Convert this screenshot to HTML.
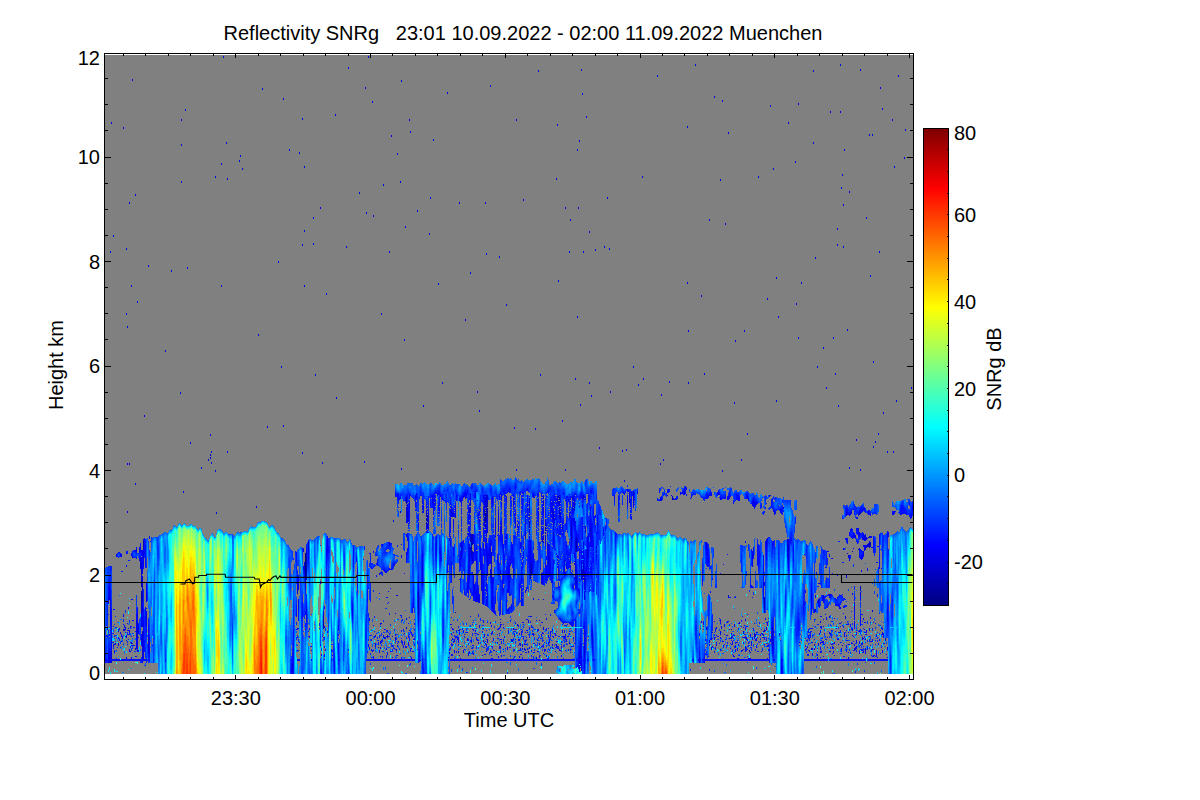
<!DOCTYPE html>
<html><head><meta charset="utf-8"><title>Reflectivity SNRg</title>
<style>html,body{margin:0;padding:0;background:#fff;width:1200px;height:800px;overflow:hidden}svg{display:block}</style>
</head><body>
<svg width="1200" height="800" viewBox="0 0 1200 800" shape-rendering="crispEdges">
<rect x="105" y="55" width="808" height="619" fill="#808080"/>
<g fill="none" stroke-width="1" transform="translate(0.5 0)"><path stroke="#000080" d="M305 556v19"/><path stroke="#000097" d="M305 553v3m0 19v2m180 -64v8m91 25v1"/><path stroke="#0000ae" d="M141 580v7m0 4v10m164 -24v3m1 -22v14m17 48v9m95 -32v17m8 -99v2m0 1v3m45 16v13m14 -39v1m0 9v2m0 1v1m1 -15v8m1 -13v2m0 1v5m42 1v2m0 1v3m0 1v7m2 42v4m14 -47v4m14 -36v1m0 1v3m17 41v5m0 1v5m96 -53v1m92 97v8m105 -58v1"/><path stroke="#0000c5" d="M109 662v1m2 -2v2m10 -22v1m14 6v2m6 -78v8m0 21v6m1 -22v16m1 -60v9m162 30v2m1 -27v3m0 14v4m3 53v1m14 -13v3m52 23v3m31 -149v7m0 123v2m1 -118v9m11 73v4m0 17v4m8 -106v3m0 7v2m1 -9v7m0 1v2m28 87v1m7 33v1m7 -48v1m1 -93v4m0 29v2m0 5v3m1 -16v3m0 13v3m1 -19v11m0 6v3m12 -44v6m0 1v6m1 -14v1m0 15v2m1 -32v5m0 6v4m0 8v3m1 -20v4m0 8v3m13 106v1m29 -115v5m0 16v4m1 34v12m1 -13v4m11 -30v2m1 0v1m2 -20v3m0 6v2m13 -38v2m0 1v1m1 1v3m0 9v1m12 10v15m5 -1v3m5 29v10m2 -14v8m0 1v2m0 1v2m4 -32v8m9 -6v3m33 -52v2m43 -7v3m1 -1v2m58 129v1m11 20v1m7 -1v2m15 -47v7m2 15v3m6 1v13m16 -99v14m26 85v2m1 -37v1m0 1v1m33 -57v2m4 -6v1m6 -3v1m1 -36v1m1 72v3m7 -44v1m1 -3v3m1 -4v4m1 -4v4"/><path stroke="#0000dc" d="M108 661v2m1 -68v5m0 57v2m0 2v1m1 -411v2m1 -131v2m0 526v9m2 -424v2m2 406v2m1 -91v1m5 -1v1m2 -428v2m0 500v2m1 -2v2m2 -383v2m0 63v2m0 250v2m1 -241v2m0 135v2m0 46v2m2 -311v2m0 259v2m0 165v2m2 -347v2m0 356v1m1 -565v2m0 476v1m0 85v1m3 -450v2m0 287v2m1 146v6m1 -336v2m0 320v14m1 0v1m1 -91v3m1 8v11m1 -4v7m0 35v7m1 -64v2m0 25v8m0 16v11m0 12v3m0 4v25m1 -117v2m0 13v5m1 -144v2m2 178v7m0 6v1m0 2v10m2 -356v2m0 372v8m2 -106v1m15 -192v2m6 -82v2m9 120v2m1 -275v2m0 23v2m0 35v2m2 308v2m2 -384v2m2 156v2m3 173v2m11 23v2m7 -10v2m2 -27v2m0 18v2m0 1v2m1 -8v2m0 9v2m4 -288v2m0 292v2m1 40v2m5 -351v2m0 120v2m2 -231v2m3 84v2m1 34v2m0 271v2m12 -293v2m1 -7v2m2 11v2m14 336v2m2 -174v2m4 -248v2m5 336v2m11 -167v2m3 103v2m2 -270v2m0 325v2m6 -278v2m3 513v10m5 -85v5m0 34v1m1 -1v1m1 -477v2m3 -36v2m0 124v2m0 206v2m2 -288v2m0 62v2m0 53v2m0 275v8m1 12v2m1 -32v3m0 21v3m2 -37v12m0 82v1m5 -420v2m0 24v2m2 129v2m5 -169v2m2 253v2m1 151v2m0 20v1m3 -345v2m9 -181v2m1 281v2m10 -153v2m2 -181v2m11 123v2m5 267v2m1 -376v2m1 123v2m2 -158v2m4 43v2m1 112v2m6 356v2m1 48v2m0 16v3m1 -331v2m2 -131v2m1 451v1m1 -1v2m2 -4v3m1 -47v1m1 -341v2m0 289v1m1 26v1m1 -435v2m2 383v2m3 73v1m1 -443v2m0 440v1m0 49v2m3 -466v2m0 328v2m1 -433v2m0 386v2m0 74v1m0 10v3m3 -219v2m0 292v1m1 -408v2m1 277v1m0 1v5m1 -4v3m0 9v3m1 -8v3m0 124v1m1 -524v2m0 513v1m1 -504v2m7 77v2m1 377v4m0 25v3m4 -54v4m1 -166v2m3 103v2m0 12v3m1 -14v1m0 11v3m1 -9v6m1 -292v2m1 -38v2m3 -60v2m5 142v2m4 97v2m5 -292v2m1 477v1m1 -33v2m0 111v2m1 -148v2m0 1v2m0 32v3m2 -32v3m1 -1v1m0 2v1m5 110v1m0 20v2m1 -451v2m0 426v1m1 -130v1m0 44v1m0 4v1m0 106v1m1 -115v8m4 -233v2m3 333v2m1 -152v2m0 1v5m0 32v24m1 -296v2m0 227v5m0 5v2m0 22v5m0 10v4m0 38v1m1 -40v3m1 -2v10m1 -5v4m0 11v1m0 78v2m3 -58v3m1 -209v2m1 205v5m1 -193v2m0 186v5m2 -30v11m0 3v4m1 64v1m1 -116v2m1 -36v4m0 13v3m1 -324v2m0 291v1m0 1v2m0 1v8m0 19v2m1 -276v2m0 245v6m0 15v3m1 -29v6m0 15v3m0 11v3m0 23v11m0 74v2m3 -558v2m0 461v10m1 -6v26m1 -82v2m5 144v2m2 -388v2m0 386v1m2 -151v7m0 25v8m2 93v1m3 -324v2m5 333v3m2 -14v2m0 28v1m1 -232v2m1 89v5m1 -404v2m0 348v2m1 153v2m4 -31v5m0 1v1m2 -403v2m1 447v2m1 -112v1m1 98v1m1 -6v1m2 -132v7m0 25v2m0 1v2m1 24v5m1 -5v4m2 67v3m2 -208v2m1 227v2m1 -30v1m0 9v2m1 -571v2m0 557v1m1 13v2m1 -271v2m2 160v4m1 -43v2m0 1v6m0 1v2m0 29v2m0 1v1m0 57v1m0 27v3m2 -110v3m0 12v5m1 115v2m2 -113v21m1 -8v11m0 77v1m3 -136v4m0 81v1m0 33v2m1 -119v11m0 9v9m1 -21v4m0 109v1m1 -1v1m1 -456v2m0 464v3m1 -523v2m0 370v4m0 35v1m1 -256v2m0 219v1m1 2v2m0 1v6m0 1v5m1 -9v1m0 1v5m2 -97v2m2 147v5m1 -367v2m0 260v2m3 30v1m1 -251v2m0 389v2m1 -425v2m0 275v1m1 23v4m0 15v4m1 -47v4m1 -1v2m0 1v5m0 1v2m1 -5v5m0 8v3m1 -143v2m0 162v10m0 13v20m1 -49v2m0 38v8m1 -435v2m0 165v2m1 -111v2m1 -69v2m0 515v2m0 2v3m0 1v7m1 -268v2m0 245v7m1 -589v2m0 494v5m1 -477v2m0 474v8m0 1v1m1 -328v2m0 242v4m0 61v6m1 4v12m0 64v11m1 -130v6m0 43v1m0 1v4m1 -466v2m1 438v7m2 -332v2m0 149v2m1 144v12m1 -145v2m0 133v6m1 102v3m3 -392v2m1 296v2m0 5v2m3 -109v2m5 -203v2m3 -51v2m2 49v2m1 141v2m4 102v1m8 -46v2m2 28v2m2 -33v2m3 41v9m4 -135v2m0 123v13m4 -11v1m1 -110v2m4 -210v2m1 200v2m14 -305v2m3 386v2m1 -71v2m2 63v2m4 34v1m2 -115v2m2 112v1m3 3v1m13 -374v2m0 154v2m1 46v2m0 50v2m7 -320v2m6 229v2m3 76v2m2 167v6m3 -329v2m1 274v1m1 151v3m1 -18v1m0 13v1m2 -551v2m6 81v2m0 450v4m2 -535v2m0 368v2m3 -249v2m0 273v1m3 -367v2m0 461v3m1 -101v2m4 156v1m1 -254v2m1 -64v2m6 117v2m2 170v3m1 -304v2m2 305v3m1 -207v2m0 63v1m1 159v1m2 -7v1m2 -150v1m1 -3v5m1 127v3m1 -2v3m3 -461v2m5 453v1m0 2v2m1 -53v3m0 26v1m0 17v2m1 -2v1m1 -92v8m1 -249v2m3 -195v2m2 520v4m0 13v4m1 -480v2m3 107v2m0 121v2m2 -86v2m2 194v1m7 26v13m1 -430v2m0 415v6m0 14v5m7 -403v2m1 140v2m2 -202v2m0 232v2m3 -57v2m10 312v6m0 47v1m1 -1v1m1 -580v2m0 70v2m1 504v2m1 -393v2m0 351v1m2 -245v2m0 233v2m1 -4v3m1 31v2m1 -14v2m3 -276v2m0 246v4m2 15v1m1 -228v2m1 162v1m0 95v1m1 -97v1m2 -441v2m1 531v1m1 -1v1m1 -308v2m2 34v2m2 -147v2m0 14v2m0 393v1m1 -235v2m0 232v1m2 -576v2m0 45v2m1 74v2m1 -15v2m0 469v1m1 -442v2m0 40v2m0 301v1m1 -401v2m2 424v3m1 -249v2m0 222v1m1 3v1m1 -367v2m0 274v2m1 44v2m1 -2v1m1 24v1m1 9v1m3 -110v2m3 72v1m0 18v2m0 14v1m1 -480v2m0 398v2m0 41v2m0 72v1m0 3v1m0 1v3m1 -36v1m0 90v1m1 -1v1m1 -106v2m0 6v4m0 81v1m1 -103v3m0 9v3m0 78v1m1 -95v4m0 10v1m0 98v3m1 -434v2m0 327v2m1 -4v2m1 -3v1m1 -410v2m0 400v1m0 4v2m1 -268v2m0 265v1m2 -409v2m0 474v2m1 -251v2m0 83v2m2 -7v2m2 214v1m1 -225v2m1 -184v2m1 -166v2m1 479v1m1 -461v2m0 518v1m1 -217v2m2 224v3m1 13v1m1 -204v2m5 -334v2m1 330v2m0 61v1m1 -349v2m2 232v2m2 -327v2m6 80v2m1 -30v2m6 256v2"/><path stroke="#0000f3" d="M108 597v7m0 51v4m1 -73v9m0 39v2m0 17v4m1 -58v21m0 37v2m0 2v2m1 -22v9m2 -8v1m1 7v3m2 -98v2m2 86v3m2 -93v1m0 78v2m1 -79v2m0 77v3m1 -1v3m1 -15v1m2 2v3m0 2v1m1 2v3m0 19v2m1 -36v1m0 20v1m1 -38v2m0 19v1m1 20v3m1 -26v1m0 15v1m0 8v1m1 -97v1m0 70v1m0 9v1m0 5v1m1 -87v1m3 -7v1m1 -4v5m0 68v11m0 6v12m1 -36v10m0 14v15m1 -27v9m1 -84v2m1 -2v1m1 -1v2m0 5v8m0 49v13m0 7v10m1 -92v22m0 2v1m0 35v12m0 32v3m0 2v2m1 -112v3m0 5v7m0 56v37m3 -77v13m0 26v6m2 3v9m0 8v6m1 -12v12m3 -8v1m139 23v5m1 -16v1m0 2v3m4 -52v5m0 7v1m1 -44v8m1 -9v10m0 9v11m1 32v1m4 -94v3m0 14v2m1 2v3m1 11v3m1 -38v3m0 27v1m0 29v9m2 -78v2m0 12v5m0 72v1m3 14v1m0 3v1m9 -7v2m1 8v2m2 -43v2m1 11v2m1 21v2m1 -102v5m1 -14v12m25 56v8m4 -57v3m1 11v10m11 5v1m0 55v3m1 -29v3m4 4v1m2 9v2m3 10v1m2 -22v1m0 29v1m1 -34v1m0 18v1m2 -8v3m1 -67v1m1 0v1m1 76v1m1 -20v2m1 -30v1m1 -60v1m0 25v1m2 -1v1m1 87v1m2 -10v1m1 -36v1m0 35v1m1 -1v2m1 -8v1m2 -145v1m1 -3v2m4 143v3m2 -133v5m0 17v3m0 15v3m0 63v2m1 -116v4m0 30v3m1 -31v5m0 3v4m0 121v3m1 -151v4m0 1v7m0 110v1m2 39v2m1 -49v3m1 -8v3m1 15v2m1 -130v3m3 87v4m0 32v3m1 37v1m3 -161v3m0 1v5m0 45v12m0 4v11m4 -75v2m0 18v2m1 -19v1m0 17v1m0 1v1m1 -16v4m0 6v5m4 -35v8m1 -3v5m1 -7v4m0 1v3m2 33v15m2 -60v1m1 -2v2m0 9v2m1 -11v2m0 54v8m1 -61v1m0 61v1m7 96v1m1 -122v1m0 1v1m1 -36v2m0 6v4m0 21v3m0 1v3m1 -34v8m0 116v2m1 -123v2m0 114v2m0 8v2m1 -128v4m0 4v4m0 23v2m0 80v1m0 2v1m1 -118v2m0 122v3m0 8v3m1 -147v12m4 -18v1m1 -2v2m0 42v3m0 6v8m0 86v1m1 -147v1m0 1v1m0 39v2m0 8v5m2 -62v3m0 152v3m1 -160v4m0 152v1m1 -157v6m1 -5v4m1 -1v1m0 86v6m0 48v3m1 -136v8m0 1v4m0 47v23m0 51v2m1 -138v1m0 8v4m0 18v2m0 32v10m1 -85v8m0 14v2m0 17v1m0 19v3m0 33v2m1 -36v3m0 81v3m2 -109v10m0 8v7m0 16v23m1 -14v10m1 -100v4m0 94v10m0 28v2m1 -85v3m0 1v2m0 2v11m0 24v7m0 3v2m0 35v3m1 -140v1m0 87v14m0 32v1m0 5v1m1 -49v6m0 36v1m0 5v1m0 1v2m1 -127v1m0 1v3m0 73v3m1 -52v24m1 -8v11m0 11v3m1 2v11m1 -105v4m0 36v5m0 3v8m0 29v23m0 37v2m1 -147v1m0 1v9m0 20v1m0 1v1m0 20v2m0 83v3m0 5v1m1 -113v3m0 11v3m0 45v1m0 48v1m0 1v2m1 -121v13m0 1v6m0 1v11m0 19v6m0 1v3m0 14v7m0 45v1m1 -133v11m0 21v5m0 11v7m0 65v2m1 -88v13m1 -19v11m1 -15v5m0 10v6m0 5v4m0 49v2m1 -126v2m0 78v6m0 14v5m0 30v2m0 20v1m1 -158v4m0 75v31m3 -86v11m0 109v1m3 -128v17m0 52v1m1 -88v3m0 135v1m0 10v3m1 -155v1m0 31v8m0 36v4m0 45v1m0 4v3m0 24v2m1 -151v2m0 20v2m0 98v1m4 -130v1m0 42v1m0 1v5m1 -49v2m0 36v5m1 108v3m1 -159v1m0 78v23m1 -102v2m0 72v22m1 -25v4m2 -18v6m0 86v2m1 -146v1m0 1v7m2 9v2m0 1v1m0 5v4m0 112v1m2 -114v2m0 1v1m0 1v2m1 104v1m0 1v1m0 5v1m1 -56v2m0 47v1m1 -98v6m0 39v1m0 55v3m0 8v1m1 -78v5m0 10v3m0 7v3m0 29v1m0 19v1m1 -7v2m1 -156v1m2 37v6m0 106v1m1 -15v1m0 13v1m1 -155v1m0 13v3m0 1v4m0 118v1m0 18v1m1 -30v3m0 28v2m1 -157v1m0 1v3m0 37v2m0 8v23m0 56v3m0 17v2m1 -109v22m0 54v1m1 -59v4m0 54v1m1 -57v15m0 55v1m1 -136v3m0 57v8m0 35v2m0 52v1m1 -1v1m2 -33v1m1 -72v1m1 -46v2m0 1v3m0 1v6m0 113v1m1 -11v1m2 -82v1m0 1v1m0 31v11m0 50v3m0 9v1m1 -151v1m0 1v1m0 31v5m0 41v9m0 47v1m0 13v1m1 -152v2m0 12v4m0 22v3m1 111v3m1 -135v1m0 1v1m0 20v4m0 19v5m0 81v2m1 -123v1m0 1v1m0 34v11m1 -33v12m1 10v10m0 60v3m0 4v3m1 -96v8m0 11v9m1 -17v20m0 52v2m1 -132v11m0 68v2m1 -78v5m0 4v5m0 61v3m0 13v2m0 46v2m0 1v1m1 -140v4m0 11v4m0 14v4m1 -27v2m1 -1v1m0 131v1m1 -153v2m0 1v1m1 -3v3m0 52v3m0 1v1m1 -58v2m0 52v1m1 -35v1m0 11v1m0 114v2m1 -156v1m0 11v1m0 1v1m0 7v5m0 128v1m1 -7v1m0 3v1m1 -124v4m0 101v3m0 3v1m1 -115v2m0 1v1m0 97v1m0 12v1m1 -77v9m0 5v1m0 47v1m0 13v3m1 -67v1m0 61v3m1 -141v1m0 68v4m2 -70v2m0 54v1m0 93v2m1 -137v4m0 36v1m0 68v1m1 -126v2m0 16v2m0 39v7m0 1v3m0 56v1m0 24v2m1 -133v2m0 23v3m0 79v1m0 20v1m1 -140v4m0 115v1m1 -131v3m0 11v3m0 5v3m1 -21v5m0 5v1m0 10v6m0 28v3m0 3v1m0 1v2m0 78v1m1 -123v2m0 14v5m0 16v7m0 20v4m0 32v6m0 1v6m1 -101v3m0 33v7m0 8v5m1 -52v14m1 37v1m1 -41v1m0 101v7m1 -14v8m0 7v1m0 2v5m0 1v1m1 -172v2m0 63v4m0 91v3m0 2v10m1 -176v5m0 51v2m0 10v1m0 2v1m1 -24v6m0 1v9m0 84v1m1 -148v2m0 1v1m0 64v1m0 1v3m0 13v8m0 1v9m0 30v16m0 11v2m0 2v8m1 -143v1m0 44v3m0 1v1m0 6v7m1 -39v21m1 -35v12m0 15v5m1 -34v14m0 2v7m2 -34v5m0 12v7m1 -22v5m0 6v11m1 -11v11m0 84v7m0 3v7m4 -102v1m0 9v2m1 -43v12m7 6v1m1 -4v1m9 -35v3m9 -6v1m1 0v1m3 -4v1m0 7v5m6 0v3m4 -15v1m23 4v4m1 -2v2m7 -9v1m1 -2v1m6 6v2m1 -1v1m4 -7v2m3 -2v2m1 -4v4m1 -5v1m1 4v1m4 2v1m1 -3v2m8 160v1m0 2v2m1 -35v1m1 -8v2m2 3v1m1 34v2m2 -115v7m0 72v3m1 -87v12m1 1v7m0 93v1m1 -162v1m0 144v3m0 1v2m1 -152v1m1 -1v2m3 141v1m1 -1v1m1 -11v2m0 6v1m0 9v1m1 -10v1m1 -145v3m0 141v1m1 -143v1m0 2v1m1 0v2m0 149v1m1 -151v1m0 126v3m1 12v1m2 -18v3m1 -130v1m1 137v1m1 -138v2m0 135v1m1 -138v2m1 -5v2m0 132v1m0 8v1m1 -1v1m1 -6v2m0 1v3m0 5v1m1 -1v1m1 -7v1m0 17v1m1 -33v3m0 8v1m0 20v1m3 -160v3m1 -2v3m0 143v2m1 -148v3m0 121v2m2 26v2m2 -25v1m1 -3v1m0 11v1m1 -97v2m0 76v2m0 6v3m0 16v3m2 -153v2m1 2v1m1 157v1m1 -1v1m1 -18v2m1 -142v2m0 1v2m0 45v16m0 19v2m0 49v3m1 -140v1m0 5v1m0 46v6m1 -58v5m0 117v1m1 -121v4m0 133v1m1 -139v3m0 127v1m0 7v1m1 -9v1m2 9v1m2 -10v1m1 -1v2m1 -80v1m0 26v13m1 -13v1m0 61v1m1 -104v1m1 5v8m0 67v1m1 -85v2m0 82v4m0 19v1m0 12v1m1 -14v1m0 3v2m2 -156v1m0 143v3m2 -18v3m0 21v3m1 -140v1m0 124v13m1 -138v4m1 -3v2m5 -3v1m1 0v2m0 152v8m2 -167v1m4 44v4m1 8v3m11 75v1m5 -89v1m2 85v1m1 5v2m1 -13v3m0 12v1m3 -65v10m0 6v11m0 29v1m1 -1v1m2 -34v3m0 27v1m1 -45v3m2 56v2m1 -73v1m0 18v5m0 36v3m1 -63v1m1 58v2m0 7v2m1 -11v1m1 -2v2m1 -44v3m0 39v1m2 -75v1m2 69v1m1 -44v1m1 -41v3m0 37v3m0 19v2m0 14v2m0 17v1m1 -58v2m0 55v1m1 -94v1m0 78v1m1 -80v1m2 96v1m2 -51v1m0 20v1m0 1v1m1 -54v1m0 29v1m1 26v1m0 11v1m1 -38v2m0 14v1m0 8v1m1 -26v2m0 14v1m0 18v1m2 -49v1m0 30v1m1 -78v1m1 84v4m1 -21v3m1 -108v5m0 22v1m1 -27v3m0 23v1m1 93v1m0 11v1m0 12v2m1 -145v2m0 39v6m0 83v1m1 -133v1m0 16v1m1 -18v1m0 24v1m0 91v1m0 13v1m1 -107v1m0 55v2m0 33v3m0 4v1m0 7v1m1 -108v2m1 -4v4m0 64v7m0 35v2m0 2v3m1 -116v2m0 110v3m1 -122v1m0 111v3m0 3v3m1 -106v1m1 -30v2m0 12v7m1 -24v2m0 21v2m0 13v2m0 6v1m0 72v2m1 -122v2m0 45v2m0 36v3m1 -88v1m0 46v2m0 11v2m1 -33v1m0 15v4m0 78v3m0 12v1m1 -119v6m0 11v2m1 -18v1m0 3v2m0 4v3m1 -14v1m0 4v2m0 4v4m0 85v1m1 -98v3m0 5v1m0 84v3m0 1v1m1 -97v1m1 -29v5m0 22v1m1 -1v1m1 -2v2m0 103v1m1 -106v2m0 103v1m0 8v2m1 -3v1m1 -1v1m3 -88v1m0 71v3m0 16v3m1 -110v1m0 15v1m1 -17v1m1 92v2m3 -9v3m1 1v2m0 5v1m1 -1v1m3 -35v5m0 33v3m1 -118v1m4 -20v2m1 -3v2m1 -3v3m17 2v2"/><path stroke="#000cff" d="M105 654v9m1 -38v1m0 9v2m0 22v2m1 -33v2m0 29v2m1 -75v11m0 53v5m0 4v2m1 -80v5m0 62v5m0 6v2m1 -95v5m0 18v10m0 21v6m0 25v6m0 2v2m1 -53v33m0 18v2m1 -2v2m1 -52v1m0 16v1m0 17v3m0 12v2m1 -52v1m0 34v1m0 14v2m1 -2v2m1 -2v2m1 -108v1m0 93v1m0 11v2m1 -32v3m0 5v2m0 20v2m1 -109v1m0 75v2m0 9v2m0 18v2m1 -107v3m0 103v1m1 -2v2m1 -2v2m1 -47v3m0 42v2m1 -36v3m0 31v2m1 -25v1m0 22v2m1 -110v3m0 86v1m0 18v2m1 -31v1m0 28v2m1 -101v1m0 69v1m0 8v1m0 19v2m1 -101v1m0 98v2m1 -34v1m0 31v2m1 -108v2m0 44v1m0 45v1m0 11v4m1 -110v1m0 3v1m0 43v1m0 20v1m0 24v1m0 13v2m1 -104v1m0 62v1m0 6v1m0 7v1m0 9v1m0 13v2m1 -111v1m0 76v1m0 17v1m0 13v2m1 -110v1m0 79v1m0 24v1m0 2v2m1 -103v1m0 55v6m0 36v1m0 2v2m1 -54v6m0 46v2m1 -38v2m0 25v2m0 7v2m1 -109v1m0 5v3m0 98v2m1 -116v5m0 1v2m0 4v1m0 101v2m1 -109v4m0 88v2m0 13v2m1 -2v2m1 -111v1m0 15v3m0 39v14m0 37v2m1 -123v17m0 85v12m0 7v2m1 -116v20m0 42v21m0 31v2m1 -34v5m0 27v2m1 -1v1m1 -37v6m0 23v4m0 2v2m1 -125v3m0 95v7m0 12v5m0 1v2m4 -2v2m12 -2v2m125 -1v1m1 -2v2m0 2v6m1 -16v5m0 1v2m1 -32v45m3 -122v10m0 43v7m0 17v1m1 -55v6m0 48v1m0 20v1m0 8v2m1 -86v5m0 30v11m0 29v1m0 8v2m1 -2v2m3 -59v17m1 -71v1m0 19v3m1 2v4m1 10v3m0 22v3m0 8v3m1 -79v2m0 52v8m0 9v6m2 -65v4m1 65v1m0 7v2m2 21v2m8 -33v1m1 -48v3m1 89v1m2 -62v1m1 -7v3m0 37v2m0 6v3m0 2v1m2 -117v6m0 5v10m1 -28v4m0 12v5m0 74v2m1 -87v7m3 106v2m1 -6v1m1 3v2m1 -4v15m4 -47v6m0 3v2m0 7v12m0 4v2m1 -2v2m4 -2v1m5 -11v1m4 -46v4m0 8v4m1 -72v20m3 -11v2m1 10v4m0 10v5m6 -29v1m3 99v2m1 -72v13m0 57v2m1 -2v2m1 -108v1m0 93v3m0 9v2m1 -2v2m1 -93v1m0 70v2m0 8v2m0 8v2m1 -93v1m0 81v2m0 7v2m1 -110v2m0 97v1m0 5v5m1 -25v2m0 21v2m1 -96v1m0 93v2m1 -98v2m0 10v2m0 82v2m1 -102v7m0 93v2m1 -19v3m0 14v2m1 -68v1m0 41v3m0 12v3m0 6v2m1 -89v2m0 73v2m0 10v2m1 -117v1m0 95v2m0 17v2m1 -117v2m0 113v2m1 -92v2m0 88v2m1 -92v2m0 58v1m0 8v1m0 20v2m1 -91v2m0 57v1m0 29v2m1 -90v2m0 24v1m0 50v1m0 10v2m1 -64v1m0 54v3m0 4v2m1 -119v2m0 26v1m0 88v2m1 -117v3m0 21v1m0 90v2m1 -118v2m0 106v1m0 7v2m1 -118v1m0 24v1m0 82v1m0 7v2m1 -2v2m1 -97v3m0 92v2m1 -98v3m0 93v2m1 -168v4m0 66v1m0 70v2m0 1v3m0 19v2m1 -166v2m0 158v1m0 3v2m1 -168v4m0 158v1m0 3v2m1 -168v8m0 140v2m0 16v2m1 -164v2m0 160v2m1 -165v1m0 85v1m0 32v1m0 43v2m1 -79v1m0 55v1m0 1v3m0 16v2m1 -42v2m0 21v3m0 14v2m1 -32v2m0 14v3m0 11v2m1 -2v2m1 -164v4m0 145v2m0 11v2m1 -165v1m0 20v6m0 32v8m0 74v2m0 7v2m0 11v2m1 -166v8m0 30v5m0 10v7m0 104v2m1 -155v4m0 13v2m0 11v15m0 72v1m0 11v3m0 21v2m1 -167v1m0 12v11m0 112v1m0 7v3m0 18v2m1 -166v1m0 135v2m0 15v1m0 7v1m0 2v2m1 -29v3m0 13v1m0 10v2m1 -54v3m0 24v3m0 14v1m0 7v2m1 -64v8m0 34v1m0 11v1m0 7v2m1 -23v2m0 19v2m1 -163v9m1 -14v7m0 2v1m2 16v2m0 1v6m0 53v4m0 39v3m0 32v2m0 1v1m1 -165v1m0 153v9m1 -1v1m1 -166v1m1 2v3m0 10v2m0 37v5m0 27v4m0 73v2m0 2v6m1 -166v10m0 155v6m2 -15v2m1 -157v3m0 22v1m0 1v2m1 -24v1m0 21v2m1 -23v5m0 17v1m2 -31v5m1 -12v3m1 5v5m1 -14v6m0 5v10m1 -22v5m0 8v3m1 -17v2m0 1v3m0 1v5m0 39v13m1 -64v2m0 41v4m0 15v5m1 -66v3m1 -5v3m0 11v6m0 1v2m1 -23v2m0 4v7m0 3v4m0 36v7m1 -60v1m0 52v4m0 8v4m1 -68v1m0 59v1m0 1v3m1 -62v2m1 -1v2m2 1v1m2 59v11m1 86v2m1 -129v4m0 114v1m1 -151v3m0 12v18m0 1v1m0 89v1m0 34v2m1 -155v3m0 54v20m0 41v1m0 29v2m0 3v2m1 -151v2m0 132v2m0 8v2m0 3v2m1 -151v2m0 12v4m0 21v7m0 85v2m0 16v2m1 -152v1m0 1v1m0 1v2m0 144v2m1 -158v3m0 130v2m0 21v2m1 -167v7m0 135v2m0 13v2m0 6v2m1 -24v3m0 19v2m1 -24v6m0 16v2m1 -163v2m0 56v9m0 67v3m0 20v1m0 3v2m1 -163v1m0 61v7m0 13v3m0 76v2m1 -166v5m0 1v1m0 1v4m0 1v2m0 47v5m0 97v2m1 -165v5m0 40v14m0 73v2m0 29v2m1 -168v2m0 45v4m0 86v3m0 26v2m1 -169v1m0 98v4m0 39v1m0 24v2m1 -170v2m0 166v2m1 -170v3m0 138v1m0 26v2m1 -170v4m0 41v3m0 39v6m0 6v3m0 39v1m0 26v2m1 -167v1m0 6v2m0 15v6m0 2v6m0 1v3m0 5v24m0 23v5m0 66v2m1 -165v1m0 1v2m0 16v4m0 1v4m0 1v8m0 44v6m0 67v3m0 5v2m1 -144v2m0 38v4m0 27v2m0 26v1m0 42v2m1 -102v3m0 86v1m0 10v2m1 -89v4m0 16v4m0 33v1m0 15v1m0 2v1m0 10v2m1 -63v3m0 28v2m0 14v1m0 13v2m1 -167v4m0 37v21m0 38v7m0 58v2m1 -170v3m0 55v11m0 22v10m0 41v1m0 25v2m1 -170v1m0 53v2m0 6v2m0 11v4m0 15v5m0 43v1m0 25v2m1 -79v6m0 71v2m1 -148v7m0 68v4m0 67v2m1 -150v5m0 6v8m0 1v3m0 10v7m0 43v1m0 30v3m0 31v2m1 -2v2m1 -108v9m0 97v2m1 -98v26m0 11v4m0 24v1m0 2v2m0 26v2m1 -161v5m0 1v12m0 1v2m0 1v4m0 1v8m0 16v5m0 16v8m0 23v2m0 16v2m0 14v1m0 21v2m1 -131v2m0 9v1m0 9v7m0 96v1m0 4v2m1 -162v1m0 33v1m0 1v1m0 1v7m0 3v9m0 33v2m0 63v1m0 4v2m1 -117v1m0 11v7m0 22v7m0 1v1m0 2v3m0 31v1m0 6v1m0 1v1m0 4v3m0 12v2m1 -115v5m0 23v2m0 13v18m0 15v1m0 36v2m1 -112v4m0 106v2m1 -120v6m0 11v6m0 95v2m1 -122v4m0 30v5m0 81v2m1 -161v4m0 36v6m0 38v14m0 5v7m0 15v2m0 19v1m0 11v3m1 -159v3m0 44v2m0 57v4m0 19v3m0 12v1m0 11v3m1 -115v8m0 23v7m0 12v17m0 25v3m0 9v1m0 8v2m1 -126v1m0 68v10m0 36v1m0 8v2m1 -143v4m0 11v2m0 1v1m0 59v8m0 7v4m0 44v2m1 -10v1m0 7v2m1 -161v1m0 34v1m0 18v10m0 65v1m0 4v1m0 3v1m0 20v2m1 -165v1m0 14v4m0 18v2m0 3v4m0 20v9m0 57v2m0 8v1m0 17v2m0 1v2m1 -166v2m0 38v2m0 91v1m0 4v1m0 25v2m1 -169v2m0 29v2m0 9v7m0 35v1m0 23v15m0 24v1m0 6v3m0 10v2m1 -157v3m0 14v3m0 10v9m0 96v1m0 1v3m0 11v2m0 2v2m1 -125v13m0 30v12m0 22v2m0 44v2m1 -171v3m0 51v21m0 6v13m0 4v5m0 50v1m0 5v1m0 1v1m0 7v2m1 -171v6m0 59v12m0 69v2m0 21v2m1 -169v2m0 2v1m0 1v1m0 37v2m0 7v3m0 100v1m0 10v2m1 -163v4m0 37v5m0 22v9m0 21v15m0 48v2m1 -170v2m0 66v21m0 9v4m0 16v4m0 46v2m1 -172v2m0 71v8m0 38v4m0 16v1m0 3v2m0 25v2m1 -173v3m0 68v6m0 22v9m0 11v2m0 50v2m1 -173v4m0 4v5m0 9v7m0 1v1m0 37v6m0 13v2m0 82v2m1 -119v21m0 41v5m0 50v2m1 -117v4m0 6v9m0 96v2m1 -167v2m0 9v3m0 49v23m0 79v2m1 -163v2m0 1v3m0 7v1m0 1v4m0 18v4m0 95v3m0 12v2m0 5v2m0 1v2m1 -176v5m0 21v3m0 13v1m0 94v2m0 5v1m0 29v2m1 -32v1m0 29v2m1 -137v2m0 7v3m0 123v2m1 -139v2m0 2v4m0 95v2m0 13v1m0 9v1m0 8v2m1 -167v1m0 89v6m0 2v6m0 35v2m0 5v1m0 2v2m0 5v1m0 5v2m0 1v2m1 -168v2m0 53v1m0 4v3m0 26v5m0 61v3m0 8v2m1 -169v1m0 40v6m0 4v4m0 24v6m0 5v1m0 5v4m0 13v1m0 23v1m0 1v3m0 25v2m1 -169v2m0 1v2m0 1v11m0 46v1m0 1v3m0 2v8m0 26v1m0 1v8m0 16v1m0 21v3m0 12v2m1 -169v2m0 52v4m0 1v7m0 64v1m0 1v1m0 34v2m1 -18v2m0 14v2m1 -146v17m0 58v3m0 39v1m0 7v3m0 6v2m0 1v1m0 6v2m1 -74v4m0 28v1m0 32v1m0 6v2m1 -173v2m0 5v9m0 8v5m0 102v1m0 39v2m1 -171v2m0 48v23m0 97v1m1 -121v8m0 23v5m0 61v1m0 21v2m1 -2v2m1 -111v8m0 92v2m0 7v2m1 -168v4m0 57v6m0 73v2m0 24v2m1 -168v2m0 58v2m0 8v5m0 75v1m0 15v2m1 -166v3m0 145v1m0 15v2m1 -1v1m1 -2v2m1 -167v3m0 133v2m0 19v1m0 7v2m1 -168v4m0 1v6m0 13v7m0 75v1m0 38v1m0 9v1m0 2v1m0 7v2m1 -119v4m0 110v2m0 1v2m1 -93v2m0 89v2m1 -168v4m0 22v6m0 1v4m0 1v8m0 83v1m0 37v1m1 -160v2m0 1v11m0 9v1m0 1v1m0 1v2m0 42v4m0 46v1m0 10v1m0 25v2m1 -148v3m0 13v5m0 42v9m0 48v1m0 12v2m0 5v1m0 5v2m1 -19v1m0 16v2m1 -152v8m0 27v3m0 21v13m0 78v2m1 -137v3m0 29v4m0 16v5m0 37v2m0 23v1m0 15v2m1 -106v25m0 78v3m1 -170v3m0 81v3m0 50v1m0 30v2m1 -117v5m0 91v3m0 16v2m1 -161v17m0 35v8m0 71v1m0 27v2m1 -162v2m0 13v4m0 55v8m0 50v1m0 27v2m1 -160v4m0 14v3m0 25v2m0 18v13m0 79v2m1 -165v10m0 21v4m0 14v3m0 11v10m0 22v3m0 4v2m0 36v2m0 21v2m1 -167v7m0 13v3m0 18v15m0 60v1m0 1v1m0 46v2m1 -165v8m0 11v4m0 8v1m0 72v1m0 33v2m0 23v2m1 -165v1m0 1v1m0 4v17m0 4v3m0 6v2m0 18v2m0 1v1m0 84v1m0 17v2m1 -158v2m0 16v2m0 5v5m0 27v1m0 1v3m0 1v2m0 73v1m0 4v1m0 1v1m0 10v2m1 -157v3m0 50v2m0 5v13m0 2v1m0 7v1m0 58v1m0 1v1m0 10v2m1 -138v1m0 1v9m0 45v2m0 5v2m0 31v1m0 39v2m1 -165v7m0 1v2m0 16v1m0 1v11m0 24v1m0 59v2m0 38v2m1 -137v1m0 2v1m0 50v1m0 41v2m0 24v2m0 7v2m0 2v2m1 -140v4m0 4v3m0 1v2m0 42v1m0 44v1m0 1v1m0 34v2m1 -167v1m0 25v2m0 8v6m0 1v1m0 29v8m0 47v1m0 35v3m1 -107v6m0 15v1m0 83v2m1 -102v3m0 11v2m0 47v1m0 36v2m1 -164v7m0 16v9m0 14v12m0 7v3m0 57v1m0 16v3m0 17v2m1 -165v2m0 52v19m0 55v1m0 11v1m0 22v2m1 -163v1m0 53v3m0 3v11m0 67v1m0 22v2m1 -167v1m0 15v1m0 1v2m0 25v1m0 1v2m0 9v2m0 7v7m0 91v2m1 -160v2m0 9v2m0 1v1m0 2v18m0 9v12m0 11v2m0 52v2m0 12v1m0 15v1m0 6v2m1 -115v4m0 22v1m0 49v3m0 34v2m1 -159v5m0 4v4m0 3v23m0 44v3m0 34v4m0 20v1m0 12v2m1 -166v1m0 17v1m0 7v5m0 27v1m0 31v4m0 32v5m0 11v2m0 20v2m1 -165v4m0 27v5m0 21v2m0 22v2m0 41v1m0 38v2m1 -167v1m0 28v14m0 15v6m0 61v2m0 13v6m1 -110v3m0 32v4m0 34v1m0 55v2m1 -128v4m0 39v12m0 1v2m0 68v2m1 -127v8m0 8v1m0 38v2m0 61v17m1 -173v2m0 51v17m0 15v1m0 7v6m0 51v4m0 9v2m1 -169v3m0 1v1m0 53v3m0 84v6m0 16v2m1 -167v2m0 2v1m0 51v9m0 1v1m0 82v13m0 3v2m1 -168v2m0 9v4m0 9v23m0 15v4m0 1v3m0 21v7m0 69v1m1 -135v1m0 14v2m0 83v3m0 4v1m0 25v2m1 -167v1m0 60v1m0 1v5m0 1v1m0 59v7m0 29v2m0 8v5m1 -176v2m0 68v3m0 18v3m0 4v1m0 1v1m0 32v22m0 6v2m1 -112v1m0 21v6m1 -63v2m0 4v4m0 44v6m0 85v2m1 -168v1m0 1v6m0 23v1m0 8v1m0 14v2m0 7v5m0 5v10m0 59v1m0 22v2m1 -141v17m0 5v6m1 -58v3m0 13v10m0 1v6m0 41v1m0 1v7m1 -83v4m0 25v6m0 28v1m0 7v17m0 51v8m1 -114v13m0 14v1m0 3v1m0 2v6m0 19v1m0 45v3m0 17v4m0 7v1m1 -153v8m0 1v4m0 20v11m0 1v11m0 5v1m0 18v5m0 67v2m1 -145v8m0 135v2m1 -146v3m0 7v2m1 5v3m0 23v3m1 -34v7m6 -7v9m2 -10v4m9 -31v3m1 30v9m3 -45v10m4 -14v1m0 10v2m1 -13v1m1 0v1m1 -2v1m2 -4v2m0 4v4m0 5v3m1 -18v3m2 0v1m0 5v9m0 1v1m0 1v3m0 1v4m1 -27v11m0 12v1m0 1v4m1 -26v2m1 11v1m1 -15v8m0 1v1m0 1v1m3 -14v1m20 6v1m2 -8v2m0 6v2m2 -5v3m6 -8v2m1 -3v2m1 -3v2m7 7v1m1 -2v2m3 -7v1m1 -1v2m1 -2v2m1 -3v2m1 -5v3m1 -4v3m0 1v3m1 -6v2m0 4v1m5 0v1m1 163v2m1 -167v1m0 164v2m2 -167v1m3 164v2m1 -28v3m0 15v7m0 1v2m1 -2v2m2 -164v1m0 71v13m0 77v2m1 -163v2m0 121v4m0 34v2m1 -6v6m1 -119v8m0 89v2m0 2v1m0 10v1m0 4v2m1 -167v5m0 56v8m0 91v1m0 4v2m1 -167v5m0 56v11m0 93v2m1 -166v3m0 51v7m0 7v4m0 42v2m0 48v2m1 -167v1m0 164v2m1 -169v2m0 74v1m0 22v2m0 46v1m0 19v2m1 -169v2m0 144v2m0 19v2m1 -82v1m0 58v1m0 20v2m1 -2v2m1 -40v1m0 16v2m0 11v2m0 6v2m1 -33v3m0 28v2m1 -2v2m1 -169v4m0 163v2m1 -170v1m0 167v2m1 -169v2m0 149v1m0 15v2m1 -165v2m0 121v5m0 13v2m0 20v2m1 -164v2m0 160v2m1 -164v2m0 160v2m1 -16v3m0 11v2m1 -164v2m0 131v1m0 28v2m1 -166v2m0 142v1m0 19v2m1 -39v1m0 36v2m1 -165v2m0 56v1m0 66v2m0 36v2m1 -165v2m0 123v1m0 37v2m1 -168v2m0 164v2m1 -166v2m0 151v1m0 10v2m1 -2v2m1 -20v3m0 15v2m1 -159v2m0 136v1m0 18v2m1 -64v1m0 61v2m1 -16v3m0 1v3m0 7v2m1 -167v6m0 142v1m0 16v2m1 -167v3m0 145v1m0 5v3m0 7v3m1 -166v3m0 125v1m0 4v2m0 28v3m1 -165v2m0 161v2m1 -2v2m1 -2v2m1 -45v1m0 42v2m1 -19v2m0 5v1m0 9v2m1 -27v1m0 24v2m1 -27v1m0 1v3m0 10v3m0 7v2m1 -167v5m0 127v1m0 32v2m1 -167v2m0 118v1m0 11v1m0 12v2m0 8v1m0 9v2m1 -164v3m0 142v2m0 15v2m1 -2v2m1 -77v4m0 46v3m0 22v2m1 -158v1m0 45v3m0 22v1m0 10v3m0 55v3m0 13v2m1 -161v1m0 96v1m0 61v2m1 -163v2m0 47v6m0 34v1m0 71v2m1 -162v2m0 5v3m0 127v3m0 20v2m1 -160v2m0 136v1m0 19v2m1 -160v1m0 136v2m0 5v3m0 11v2m1 -159v2m0 41v20m0 72v1m0 21v2m1 -115v21m0 92v2m1 -111v14m0 95v2m1 -27v2m0 5v1m0 17v2m1 -156v3m0 143v1m0 7v2m1 -24v1m0 21v2m1 -105v26m0 13v5m0 37v1m0 21v2m1 -150v2m0 124v3m0 19v2m1 -119v7m0 69v2m0 39v2m1 -158v1m0 51v6m0 98v2m1 -121v6m0 113v2m1 -43v1m0 2v1m0 22v1m0 14v2m1 -166v2m0 162v2m2 -162v7m0 120v14m1 -132v1m0 32v7m0 72v4m0 27v3m1 -145v2m0 30v5m0 82v8m0 13v5m0 5v2m1 -151v1m0 148v2m1 -150v1m4 -3v2m0 122v2m1 -126v2m0 129v1m1 -132v3m0 147v7m1 -159v5m0 147v2m0 6v7m1 -166v1m0 2v1m4 44v3m1 8v4m1 -31v10m1 -13v6m1 -5v3m2 4v17m5 57v12m5 -30v12m1 -11v4m0 53v2m1 -71v3m0 45v1m0 6v2m0 2v2m0 8v2m1 -13v2m0 9v2m1 -7v1m0 4v2m1 -32v4m0 5v1m0 15v1m0 4v2m1 -32v1m0 2v1m0 5v3m0 9v2m0 7v2m1 -29v6m0 21v2m1 -80v5m0 42v1m0 2v1m0 16v1m0 10v2m1 -53v1m0 19v1m0 19v1m0 4v3m0 3v2m1 -2v2m1 -49v1m0 46v2m1 -2v2m1 -89v3m0 84v2m1 -13v1m0 8v4m1 -2v2m1 -63v10m0 51v2m1 -45v1m0 13v3m0 14v3m0 9v2m1 -45v1m0 9v3m0 9v1m0 20v2m1 -66v6m0 58v2m1 -111v3m0 49v1m0 16v1m0 6v1m0 15v3m0 11v1m0 2v2m1 -65v5m0 32v1m0 10v1m0 14v2m1 -22v1m0 19v2m1 -44v3m0 19v1m0 19v2m1 -66v1m0 11v1m0 51v2m1 -66v1m1 1v1m0 61v2m1 -65v2m0 35v3m0 23v2m1 -67v1m0 35v1m0 28v2m1 -15v2m0 11v2m1 -14v1m0 3v2m0 6v2m1 -43v1m0 23v2m0 15v2m1 -63v1m0 6v1m0 25v1m0 27v2m1 -62v2m0 2v2m0 54v2m1 -64v2m0 4v2m0 30v1m0 23v2m1 -65v1m0 7v3m0 52v2m1 -66v1m0 8v3m0 52v2m1 -66v1m0 8v1m0 54v2m1 -66v1m0 26v1m0 25v2m0 1v1m0 7v2m1 -143v1m0 77v2m0 61v2m1 -55v2m0 51v2m1 -63v1m0 7v2m0 51v2m1 -123v1m0 120v2m1 -154v4m0 28v2m0 83v1m0 5v1m0 4v2m0 3v1m0 4v3m0 1v3m0 7v2m1 -152v3m0 27v5m0 80v1m0 15v1m0 18v2m1 -149v3m0 108v2m0 27v1m0 6v2m1 -149v2m0 18v4m0 123v2m1 -150v1m0 18v3m0 2v2m0 18v1m0 68v3m0 32v2m1 -151v2m0 16v3m0 5v1m0 122v2m1 -132v2m0 4v2m0 122v2m1 -129v4m0 100v1m0 4v1m0 17v2m1 -128v1m0 64v3m0 8v11m0 1v8m0 30v2m1 -124v2m0 120v2m1 -144v2m0 10v5m0 7v1m0 90v3m0 15v2m0 7v2m1 -144v2m0 9v7m0 7v1m0 116v2m1 -149v2m0 21v2m0 122v2m1 -151v1m0 25v1m0 14v6m0 84v3m0 7v3m0 5v2m1 -153v2m0 23v3m0 13v2m0 4v2m0 41v3m0 16v9m0 19v1m0 3v1m0 9v2m1 -154v3m0 1v2m0 37v2m0 2v3m0 57v1m0 28v2m0 4v1m0 9v2m1 -153v4m0 20v7m0 12v4m0 59v1m0 27v3m0 4v1m0 9v2m1 -153v3m0 22v1m0 84v2m0 31v2m0 6v2m1 -153v4m0 110v1m0 9v1m0 26v2m1 -39v1m0 9v1m0 5v2m0 11v3m0 5v2m2 -93v3m0 75v4m0 10v1m1 -2v2m1 -151v5m0 113v3m0 28v2m1 -147v2m0 101v2m0 3v1m0 22v1m0 13v2m1 -114v1m0 107v1m0 3v2m1 -114v1m0 91v3m0 14v1m0 2v2m1 -125v17m0 69v1m0 32v2m0 2v2m1 -6v1m0 3v2m1 -38v1m0 16v1m0 3v1m0 14v2m1 -11v3m0 6v2m1 -2v2m1 -18v2m0 14v2m1 -127v10m0 15v10m0 90v2m1 -2v2m1 -34v2m0 18v1m0 11v2m1 -32v1m0 20v3m0 6v2m1 -28v3m0 23v2m1 -2v2m1 -2v2m1 -2v2m1 -130v8m0 62v8m0 5v8m0 35v1m0 1v2m1 -128v4m2 122v2m2 -150v2m1 -2v1m2 -1v1m5 -4v7m1 -10v10m1 -10v9m1 -7v7m1 -5v4m1 -2v3m1 -2v3m3 1v1m1 -3v5m1 -6v3m1 -11v6"/><path stroke="#0023ff" d="M105 645v9m1 7v2m1 -62v21m0 13v3m0 23v2m1 -84v7m0 28v1m0 15v2m0 10v8m1 -75v6m0 46v1m0 14v6m1 -77v18m0 37v7m0 12v6m1 -85v4m0 30v8m1 25v1m0 8v1m1 -10v1m0 13v2m1 -25v1m0 10v2m1 -21v1m0 10v1m1 -1v1m0 9v1m0 20v1m1 -105v3m1 -5v1m0 4v1m1 -5v1m0 2v1m1 90v1m1 -77v1m1 -1v1m1 47v3m4 -71v3m0 78v3m0 6v2m1 -9v1m1 -15v2m0 10v3m1 11v2m2 -96v3m0 78v1m1 -84v1m1 0v1m1 0v1m0 4v1m1 -6v2m0 3v1m0 50v6m3 -61v5m0 76v1m1 -92v2m0 8v4m0 81v2m0 21v2m1 -6v2m0 2v2m2 -74v19m1 -53v3m0 58v24m1 -101v6m0 20v3m0 60v14m0 5v11m1 -94v4m0 64v5m0 24v2m1 -71v9m0 43v2m1 -27v5m0 33v2m1 -33v8m0 24v1m0 2v1m141 6v6m1 -13v2m1 -15v5m1 -95v2m0 47v22m2 -78v3m1 8v11m0 27v5m0 17v2m0 13v3m1 -70v5m0 60v3m0 7v1m1 -9v1m0 1v3m3 -40v20m1 -74v4m0 45v5m0 17v9m1 -57v3m0 37v6m1 -40v3m0 30v9m1 -29v4m0 10v8m0 14v4m1 -85v2m0 47v7m0 23v4m1 -85v20m1 0v3m2 80v1m9 -24v3m2 44v3m2 -62v1m1 25v3m1 -12v3m1 -92v4m0 21v20m1 -27v4m1 -22v7m0 7v8m1 -15v7m2 96v3m1 -2v2m1 -5v12m0 2v5m1 -13v4m0 15v2m4 -54v5m0 30v4m0 2v4m14 -64v3m0 16v3m1 -78v3m0 20v4m3 -17v2m1 10v2m0 19v3m7 -45v4m1 78v14m1 -28v26m1 -67v16m0 13v9m0 40v2m1 -40v4m0 22v2m1 -78v4m1 -14v15m0 14v20m0 33v1m0 17v2m1 -92v1m0 2v2m0 67v1m0 21v1m1 -95v1m0 3v1m0 89v1m1 -92v2m0 22v2m1 -28v3m0 49v2m0 13v1m1 -78v2m0 90v3m1 -95v2m0 77v1m1 -88v1m0 90v2m0 1v1m1 -96v1m0 19v1m0 66v1m0 7v1m3 -96v1m0 25v4m0 58v2m1 -89v1m0 19v4m0 2v4m0 63v3m0 9v1m0 4v2m1 -114v1m0 7v1m0 13v3m0 82v1m1 -101v3m0 13v2m1 -20v5m0 14v2m1 -23v3m0 2v1m0 16v2m0 65v1m0 18v3m1 -114v5m0 20v3m1 -28v5m0 19v2m0 62v1m0 3v1m1 -90v3m0 63v2m0 18v2m0 1v1m1 -92v4m0 39v1m1 -45v1m0 21v2m1 -5v7m0 66v1m0 8v2m0 2v3m1 -90v2m0 3v2m0 76v1m1 -92v1m0 7v1m0 66v2m1 -140v2m0 69v1m0 77v3m1 -150v2m0 67v1m0 74v3m1 -143v4m0 44v2m0 14v1m1 -61v3m0 3v1m1 -12v1m1 -3v2m1 -2v2m0 119v3m0 12v2m0 25v2m1 -18v1m1 -142v1m1 -2v2m0 72v1m0 67v1m1 -147v2m0 4v1m0 32v1m1 -41v2m1 -3v2m0 60v5m1 -68v2m0 7v1m0 1v3m0 19v2m0 6v3m0 15v7m1 -65v1m0 24v5m1 -29v1m0 154v3m0 11v2m1 -169v1m0 112v4m1 -116v1m0 105v4m1 -110v2m0 82v16m0 31v1m1 -10v1m0 9v2m0 5v1m0 6v3m1 -139v1m0 1v2m1 -8v8m0 30v12m1 -60v10m0 12v7m0 69v18m0 32v3m0 5v1m1 -146v1m0 9v5m0 9v3m0 43v7m0 46v4m0 21v7m0 2v1m1 -165v1m0 97v20m0 32v5m1 -162v6m1 -4v3m0 60v31m1 -92v4m0 48v4m0 36v3m0 69v1m0 2v2m0 6v5m1 -182v5m0 2v4m0 50v4m0 107v4m1 -170v1m2 0v5m1 -2v3m0 1v2m1 -12v14m1 -14v2m1 -4v8m0 5v1m1 -14v1m0 4v9m1 -14v1m0 39v17m1 -58v1m0 23v3m1 -28v1m0 16v2m1 -21v2m0 12v2m0 32v5m0 13v5m1 -71v2m0 67v4m1 -73v3m1 -5v3m0 11v3m0 10v2m1 -30v4m0 4v2m0 14v3m0 23v10m0 7v8m1 -70v2m0 50v3m0 16v3m1 -72v1m0 1v2m0 18v6m0 1v5m0 23v4m1 -60v3m1 -5v6m0 119v20m1 -148v2m0 2v1m0 5v1m1 -1v2m1 -9v12m1 -16v2m0 10v1m0 52v8m0 29v5m1 -94v1m0 46v16m1 -44v11m0 24v14m1 -72v2m0 56v14m0 77v3m1 -146v2m0 46v11m0 54v1m0 9v1m0 12v1m0 2v3m1 -138v2m0 52v3m0 32v7m1 -111v2m0 13v2m0 18v4m0 24v6m0 34v5m1 -95v2m0 36v13m0 18v3m0 57v2m1 -146v1m0 7v1m0 1v2m0 135v1m1 -147v2m0 136v3m1 -139v7m1 -6v1m0 130v2m0 16v2m0 3v1m1 -154v2m0 51v7m0 9v7m0 7v1m1 -83v1m0 69v4m0 7v2m0 3v9m1 -82v5m0 1v11m0 1v4m0 30v5m1 -74v3m0 59v13m1 -76v1m0 51v9m0 5v13m1 -81v2m0 64v35m0 45v2m1 -149v2m0 101v4m1 -107v2m0 97v8m0 27v2m0 47v1m1 -184v2m0 42v2m0 39v4m0 18v1m0 75v1m1 -183v4m0 4v3m0 35v1m0 1v3m0 52v4m0 46v2m0 7v2m1 -159v1m0 40v1m0 47v6m1 -71v12m0 1v1m0 28v7m0 57v2m0 13v2m1 -158v5m0 73v3m0 23v8m0 57v1m1 -170v5m0 87v16m0 32v1m0 8v3m0 11v1m0 3v3m1 -160v2m0 124v1m0 26v1m1 -158v4m0 28v1m0 1v8m0 24v5m0 72v1m1 -146v3m0 49v9m0 11v1m0 74v1m1 -147v2m0 79v6m0 3v6m0 43v1m0 17v3m1 -158v1m0 21v5m0 31v1m0 1v4m0 3v24m0 57v1m1 -129v2m0 7v4m0 61v3m0 26v3m1 -111v4m0 24v10m0 7v11m0 8v1m1 -76v12m0 1v4m0 2v1m0 1v3m0 1v2m0 1v2m0 1v4m0 1v10m0 77v3m1 -121v2m0 46v5m1 -65v15m0 46v14m0 62v1m1 -135v1m0 2v1m0 4v1m0 64v8m0 53v1m0 21v1m1 -152v1m0 35v9m0 17v45m1 -109v1m0 1v1m0 59v5m0 23v3m0 17v2m1 -43v12m0 73v3m1 -108v3m0 38v5m0 45v2m0 11v4m1 -153v2m0 44v5m0 86v1m0 11v3m1 -113v4m0 88v1m1 -142v6m0 42v3m0 39v5m0 67v3m1 -164v7m0 8v4m0 14v5m0 8v5m0 70v1m1 -106v2m0 28v14m0 2v5m0 85v1m0 5v2m1 -153v9m0 21v2m0 1v4m0 1v12m0 8v2m0 28v12m1 -60v26m0 35v7m1 -112v2m0 2v1m0 9v10m0 1v1m0 17v1m0 1v1m0 1v2m0 50v5m1 -102v5m0 155v1m1 -159v4m0 64v6m1 -75v1m0 12v3m0 24v3m0 4v4m0 6v10m0 9v5m1 -82v1m0 42v4m0 22v13m0 26v14m1 -125v1m0 29v2m0 18v5m0 16v3m0 13v22m1 -112v6m0 13v2m0 10v2m0 22v4m0 33v15m1 -107v5m0 41v2m0 13v4m0 22v4m0 12v4m0 14v4m1 -125v2m0 3v2m0 70v6m0 22v4m0 27v1m0 14v3m1 -154v2m0 6v6m0 1v14m0 1v7m0 28v2m0 12v14m1 -95v6m0 7v4m0 5v12m0 13v1m0 1v1m0 12v3m0 20v9m1 -95v9m0 8v4m0 27v1m0 10v11m0 20v7m0 8v6m0 15v3m1 -129v6m0 43v6m0 14v5m0 21v9m0 24v1m1 -128v3m0 67v6m0 50v2m0 16v2m1 -146v2m0 67v4m0 50v5m0 33v1m1 -162v2m0 4v1m0 8v8m0 10v3m0 29v5m0 21v5m0 11v3m0 10v7m0 7v2m0 23v1m0 1v1m1 -153v1m0 1v2m0 1v7m0 56v1m0 26v5m0 14v4m1 -119v2m0 67v5m0 11v1m0 16v16m1 -104v2m0 1v1m0 23v3m0 2v17m0 23v5m0 17v8m0 28v3m0 1v1m1 -157v3m0 3v6m0 6v1m0 2v4m0 6v6m0 16v9m0 9v13m0 59v1m0 1v1m0 1v1m1 -151v2m0 5v3m0 14v1m0 1v2m0 21v2m0 2v4m0 91v1m1 -147v4m0 143v2m1 -113v1m0 83v1m1 -85v1m0 8v3m0 50v8m0 8v6m1 -113v2m0 47v9m0 30v4m0 14v4m1 -111v2m0 63v1m0 22v3m0 18v1m1 -110v1m0 3v10m0 1v3m0 1v3m0 16v1m0 1v2m0 7v3m0 4v5m0 9v4m0 1v5m0 12v1m0 1v3m0 12v1m1 -111v2m0 17v5m0 58v11m0 5v3m0 1v4m0 34v3m0 3v1m0 20v2m1 -170v3m0 3v2m0 1v4m0 36v6m0 14v1m0 1v3m0 15v12m0 15v1m0 30v4m1 -151v3m0 40v4m1 -46v2m0 16v6m1 -26v3m0 16v6m0 1v4m0 1v1m0 119v2m1 -154v1m0 29v3m0 34v17m0 15v3m0 59v1m1 -162v3m0 14v2m0 2v8m0 1v6m0 40v5m0 66v1m1 -59v6m0 52v3m1 -16v2m1 -83v10m0 24v2m0 49v3m0 18v2m0 7v2m1 -165v1m0 58v3m0 72v2m1 -136v1m0 54v3m0 18v5m0 83v3m1 -166v2m0 64v6m0 72v3m0 9v2m1 -157v2m0 84v2m1 -61v7m0 1v5m1 -41v1m0 3v1m0 1v2m0 7v14m0 38v10m1 -79v2m0 31v3m0 1v1m0 13v1m0 94v1m1 -147v1m0 54v8m0 101v1m1 -164v1m0 62v13m0 57v1m0 12v1m0 16v1m1 -158v2m0 12v3m0 1v1m0 1v1m0 119v1m1 -124v4m0 1v4m0 116v2m0 3v1m1 -130v9m0 1v3m0 41v6m0 64v1m0 3v2m1 -75v15m0 68v1m1 -157v11m0 38v3m0 1v1m0 7v4m0 18v2m0 31v1m1 -122v1m0 27v3m0 57v3m0 44v3m1 -141v3m0 26v7m0 1v2m0 1v7m0 43v1m0 70v1m1 -164v3m0 22v3m0 1v7m0 1v1m0 130v2m1 -170v4m0 2v1m0 142v3m0 9v2m1 -163v5m0 1v1m0 2v3m0 17v5m0 1v6m0 1v3m0 13v6m0 62v2m0 18v3m0 1v2m0 7v2m1 -153v3m0 20v3m0 29v22m0 67v1m1 -146v6m0 21v1m0 1v1m0 12v7m0 8v15m0 16v6m0 47v1m0 11v1m1 -159v2m0 1v3m0 35v1m0 62v4m0 50v1m1 -157v2m0 8v5m0 4v2m0 16v6m0 25v4m0 35v1m0 11v1m0 33v1m1 -141v10m0 13v3m0 17v3m0 36v1m0 22v1m0 36v1m1 -128v4m0 4v5m0 54v1m0 12v1m0 30v1m0 3v1m0 11v1m1 -159v7m0 9v4m0 4v8m0 2v2m0 1v2m0 5v1m0 2v1m0 50v1m0 13v1m0 45v1m1 -159v7m0 12v1m0 1v4m0 1v5m0 8v15m0 17v3m0 14v2m0 3v5m0 1v1m0 13v3m0 13v1m0 17v1m0 10v1m1 -157v4m0 1v1m0 22v3m0 14v9m0 6v4m0 14v5m0 14v2m0 7v2m0 19v1m0 17v1m1 -100v3m0 16v3m0 20v3m0 36v1m1 -112v8m0 1v7m0 6v7m0 20v1m0 22v1m0 39v1m0 21v2m1 -151v3m0 2v1m0 20v3m0 14v2m0 14v3m0 7v6m0 11v1m0 42v1m1 -131v3m0 24v2m0 6v4m0 6v1m0 1v14m0 2v13m0 9v1m0 44v1m0 15v2m0 6v2m1 -155v7m0 43v12m0 22v1m0 44v1m0 3v1m0 4v3m1 -133v1m0 22v9m0 4v23m0 16v1m0 45v1m0 3v1m0 11v3m0 10v1m1 -147v3m0 9v4m0 9v1m0 11v2m0 15v4m0 9v2m0 52v2m0 17v1m1 -147v10m0 8v3m0 11v3m0 12v5m0 72v1m0 21v1m1 -148v1m0 51v3m0 4v2m0 64v1m1 -128v10m0 1v4m0 8v3m0 22v2m0 4v3m0 4v2m0 1v2m0 61v1m0 8v1m0 1v2m1 -138v1m0 5v5m0 1v1m0 1v1m0 24v9m0 25v2m0 49v1m0 6v1m0 2v1m1 -136v2m0 11v9m0 32v4m0 19v2m0 45v2m0 8v1m0 18v1m1 -156v2m0 4v2m0 13v3m0 23v7m0 22v2m0 1v2m0 9v1m0 3v1m0 23v3m0 4v3m1 -128v1m0 19v3m0 9v4m0 44v1m0 9v1m0 4v1m0 29v2m0 24v2m1 -155v4m0 36v21m0 26v2m0 2v2m0 34v1m1 -127v1m0 2v6m0 1v2m0 113v1m0 21v4m1 -150v5m0 62v4m0 24v1m0 11v2m0 13v1m0 48v3m1 -172v2m0 53v1m0 18v6m0 12v1m0 2v1m0 9v1m0 62v3m1 -171v2m0 30v6m0 8v1m0 3v4m0 41v3m0 15v1m0 3v1m0 32v6m1 -157v1m0 2v2m0 3v1m0 20v23m0 19v11m0 1v3m0 14v2m0 12v5m0 28v4m1 -151v1m0 1v2m0 22v29m0 3v11m0 66v7m1 -146v3m0 23v23m0 8v2m0 54v2m0 15v6m0 1v15m1 -151v1m0 7v3m0 74v1m0 1v5m0 7v6m0 7v2m1 -107v4m0 119v4m0 20v13m0 2v8m1 -143v3m0 15v1m0 6v4m0 1v1m0 5v1m0 2v1m0 3v1m0 48v5m1 -127v2m0 51v19m0 53v10m0 22v6m1 -166v1m0 22v4m0 17v11m0 29v5m0 39v14m1 -144v3m0 10v10m0 2v4m0 4v4m0 46v6m1 -79v3m0 12v8m0 38v5m0 10v4m1 -87v12m0 10v4m0 28v6m0 12v1m0 1v2m0 1v3m0 1v4m0 9v4m1 -103v1m0 3v1m0 2v1m0 2v1m0 4v1m0 11v1m0 32v2m0 1v6m0 2v4m0 9v5m1 -90v2m0 6v1m0 8v4m0 7v3m0 28v6m0 1v7m0 17v2m0 1v1m0 42v5m0 8v5m1 -154v6m0 15v8m0 4v1m0 25v3m0 1v3m0 1v2m0 6v19m0 1v9m0 32v4m0 24v3m1 -164v3m0 1v1m0 8v3m0 8v1m0 4v8m0 7v5m0 23v4m0 17v3m0 60v10m1 -133v9m1 -6v5m1 -37v5m0 35v11m0 15v4m0 9v4m1 -44v12m1 -40v9m0 8v22m0 14v24m1 -77v9m0 15v10m1 -27v2m5 3v1m1 -1v11m6 -36v3m1 -8v8m1 -5v1m0 2v1m0 7v2m1 37v7m1 -15v4m2 -45v2m0 1v1m0 10v4m1 -16v7m0 1v2m3 -14v2m0 8v3m1 -12v1m1 0v1m1 -2v1m1 -3v2m1 -5v1m0 6v1m0 13v1m2 -18v2m1 -1v1m0 1v4m0 21v1m1 -17v11m1 -22v3m2 -2v1m3 -3v1m20 8v2m1 -2v2m1 -13v3m1 -1v1m2 4v5m1 -7v3m1 -4v3m2 -2v4m1 -8v2m1 -2v1m2 -4v1m6 10v1m1 -2v1m5 -6v1m1 -3v2m1 -5v2m1 -2v1m1 0v1m4 181v2m1 -178v2m1 -1v2m1 -4v2m0 167v2m1 -170v2m1 -2v1m0 131v11m1 -11v19m3 2v5m1 11v1m1 -166v1m1 64v7m0 13v4m1 -89v1m0 131v1m0 28v1m0 2v2m1 -166v4m0 151v3m1 -160v4m0 51v6m0 93v2m1 -158v1m0 69v3m0 2v1m0 65v1m0 12v1m0 3v2m1 -160v1m0 72v1m0 59v4m1 -137v2m0 49v5m0 52v8m0 2v9m1 -128v2m0 63v13m0 25v15m0 59v2m1 -180v1m0 74v2m0 70v1m1 -14v13m1 -24v17m2 3v2m1 11v3m1 -157v2m0 90v3m0 54v3m2 -155v1m1 0v1m0 126v1m1 -125v2m0 77v2m0 75v1m1 -156v2m0 153v1m1 -156v2m1 -2v4m0 65v1m0 76v1m1 -147v2m0 137v1m0 9v1m1 -151v1m2 147v2m0 1v1m1 -152v2m1 -5v2m0 104v1m0 26v2m1 -135v4m0 102v1m0 45v1m1 -4v1m1 -5v2m0 16v1m1 -155v2m0 132v2m0 16v1m1 -159v8m0 144v2m1 -155v8m0 95v2m0 44v2m1 -152v2m1 -1v1m0 146v1m1 -148v2m0 160v1m1 -161v1m0 159v1m2 -102v18m0 48v2m0 4v1m1 10v1m1 -1v1m2 -144v5m1 -6v1m0 80v2m0 71v4m1 -159v2m0 152v1m0 9v1m1 -162v2m0 47v7m0 94v2m1 -2v1m1 -68v6m0 63v1m1 -147v2m0 49v14m0 81v1m1 -150v2m1 -3v1m0 94v3m0 33v3m1 -134v2m1 0v2m0 148v2m1 -152v2m1 0v1m0 37v6m0 20v1m0 85v1m1 -108v2m0 21v4m0 80v1m1 -107v5m0 14v6m0 52v2m1 -119v4m0 44v5m0 80v2m1 -137v2m0 81v2m1 -75v1m0 134v3m1 -140v4m0 85v4m2 -108v5m0 6v2m0 40v7m0 56v1m1 -52v5m0 72v3m0 2v1m0 2v1m1 -101v6m0 91v1m0 2v1m1 -139v1m0 28v1m0 100v1m0 7v1m1 -138v1m0 27v1m0 111v10m0 2v2m2 -157v2m0 113v5m0 14v4m1 -146v10m0 40v6m0 63v3m0 34v2m1 -159v2m0 7v3m0 37v4m0 68v10m0 26v3m1 -159v2m0 9v1m0 30v11m1 -54v2m0 11v1m1 -2v2m1 -2v1m1 -2v2m0 35v24m1 -61v1m1 -1v1m1 -2v2m0 147v3m1 -159v1m0 4v2m0 5v3m0 147v5m3 -73v14m2 -108v1m0 58v3m1 9v3m1 -24v11m1 -61v1m0 32v4m0 6v1m1 -12v6m0 3v5m2 -4v3m0 17v5m2 -49v6m1 98v17m1 -22v19m1 -23v6m0 12v5m1 -17v12m0 14v1m1 -12v1m1 -5v1m2 -41v11m0 12v7m1 -30v12m0 4v10m1 -15v3m1 -60v15m1 80v3m0 13v1m1 -1v1m1 -28v1m1 -1v1m0 2v1m1 -55v4m0 32v2m1 -22v15m0 27v1m1 -29v6m0 22v1m1 -17v1m0 6v1m1 -8v1m0 22v1m0 3v2m2 -62v1m0 37v1m0 26v1m1 -66v1m0 37v1m2 -44v3m0 20v2m0 20v2m0 29v1m1 -78v8m0 7v1m0 44v1m0 10v2m1 -104v1m1 3v6m1 -9v6m0 45v3m0 4v1m1 -13v2m0 9v2m1 -58v17m0 9v11m0 8v1m0 8v3m1 -50v7m0 39v3m1 -22v3m0 15v3m1 -27v9m1 10v2m0 47v2m1 -54v2m0 24v1m1 -49v1m0 21v1m0 25v1m0 21v1m0 4v1m0 4v1m1 -11v1m0 4v1m1 -51v2m1 -1v6m1 -4v2m1 -4v4m0 35v1m1 -98v1m0 55v1m0 5v1m0 34v1m1 -98v1m0 54v2m0 5v1m1 -8v2m0 4v2m0 22v1m0 3v3m1 -37v3m0 2v2m0 47v1m1 -134v1m0 44v1m0 35v3m1 -39v1m0 35v3m0 12v1m0 12v2m0 28v1m1 -108v1m0 49v1m0 5v1m0 26v1m0 23v1m1 -151v11m0 22v1m0 59v1m0 5v2m0 25v1m1 -128v2m0 34v2m0 62v2m0 31v1m1 -132v2m1 0v3m1 -2v2m0 117v2m0 18v2m1 -142v2m0 22v2m0 21v3m0 93v2m1 -145v1m0 21v5m0 75v1m0 15v2m1 -120v1m0 21v4m0 88v2m1 -117v2m0 140v1m1 -146v10m0 71v3m0 6v3m0 39v1m1 -132v6m0 123v1m0 35v2m1 -166v8m0 23v3m1 -30v3m0 26v2m1 -31v1m0 25v2m0 2v2m0 88v1m1 -124v2m0 27v3m1 -34v2m0 28v3m0 12v4m0 47v3m0 9v3m0 15v2m1 -128v1m0 26v5m0 14v2m0 81v1m1 -130v2m0 113v1m1 -116v2m0 120v1m0 17v1m1 -140v1m1 0v5m0 129v1m2 -132v3m0 126v2m2 -6v1m0 3v2m1 -130v2m2 0v1m0 113v3m1 -118v1m1 -2v2m0 25v17m1 -44v2m0 36v3m0 103v1m1 -1v1m1 -63v3m0 35v1m0 4v2m0 1v2m1 -75v7m1 -30v15m0 54v1m0 11v1m1 -93v4m0 12v1m0 75v1m0 4v1m0 22v1m2 -121v27m1 -25v12m3 96v1m1 -105v29m0 28v5m0 21v7m1 -80v7m0 48v22m2 29v4m0 2v13m2 -76v21m7 -107v2m1 -8v2m1 -4v1m1 -3v3m1 0v2m1 0v2m0 4v1m1 -6v3m1 -2v3m1 -1v4m1 -2v2m1 -14v5m0 5v5m1 -6v4m1 -8v7m1 -11v3m0 6v5"/><path stroke="#003aff" d="M105 630v15m1 -78v1m0 30v27m0 13v21m1 -92v7m0 11v16m0 21v5m0 27v5m1 -93v13m0 53v10m1 -76v9m0 62v5m1 -9v12m1 -75v11m0 9v10m3 38v1m1 -4v1m0 5v1m1 -7v1m0 14v1m2 -98v1m0 2v1m1 -3v2m1 85v3m3 -9v1m2 -26v3m6 35v3m1 -13v1m1 -88v2m0 2v2m1 -5v1m0 3v2m0 93v1m1 -99v4m0 94v1m1 -98v3m0 38v13m1 -55v1m1 -1v2m0 1v2m1 61v15m1 -17v21m4 -29v7m0 49v1m1 -24v5m0 18v1m1 -111v9m0 73v6m0 11v5m1 -75v8m0 54v8m1 -113v2m0 75v1m0 42v2m1 -113v6m0 63v7m0 36v1m2 -126v4m2 82v36m0 2v2m1 -84v10m0 46v5m3 -103v19m1 -11v16m7 88v10m0 2v2m67 -129v1m0 88v17m57 -83v25m1 -12v22m0 70v6m1 -118v3m0 103v3m1 -108v8m0 81v8m1 -49v8m1 -43v4m1 -14v9m1 10v11m0 13v3m1 -37v3m1 -6v6m2 13v14m1 -3v12m0 20v10m1 -80v4m0 36v5m0 31v13m0 27v6m1 -100v3m0 28v6m0 20v1m1 -52v3m0 22v5m1 -16v10m0 26v4m1 -90v1m0 83v2m1 -88v1m0 20v5m0 46v12m1 -60v4m1 103v1m2 -60v1m9 -70v1m0 89v9m0 25v5m1 -26v3m0 15v4m1 -36v3m1 -28v2m0 22v1m0 5v2m3 -105v3m0 45v8m1 -31v5m1 -28v1m0 22v38m0 14v15m1 -90v8m0 7v6m2 85v1m1 -1v1m1 -3v5m0 19v7m1 -24v4m3 -20v11m1 -27v3m0 45v6m1 -52v7m0 29v4m0 2v8m4 -27v16m1 -105v13m0 78v3m4 3v1m0 18v5m3 -74v10m1 -12v3m0 22v2m1 -53v3m3 -23v3m1 9v3m0 24v4m8 28v5m0 14v6m0 23v3m1 -68v8m0 26v10m1 -90v13m0 38v6m1 -34v5m0 29v7m1 -33v9m0 35v1m1 27v2m1 -101v2m1 -2v3m1 -3v2m2 -14v2m1 -6v6m1 -7v1m0 7v1m1 -10v1m0 11v7m1 0v2m1 -18v1m0 16v2m0 67v1m1 -90v2m0 11v11m0 65v1m0 8v2m1 -99v10m0 2v7m1 -21v7m0 1v3m0 7v3m0 54v2m0 10v1m1 -90v1m0 4v3m0 3v2m0 9v2m0 65v1m1 -86v2m0 5v1m0 12v1m0 40v1m1 -65v3m0 6v2m0 12v2m0 39v1m0 21v3m1 -91v2m0 8v1m0 14v2m0 34v1m1 -37v1m1 -17v1m1 -3v3m0 72v2m1 -81v2m0 17v2m0 78v3m1 -85v1m1 -9v1m0 5v2m0 84v3m1 -94v2m0 4v1m1 -72v1m0 64v1m0 5v1m1 -70v1m0 62v1m0 5v1m0 72v1m0 22v1m1 -157v6m0 48v1m0 4v1m0 58v1m0 14v1m1 -124v6m0 102v1m1 -126v2m0 152v2m1 -157v1m0 159v1m1 -161v1m0 126v3m1 -131v7m1 -7v8m0 33v17m0 84v1m1 -142v6m0 34v1m0 3v14m1 -57v1m1 -2v1m1 -4v3m0 67v3m1 -73v2m0 2v7m0 26v2m0 1v1m0 27v5m1 -71v1m0 30v1m0 1v1m0 4v1m0 105v2m1 -145v1m1 1v1m0 106v7m1 -114v2m0 56v25m0 20v5m1 -109v3m0 59v25m1 -85v5m0 106v6m2 -101v7m0 15v7m0 12v7m1 -57v9m0 2v1m0 7v1m0 1v3m0 11v3m0 42v8m0 18v6m1 -119v8m0 1v7m0 1v1m0 34v26m0 57v8m0 4v9m1 -162v7m0 92v6m0 20v6m0 21v5m1 -160v3m0 106v15m1 -122v3m0 44v19m0 31v7m1 -101v1m0 50v3m0 43v2m0 64v3m1 -161v2m0 45v9m0 4v29m0 76v2m1 -168v2m0 170v6m1 -31v16m0 2v13m1 -178v1m0 1v1m0 173v2m1 -178v1m0 1v1m0 1v2m2 -9v3m1 -7v5m0 107v7m1 -116v2m1 -2v2m0 57v6m1 -66v2m0 28v2m0 13v30m1 -76v2m0 21v1m0 1v1m0 14v4m1 -45v1m0 17v2m0 27v2m0 23v4m1 -77v2m0 73v5m1 -81v3m1 -4v2m0 9v5m0 16v2m1 -35v2m0 27v2m0 19v2m0 25v4m1 -76v2m0 48v4m0 22v2m1 -75v1m0 5v3m0 8v6m0 13v3m0 14v5m0 5v1m1 -64v2m0 118v24m1 -147v3m0 114v11m0 20v5m1 -154v1m0 8v1m1 -9v10m1 -10v2m0 13v5m1 -23v2m0 2v2m0 6v2m0 48v5m0 42v9m1 -117v14m0 39v8m1 -57v9m0 4v1m0 2v8m0 1v4m0 29v6m0 14v8m0 70v2m1 -157v5m0 48v10m0 14v13m1 -93v4m0 3v2m0 3v2m0 34v14m0 117v3m1 -181v4m0 9v2m0 1v1m0 38v16m0 27v8m1 -105v1m0 2v3m0 7v3m0 24v1m0 1v4m0 24v7m0 18v1m0 13v8m0 30v1m1 -149v1m0 11v1m0 1v1m0 51v18m0 83v1m1 -171v3m0 1v7m0 145v1m1 -156v3m1 0v2m0 125v2m0 14v2m1 -111v3m0 1v4m0 18v5m1 -62v1m0 48v5m0 80v1m0 35v3m1 -172v1m0 132v1m1 -136v1m0 38v4m0 30v11m1 -87v2m0 75v6m0 94v3m1 -187v1m0 6v1m0 61v5m0 21v11m0 33v2m1 -136v1m0 53v13m1 -69v2m0 56v5m0 1v11m0 25v5m0 40v1m1 -146v2m0 93v6m0 40v3m1 -144v2m0 18v2m0 3v13m0 3v1m0 1v1m0 8v11m0 20v4m1 -86v2m0 5v3m0 99v1m0 51v1m1 -159v4m0 2v1m0 39v2m1 -53v3m0 44v1m0 34v20m0 8v3m1 -110v2m0 81v16m0 49v3m1 -157v1m0 5v9m1 -12v8m0 2v4m1 -14v4m0 22v8m0 1v1m0 10v3m1 -50v3m0 10v14m0 22v6m0 84v1m1 -138v2m0 21v3m0 27v5m0 31v3m0 45v1m1 -136v2m0 19v1m0 1v1m0 5v1m0 1v1m0 13v8m0 3v4m0 6v3m1 -65v1m0 16v1m0 13v4m0 6v2m0 34v3m1 -69v2m1 35v5m0 96v2m1 -156v12m0 146v1m1 -160v1m0 54v7m0 71v1m0 25v1m1 -159v3m0 1v2m0 126v1m0 7v2m1 -139v4m0 108v2m0 42v1m1 -157v3m0 67v23m0 9v11m1 -114v5m1 -1v1m1 1v2m0 41v5m0 62v2m1 -120v4m0 7v1m0 35v2m0 115v3m1 -170v3m0 6v2m0 39v1m0 47v6m1 -102v2m0 7v2m0 10v1m0 1v2m0 5v5m0 5v4m0 120v2m1 -162v5m0 11v3m0 13v5m1 -34v2m0 9v2m0 14v5m1 -34v5m0 70v8m0 16v6m0 29v2m1 -138v2m0 9v2m0 1v2m0 35v6m0 40v4m0 30v2m1 -132v3m0 94v2m0 25v1m1 -122v2m0 74v5m1 -81v1m0 11v2m0 38v6m0 24v4m0 26v5m1 -118v1m0 47v7m0 5v2m0 21v6m0 14v6m0 25v1m1 -148v4m0 6v1m0 5v4m0 1v2m0 15v3m0 25v7m0 3v6m0 5v3m0 7v1m0 49v1m0 2v1m1 -146v3m0 21v1m0 1v4m0 1v3m0 28v4m0 22v1m0 21v5m1 -114v2m0 5v3m0 57v4m0 12v6m0 20v5m0 4v5m1 -123v2m0 109v4m0 54v1m1 -170v2m0 37v2m0 1v18m0 35v3m0 1v10m0 60v1m1 -172v2m0 17v5m0 12v5m0 5v3m0 1v1m0 16v6m0 23v8m1 -105v2m0 21v3m0 1v3m0 1v10m0 1v7m0 50v8m0 68v1m1 -177v3m0 55v14m0 118v2m1 -191v3m0 66v4m1 -73v3m0 65v4m1 -71v2m0 36v2m0 21v6m0 31v11m0 23v2m0 37v2m1 -171v8m0 14v4m0 65v13m0 29v1m1 -134v8m0 86v16m0 43v1m1 -155v9m0 18v4m0 22v2m0 45v17m0 8v1m0 20v3m0 15v3m1 -169v3m0 3v3m0 31v1m0 2v2m0 20v9m0 13v9m1 -98v2m0 18v1m0 1v4m0 27v2m0 4v5m0 96v3m1 -165v6m0 4v5m0 42v10m1 -53v2m0 25v1m0 22v9m0 49v4m0 30v1m1 -144v2m0 24v1m0 15v3m0 1v12m0 25v8m0 8v8m1 -108v1m0 3v9m0 18v6m0 10v3m0 9v6m0 20v4m0 22v1m1 -113v1m0 66v4m0 12v6m0 22v1m1 -113v2m0 22v3m0 1v7m0 2v3m0 24v1m0 1v3m0 1v2m0 74v2m1 -149v2m0 24v4m0 18v12m0 22v2m0 11v1m0 1v2m0 64v1m1 -166v3m0 13v11m0 24v1m0 6v1m0 18v5m0 23v14m0 21v2m0 23v1m1 -167v4m0 35v8m0 108v2m1 -154v2m0 2v2m0 10v4m0 35v8m0 10v4m1 -79v2m0 15v4m0 13v5m0 27v5m0 2v2m1 -76v2m0 33v5m0 14v15m0 17v15m1 -101v2m0 13v3m0 20v6m0 39v5m0 14v5m0 24v1m1 -131v7m0 89v3m0 31v1m1 -133v6m0 26v9m0 1v2m1 -38v3m0 84v1m0 1v3m1 -92v2m0 55v4m1 -61v2m0 50v5m0 26v5m0 90v1m1 -178v2m0 72v16m0 48v1m0 4v1m0 33v1m1 -177v2m0 70v16m0 49v1m0 14v2m1 -154v2m0 17v5m0 1v2m0 1v1m0 13v2m0 25v21m1 -92v3m0 8v6m0 16v3m0 1v2m0 1v1m0 39v13m1 -99v7m0 38v2m0 1v10m0 1v25m1 -84v7m0 63v9m1 -72v1m0 50v2m0 2v9m1 -64v2m0 7v3m0 6v1m0 1v1m0 42v4m0 105v3m1 -174v2m0 143v3m0 9v2m1 -85v4m1 -2v3m1 -79v5m0 55v7m0 70v2m1 -140v2m0 2v9m0 15v2m0 124v2m1 -158v1m0 6v2m0 1v1m0 14v5m0 18v3m0 1v2m1 -57v2m0 22v3m0 13v7m0 99v2m0 24v1m1 -173v2m0 14v5m0 1v1m0 1v1m0 1v2m0 1v1m0 1v10m0 1v15m1 -57v2m0 5v1m0 1v2m0 36v13m1 -60v10m0 27v4m0 13v2m0 1v1m0 2v5m0 51v2m1 -117v8m0 31v11m0 7v2m0 3v3m0 37v3m0 11v1m1 -117v3m0 2v1m0 76v10m0 3v2m0 18v2m1 -115v3m0 15v2m0 15v5m0 53v3m0 3v2m0 8v1m0 4v1m1 -110v1m0 36v2m0 66v1m0 11v3m0 30v1m1 -151v1m0 81v3m0 9v1m0 10v1m0 9v1m1 -123v2m0 20v4m0 24v3m0 39v2m0 7v1m0 10v2m0 7v1m1 -121v1m0 31v3m0 1v4m0 15v13m0 24v1m0 8v1m0 8v4m0 3v2m0 10v1m1 -130v3m0 54v6m0 4v14m0 5v5m0 11v2m0 3v2m0 2v2m0 16v1m1 -129v6m0 45v5m0 6v5m0 9v4m0 2v2m0 9v4m0 9v4m0 18v1m1 -129v6m0 7v5m0 29v2m0 13v5m0 2v16m0 6v2m0 36v1m0 31v2m1 -163v3m0 3v2m0 9v1m0 1v10m0 19v14m0 5v5m0 11v5m0 2v1m0 39v2m1 -132v2m0 4v4m0 17v2m0 34v2m0 23v1m0 42v1m0 19v1m1 -151v2m0 32v18m0 35v1m0 42v1m0 19v3m1 -146v3m0 76v1m0 64v1m1 -135v6m0 1v2m0 39v3m0 15v3m0 45v1m0 21v1m0 7v1m1 -143v4m0 1v1m0 4v11m0 39v1m0 51v1m1 -126v1m0 21v3m0 26v2m0 72v1m1 -101v3m0 31v1m0 65v1m1 -50v4m1 -83v3m0 11v2m0 66v2m0 7v3m0 22v7m0 3v1m1 -128v2m0 54v6m0 21v1m0 7v1m0 5v1m0 20v2m0 3v4m0 12v1m1 -140v2m0 23v1m0 12v23m0 22v3m0 5v1m0 28v7m1 -38v2m0 6v1m0 28v1m0 33v1m1 -162v2m0 96v1m0 27v1m0 26v5m1 -158v3m0 5v1m0 56v5m0 29v1m0 9v1m0 3v1m0 2v1m0 7v1m0 5v6m0 1v5m0 24v2m0 2v4m1 -171v2m0 34v3m0 31v6m0 22v3m0 4v2m0 13v1m0 39v5m0 2v3m1 -169v1m0 2v2m0 25v3m0 66v2m0 14v3m0 27v6m1 -152v1m0 10v3m0 10v6m0 59v1m0 13v1m0 40v4m1 -143v1m0 17v4m0 43v7m0 8v3m0 25v7m0 8v5m0 1v2m1 -143v4m0 9v2m0 43v3m0 58v2m0 4v9m1 -131v2m0 11v1m0 44v2m0 47v5m0 4v6m0 50v12m1 -181v2m0 8v12m0 59v1m0 44v3m0 47v5m1 -179v1m0 29v1m0 10v8m0 6v1m0 63v4m1 -138v6m0 8v2m0 45v5m0 28v1m0 35v11m0 40v3m1 -185v14m0 11v12m0 4v3m0 59v5m0 27v7m0 14v8m1 -155v3m0 12v1m0 24v3m0 49v6m0 67v6m0 2v2m1 -175v5m0 1v1m0 9v2m0 75v3m0 1v3m0 1v5m0 45v2m1 -152v5m0 12v4m0 44v12m0 13v9m1 -101v2m0 5v2m0 1v2m0 79v4m0 7v2m1 -104v1m0 6v2m0 1v3m0 15v1m0 64v1m0 1v10m0 28v4m0 18v3m1 -159v2m0 18v3m0 8v4m0 1v1m0 98v3m0 31v3m1 -170v3m0 3v1m0 1v4m0 2v2m0 24v7m0 16v1m0 15v1m0 1v1m0 11v3m0 55v8m0 10v2m0 2v5m1 -167v1m0 1v3m0 55v26m0 77v12m1 -173v3m0 28v1m0 13v18m1 -71v2m0 14v9m0 47v1m0 1v2m0 1v1m0 1v2m0 6v15m1 -92v12m0 40v32m1 -86v5m0 9v8m0 27v9m0 24v15m1 -94v2m0 12v12m1 -24v7m0 12v19m2 -25v1m0 18v1m2 -2v7m1 -10v21m5 -26v1m1 0v16m1 -57v4m2 -5v3m0 1v2m0 10v2m1 -17v5m0 54v7m1 -65v2m0 45v4m1 -7v1m1 -25v7m0 1v4m1 -30v2m0 10v5m1 -18v3m1 -6v5m1 -6v3m0 5v5m1 -11v2m1 0v1m1 -2v1m2 -6v1m0 22v2m2 -21v1m1 0v1m3 -1v1m1 0v1m1 -2v2m0 17v2m2 -22v1m23 -2v2m1 -3v2m1 -2v1m0 4v3m1 -7v1m0 3v1m1 -4v3m1 1v3m11 0v1m6 -8v2m1 -3v1m6 1v2m2 0v1m1 -1v2m0 167v1m1 -172v2m0 165v2m1 -168v2m1 -1v1m0 128v4m0 11v4m1 -148v1m0 126v6m0 19v6m1 -157v1m0 154v4m1 -159v1m1 -1v2m0 146v5m1 -151v2m0 160v2m0 2v1m1 -166v1m1 -1v1m0 61v4m0 99v2m1 -167v1m0 67v9m0 80v5m1 -162v1m0 45v1m0 106v3m1 -158v1m0 61v8m0 89v1m1 -162v1m0 146v2m0 12v1m1 -162v1m0 137v16m0 9v3m1 -166v1m0 101v7m0 19v5m0 29v1m1 -164v1m0 60v5m0 53v6m1 -127v2m1 74v8m0 43v9m1 -47v1m0 68v1m1 -100v10m0 89v1m1 -156v1m0 139v1m1 -49v4m0 43v1m1 -137v3m0 80v7m1 54v1m1 -1v1m1 -151v2m0 129v1m0 8v2m1 -139v2m0 146v2m1 -148v1m1 -1v1m1 -7v1m0 5v1m1 -2v2m1 -4v3m1 151v3m2 -156v2m1 -5v2m1 -4v4m1 -3v3m1 144v1m0 13v2m1 -157v5m1 -7v2m1 -2v1m1 -2v1m1 0v1m1 -1v1m1 0v2m1 -1v1m0 50v4m0 11v3m1 -18v9m0 33v1m1 -43v7m1 -6v1m1 -51v3m0 47v3m1 -56v1m0 84v7m1 -94v2m0 78v3m1 -83v1m0 140v1m1 -141v3m1 6v1m0 50v6m0 32v2m0 49v2m1 -140v1m0 68v6m1 -79v2m0 147v3m1 -154v1m1 -5v4m0 147v3m1 -152v2m1 0v2m0 81v8m1 -90v1m0 134v2m0 32v2m1 -170v2m1 0v2m0 68v3m0 67v1m1 -72v5m1 -73v3m0 40v8m0 5v9m0 20v1m1 -88v1m0 81v4m0 43v1m1 -118v1m1 91v4m1 -112v2m0 9v2m0 63v4m0 53v1m0 15v2m1 -152v1m0 5v4m0 51v10m0 13v33m1 -116v3m0 67v6m1 -20v8m1 -65v1m0 42v6m0 110v1m1 -148v2m0 29v8m0 99v4m1 -143v3m0 135v1m1 -105v17m0 60v4m0 23v3m1 -93v4m0 56v3m0 39v3m1 -163v1m0 5v4m0 44v4m0 54v10m0 39v2m1 -151v1m0 42v9m0 45v12m0 14v2m0 3v2m0 18v3m0 2v2m1 -164v2m0 7v2m0 156v1m1 -170v3m0 8v1m1 -3v3m1 -10v2m0 4v3m0 32v5m0 24v8m1 -71v2m0 33v34m1 -69v2m1 -3v2m0 145v4m1 -155v2m0 155v1m0 2v1m1 -165v1m0 2v3m1 -3v2m0 38v1m1 -41v3m0 20v5m0 62v4m0 14v5m1 -113v3m0 24v6m1 -32v3m0 58v3m1 -65v3m0 71v3m1 -77v2m0 33v5m0 21v12m1 -72v4m0 26v2m1 -5v4m1 -3v24m0 42v14m1 -75v8m0 25v5m1 -46v7m1 -17v2m0 102v16m1 -96v2m0 74v6m0 17v4m1 -104v5m0 66v7m0 19v5m1 -33v5m0 23v4m1 -28v7m0 12v5m2 -30v11m0 22v2m1 -36v10m0 53v6m1 -90v6m0 30v4m0 49v1m1 -90v6m0 26v5m1 -17v6m1 -51v4m0 88v2m1 -108v20m1 78v2m1 -11v2m1 -54v19m1 -28v4m1 2v14m1 7v7m1 -45v31m1 -41v11m0 24v6m4 -29v10m1 -11v18m0 3v1m0 12v7m1 -57v33m0 16v5m1 -51v10m0 77v2m1 -80v8m1 -11v5m0 43v4m0 21v2m0 3v2m1 -86v15m0 34v8m0 29v2m1 -39v6m1 -27v10m0 12v4m1 -26v7m0 17v1m1 -36v12m0 22v3m0 32v2m1 -38v1m0 23v2m0 17v1m1 -47v2m0 35v3m1 -41v1m0 33v1m1 -34v2m1 1v3m2 31v3m2 -39v5m0 24v2m1 -31v5m1 -5v4m0 51v1m1 -55v2m0 52v1m1 -138v1m1 -12v2m0 11v1m0 124v1m1 -139v4m0 39v1m1 -1v1m1 52v1m1 -97v2m0 114v2m1 -116v2m0 80v2m1 -86v5m1 -2v1m1 -1v1m0 78v1m0 54v1m1 -136v2m1 -6v5m0 56v3m1 -63v1m0 84v1m0 1v4m1 -83v6m0 125v1m1 -14v1m0 12v1m1 -137v4m0 28v1m0 90v1m0 32v2m1 -157v3m0 28v2m1 -34v1m0 142v1m1 -46v3m0 1v5m0 15v3m1 -127v1m0 85v1m0 32v1m0 5v2m0 14v2m1 -143v1m0 118v1m1 -120v1m0 142v3m1 -15v2m0 11v1m0 20v2m1 -10v1m1 -153v3m1 108v3m2 15v1m1 -129v1m0 127v1m1 -128v1m1 -1v2m0 68v2m1 -72v1m1 -9v8m0 24v3m0 52v3m1 -90v8m0 25v13m0 19v1m0 57v2m1 -125v11m2 59v5m1 4v2m0 48v2m1 -98v8m1 58v10m0 21v3m0 8v2m1 -87v8m0 34v9m0 15v1m1 -80v11m0 64v1m1 -88v2m0 109v1m1 -113v7m1 -8v11m0 85v9m1 -70v7m0 16v5m0 33v7m1 -80v6m0 36v6m0 22v6m2 19v4m1 -55v20m1 -28v6m0 21v4m3 -116v1m1 1v1m2 2v1m1 -4v3m1 -8v2m1 -4v2m1 -4v2m1 -1v4m1 1v1m1 0v1m1 -1v2m1 -3v5m1 -11v5m0 4v4m1 -14v2m0 8v2m1 -10v9m1 -8v4m1 -5v1"/><path stroke="#0051ff" d="M105 568v4m0 28v30m1 -62v30m1 -24v11m0 53v3m0 3v10m4 -73v9m2 39v3m1 21v1m4 -100v1m1 83v1m3 1v2m1 1v3m5 -22v1m1 -3v2m1 4v1m0 4v3m1 -8v1m1 17v3m1 -96v2m1 -2v3m1 82v1m1 11v1m1 -97v2m1 -1v1m2 93v2m5 12v2m1 -126v16m0 88v11m1 -116v2m0 37v7m0 51v2m0 17v6m1 -117v8m1 5v4m0 51v8m2 -78v4m1 -7v2m0 90v5m1 -98v1m0 73v12m1 -52v8m0 10v46m0 5v16m2 -119v2m1 17v11m1 -31v9m0 16v5m0 84v7m1 -122v1m2 95v14m2 -112v1m2 110v5m0 14v6m2 -136v1m62 0v1m1 53v14m1 -17v26m1 -76v4m0 78v6m0 17v15m1 -120v2m5 -5v1m2 -1v1m41 5v1m1 -1v1m4 97v7m1 -98v1m1 -1v3m0 10v10m1 -21v10m0 25v7m1 -40v3m0 3v15m0 22v5m0 58v5m0 1v1m1 -109v9m0 67v16m0 4v1m1 -91v1m0 72v8m1 -70v6m0 15v8m1 -31v5m0 23v41m1 -74v7m0 31v15m1 15v2m0 11v2m0 4v1m1 -101v13m1 -14v11m1 6v15m0 15v1m1 -22v4m0 14v7m1 -53v2m0 34v7m0 42v42m1 -118v4m0 28v4m0 49v14m0 3v10m1 -91v3m0 23v2m0 30v7m0 11v18m1 -88v5m0 12v5m1 29v5m1 -9v3m1 -65v3m0 39v4m0 12v4m1 -60v3m0 50v1m1 -85v2m0 6v39m0 82v5m5 -134v19m1 -20v2m1 -3v1m1 -2v8m1 -8v3m2 91v5m0 23v11m1 -6v3m1 6v2m1 -66v1m0 54v11m2 -141v1m1 0v2m0 56v6m1 -32v27m1 6v14m0 15v5m1 -74v4m1 -26v1m1 85v19m0 10v7m0 2v11m2 -33v3m0 31v1m1 -136v3m0 41v5m0 12v9m0 38v3m1 -111v1m2 89v5m0 11v6m1 -37v4m0 15v2m0 3v2m0 32v3m1 -71v16m0 7v8m0 5v16m0 14v5m1 -135v4m1 -3v1m1 -1v1m1 -2v1m0 10v9m0 80v3m0 16v1m0 1v2m1 -114v5m0 13v4m0 68v6m0 3v7m1 -115v1m1 132v2m2 -21v1m0 9v6m2 -129v1m1 2v1m0 51v5m0 10v3m1 -68v1m0 49v3m0 27v3m1 -53v4m0 24v16m1 -74v13m1 -12v1m1 0v5m0 39v2m1 -31v2m0 31v4m2 -53v2m1 -2v3m1 -3v1m1 -1v1m3 71v5m0 25v23m1 -72v7m0 44v8m1 -41v6m1 -55v15m0 41v8m1 -52v11m1 48v2m1 -11v1m1 -12v3m0 8v1m0 13v3m1 -4v1m1 -1v1m1 6v2m2 -104v7m0 89v1m1 -98v1m0 8v2m1 -1v8m1 -7v8m1 -18v2m0 2v7m1 -2v2m1 -3v7m1 -19v4m0 8v2m0 4v3m0 82v2m1 -106v4m0 8v2m0 7v3m0 100v3m1 -128v2m0 11v1m0 10v1m0 78v2m1 -94v2m0 11v1m0 80v1m0 25v1m1 -122v1m0 13v1m0 80v1m0 25v1m1 -122v2m0 93v1m1 -96v2m0 84v2m0 3v1m1 -97v4m0 11v2m0 79v1m1 -97v5m0 8v2m1 -14v2m0 5v5m1 -3v4m1 -73v2m0 70v1m1 -70v1m0 67v2m1 -69v1m0 14v1m0 1v3m0 44v1m0 2v1m1 -4v1m1 -64v1m1 -2v1m1 -1v1m0 142v1m1 -146v2m1 -2v2m0 139v1m1 -143v4m0 41v3m0 94v1m0 25v2m1 -168v3m0 116v1m0 62v1m1 -185v4m0 180v1m1 -188v4m1 -7v1m0 4v2m0 142v3m0 16v2m1 -163v2m0 35v2m0 4v3m1 -45v2m1 0v2m0 39v1m0 54v13m1 -109v2m0 41v17m0 25v20m1 -106v2m0 47v15m0 78v2m0 5v2m1 -149v2m0 41v1m0 56v13m1 -122v1m0 50v23m1 -75v9m0 27v3m0 37v5m1 -79v7m0 34v4m0 1v6m0 24v9m0 4v8m0 32v4m1 -129v6m0 36v2m0 8v6m0 91v4m1 -156v3m0 44v2m0 20v33m0 32v21m1 -158v3m0 49v2m0 23v35m0 15v12m0 18v19m1 -174v3m0 104v6m1 -109v2m0 1v1m0 41v3m0 2v3m0 48v2m0 59v3m1 -121v2m0 4v4m0 42v4m0 69v3m1 -169v3m0 166v6m1 -172v4m0 136v7m1 20v9m1 -173v1m1 -5v1m1 -8v5m1 -10v6m0 106v6m0 7v7m1 -132v1m0 6v2m1 -1v1m0 65v4m1 -71v1m0 32v4m0 2v5m0 32v4m1 -81v1m0 26v3m0 7v4m0 7v1m1 -50v1m0 20v1m0 20v4m0 31v5m1 -83v1m0 80v4m1 -86v1m0 15v2m0 1v18m0 11v4m1 -53v1m0 9v2m0 23v3m0 11v2m1 -52v1m0 31v1m0 1v1m0 47v4m1 -85v5m0 45v5m0 28v2m1 -78v1m0 10v2m0 1v4m0 22v14m0 15v2m1 -72v2m0 40v1m0 74v5m0 24v6m1 -155v2m0 44v1m0 64v8m0 36v3m1 -159v2m0 29v9m0 13v11m1 -63v2m1 -3v3m0 2v1m0 17v1m0 1v2m0 55v15m1 -98v1m0 6v6m0 38v2m0 6v4m0 56v5m1 -124v2m0 50v3m1 -55v6m0 9v4m0 39v6m0 28v8m0 80v8m1 -189v8m0 46v1m1 -55v5m0 9v3m1 -14v3m0 4v9m0 131v1m1 -145v1m0 6v7m0 64v5m0 35v4m0 6v2m1 -132v2m0 1v10m1 -17v3m0 49v1m1 -53v4m1 -5v4m0 2v2m0 63v8m1 -79v1m0 8v2m0 29v2m0 8v4m0 7v7m0 6v5m1 -69v1m0 48v1m1 -50v2m0 46v1m1 -52v3m0 43v5m0 36v15m1 -107v5m0 88v3m0 8v4m1 -109v6m1 -8v6m1 -4v2m0 51v7m0 17v9m0 10v6m1 -102v2m0 50v15m1 -67v2m0 8v2m0 1v5m0 1v3m0 43v6m0 9v5m0 58v2m1 -144v2m1 -1v4m0 48v2m1 -52v3m0 154v1m1 -156v9m1 -2v2m0 122v1m1 -140v3m0 14v2m0 120v1m1 -139v2m0 12v7m0 1v5m1 -28v2m0 27v2m0 17v3m1 -49v2m0 18v4m0 5v2m0 18v6m1 -53v2m0 19v2m0 11v2m0 19v2m1 -54v2m0 15v2m0 19v2m0 1v2m0 4v7m0 2v3m0 12v9m0 77v2m1 -149v4m1 -11v2m1 -10v3m0 47v3m1 -53v2m1 -1v2m1 1v2m0 154v1m1 -157v2m1 -3v2m1 -2v6m1 -6v8m0 42v1m0 38v2m0 16v11m0 40v1m1 -162v3m0 4v7m0 77v1m0 69v1m1 -163v1m0 11v3m0 90v21m1 -125v2m0 25v5m0 15v1m1 -45v3m0 19v3m0 2v7m0 6v7m1 -44v3m0 14v5m0 4v4m1 -32v3m0 83v16m1 -103v2m0 4v2m0 2v3m0 46v4m0 1v4m0 23v8m1 -98v2m0 69v12m0 8v8m1 -96v2m0 81v10m0 7v9m1 -108v1m0 3v3m0 1v4m0 75v4m0 15v7m1 -114v1m0 55v5m0 29v14m0 43v2m1 -162v1m0 4v6m0 13v5m0 1v2m0 3v4m0 35v3m0 9v2m1 -87v5m0 66v4m0 14v4m1 -89v2m0 71v12m0 31v4m1 -119v1m0 115v14m0 13v1m1 -149v1m0 3v2m0 60v3m0 1v3m0 42v6m0 27v1m1 -147v2m0 41v5m0 27v4m0 27v26m0 30v2m1 -165v2m0 72v2m0 1v2m0 1v5m1 -88v4m1 -3v4m0 66v3m1 -71v2m0 65v3m1 -70v3m0 40v2m0 10v9m0 117v3m1 -182v3m0 26v5m0 111v3m1 -147v2m1 -3v2m0 31v6m1 -40v1m0 45v1m0 1v3m0 46v7m0 35v1m0 3v1m1 -148v3m0 12v8m0 44v21m0 4v4m0 71v2m1 -169v1m0 67v23m0 9v5m0 20v4m1 -127v10m0 1v2m0 25v1m0 17v7m0 9v49m1 -122v4m0 7v2m0 24v2m0 32v9m0 9v7m0 53v1m1 -148v2m0 6v2m0 13v4m0 10v4m0 6v9m0 19v20m1 -95v3m0 4v2m0 71v12m0 56v1m1 -150v4m0 3v2m1 -3v2m0 30v2m0 15v1m0 12v7m1 -72v3m0 27v6m0 15v3m0 31v10m1 -96v3m0 7v1m0 16v3m0 1v9m0 1v1m0 25v7m0 17v1m1 -92v6m0 6v3m0 2v3m0 1v1m0 35v4m0 8v10m0 75v1m1 -154v3m0 9v2m0 1v4m0 24v1m0 1v1m0 1v1m0 1v2m0 12v6m1 -69v2m0 40v7m0 111v3m1 -163v2m0 10v5m0 29v4m0 40v14m0 61v1m0 9v2m1 -177v3m1 -4v2m0 6v4m0 17v4m0 13v4m0 1v7m0 39v2m0 1v1m0 1v1m0 1v4m1 -109v9m0 3v1m0 19v2m0 1v3m0 1v1m0 15v4m0 42v6m0 1v1m1 -110v4m0 4v2m0 52v5m0 84v1m1 -143v1m0 51v1m0 36v3m0 46v3m0 1v1m1 -144v3m1 -4v5m0 69v3m1 -78v6m0 2v2m0 1v4m0 1v9m0 26v2m0 78v1m0 27v1m1 -162v6m0 42v5m0 4v1m0 4v2m0 94v4m1 -165v3m0 84v7m0 65v1m1 -162v5m0 79v10m0 67v1m1 -152v2m0 156v1m1 -158v1m0 13v4m0 42v4m0 93v1m1 -158v2m0 50v17m1 -16v5m0 14v4m1 -73v1m0 69v1m1 -75v3m1 -3v2m0 13v14m1 -31v2m0 11v6m0 1v7m1 -31v3m0 18v5m0 25v7m0 1v2m0 104v2m1 -165v1m0 10v6m0 76v2m1 -95v1m0 94v1m1 -97v2m0 41v2m0 1v3m0 1v6m0 4v1m1 -60v2m0 105v3m0 4v4m0 28v3m1 -148v1m0 62v9m0 22v2m0 2v4m0 12v2m1 -115v2m0 96v3m0 2v3m0 3v2m0 2v3m1 -116v7m0 26v1m0 18v9m0 40v1m0 9v1m1 -115v10m0 41v2m0 31v8m0 3v2m0 8v1m0 8v1m0 11v1m0 4v1m0 36v1m1 -168v2m0 53v3m0 46v1m0 8v1m0 17v1m1 -131v2m0 102v1m0 5v2m0 9v1m0 8v1m1 -135v6m0 104v3m0 6v2m0 13v1m1 -134v6m0 56v6m0 9v5m0 8v6m0 7v9m0 4v1m0 16v1m1 -130v2m0 6v7m0 36v13m0 23v4m0 4v2m0 33v1m0 18v1m1 -150v2m0 9v4m0 1v3m0 48v1m0 25v1m0 37v1m1 -131v1m0 10v1m0 1v11m0 1v3m0 62v1m0 39v2m0 19v1m1 -152v2m0 88v1m0 40v1m0 24v3m1 -155v5m0 66v3m0 11v1m0 42v1m1 -45v1m0 43v1m1 -126v1m0 74v6m1 -82v2m0 25v4m0 20v2m1 -23v3m0 42v1m1 -75v1m0 80v1m0 29v2m0 12v1m1 -130v2m0 84v1m0 4v2m0 3v2m0 16v4m0 7v3m1 -129v2m0 62v9m0 13v2m0 4v1m0 25v2m1 -119v1m0 86v5m0 7v1m0 20v1m0 27v3m1 -151v1m0 19v3m0 101v3m1 -129v2m0 111v5m0 8v2m0 32v10m1 -174v6m0 35v4m0 22v4m0 35v2m0 5v2m0 5v2m0 1v1m0 5v1m0 2v4m0 12v24m1 -165v2m0 31v5m0 29v5m0 31v4m0 10v2m0 2v1m0 32v8m1 -160v1m0 5v1m0 20v4m0 34v26m0 11v2m0 1v2m0 30v9m1 -147v1m0 90v5m0 9v2m0 33v5m1 -138v1m0 70v6m0 37v8m1 -137v2m0 15v3m0 37v3m0 56v3m0 4v4m1 -124v2m0 18v2m0 32v6m0 54v2m0 51v5m0 1v1m1 -170v1m0 22v10m0 2v14m0 8v1m0 32v2m0 32v3m1 -119v2m0 7v16m0 5v6m0 74v4m1 -128v3m0 3v2m0 6v2m0 15v1m0 15v8m0 36v1m0 14v4m0 1v1m0 1v11m0 54v7m1 -148v3m0 61v6m0 15v6m0 29v7m1 -165v3m0 43v3m0 52v7m0 58v2m0 10v9m1 -185v1m0 18v2m0 17v4m0 55v1m0 3v1m0 5v3m0 54v8m0 2v5m1 -179v2m0 21v1m0 1v4m1 -30v1m0 95v2m0 1v3m1 -103v2m0 22v6m0 102v3m0 25v3m1 -163v1m0 8v12m0 86v4m0 22v3m0 37v1m0 1v2m1 -176v2m0 12v2m0 68v11m0 11v4m0 38v5m0 27v5m1 -183v11m0 1v1m0 34v24m0 26v7m0 60v7m0 2v1m1 -172v11m0 32v13m0 18v6m0 53v29m0 6v16m1 -184v3m0 7v9m0 9v3m0 1v3m0 2v5m0 17v1m0 3v1m0 12v1m1 -67v3m0 43v9m0 32v7m1 -49v5m0 48v8m1 -91v3m1 -3v10m0 65v12m1 -93v17m0 13v2m1 -21v18m2 -13v8m0 1v3m0 7v8m1 -27v1m0 5v3m0 21v6m2 -42v8m1 -8v5m0 2v1m1 1v1m1 1v11m1 5v4m1 -20v1m1 -1v1m1 0v3m1 -46v1m0 66v6m0 26v12m1 -111v2m0 51v3m1 -53v1m0 43v3m1 -47v1m0 42v1m1 -45v2m0 17v7m0 1v5m0 12v1m1 -48v4m1 -5v2m1 46v3m1 -49v1m0 44v1m1 -44v1m0 157v5m1 -164v1m2 20v2m0 21v1m3 -45v1m2 45v1m2 -47v2m1 -2v1m0 2v17m1 -20v2m1 -3v1m0 44v2m39 -46v3m1 -4v3m1 -4v2m3 -1v1m1 -1v1m1 50v1m1 -2v1m3 2v2m2 -54v1m1 2v1m0 48v1m1 -1v1m0 18v7m1 -76v1m0 164v3m1 -170v1m0 51v1m0 112v3m1 -167v1m0 49v1m1 -50v1m0 126v3m0 19v4m1 -153v1m0 123v4m0 31v3m1 -161v1m0 141v14m0 4v10m1 -170v1m0 148v18m0 2v2m1 -171v1m0 49v1m0 96v2m1 -147v1m0 155v7m1 -162v1m0 44v3m1 -48v1m0 149v14m1 -165v2m0 49v19m0 9v8m0 68v4m1 -159v2m0 47v5m0 45v1m0 53v2m1 -156v1m1 -3v1m0 149v3m0 11v1m1 -169v1m0 2v2m0 119v5m0 30v9m1 -167v4m0 133v5m1 -142v3m0 57v4m0 64v5m1 16v1m1 -91v6m0 20v14m0 15v14m1 -69v31m1 -91v1m1 5v2m0 175v2m1 -180v5m0 74v13m1 -20v14m2 75v2m2 -164v1m1 1v1m1 -6v1m0 3v2m0 159v1m0 4v1m1 -168v3m0 159v1m1 -163v2m1 -6v1m1 149v3m1 -151v1m1 -1v1m1 -2v1m2 2v5m0 155v1m1 -157v1m0 135v1m0 19v1m1 -159v1m0 137v1m1 -141v1m1 -2v2m1 -2v1m3 1v1m0 140v1m1 -142v2m0 55v11m2 -8v36m1 -93v1m0 51v5m1 -58v2m0 53v5m0 103v1m1 -166v1m0 53v1m0 24v7m0 79v1m1 -113v2m1 115v1m1 -28v2m1 -144v8m0 44v7m1 -58v3m0 3v3m0 60v9m0 65v1m1 -145v6m0 138v1m1 -145v4m2 42v3m0 4v9m1 -60v2m0 41v1m0 32v9m1 -84v2m0 82v8m1 -91v2m0 82v3m0 28v2m0 11v1m0 8v1m0 8v2m1 -147v3m0 133v1m1 -134v2m0 72v6m1 -81v2m0 38v5m0 22v20m1 -89v2m0 42v15m0 19v6m1 -85v1m0 75v20m1 -96v1m0 8v2m0 100v4m0 32v1m1 -147v3m0 5v1m1 59v13m1 -7v6m1 -81v2m0 61v8m0 39v3m1 -114v2m0 46v4m1 -2v6m0 89v4m1 -107v14m1 5v6m0 50v4m0 30v4m0 12v2m1 -107v5m0 47v4m0 45v2m1 -107v4m0 43v7m0 53v2m1 -161v2m0 1v3m0 52v6m0 33v6m0 33v18m1 -155v1m0 5v1m0 39v8m0 55v28m0 16v9m1 -163v2m0 3v3m0 32v3m0 98v17m1 -160v8m0 34v3m1 -45v1m0 2v4m0 72v8m1 -87v7m0 70v36m0 24v2m1 -134v3m0 37v4m1 -44v2m0 38v6m0 98v5m1 -109v2m0 109v4m1 -160v2m0 3v2m0 4v2m0 30v2m0 128v3m1 -172v3m0 13v5m0 18v9m1 -47v2m0 15v3m0 64v3m0 23v3m1 -113v2m0 19v3m0 13v2m0 48v9m1 -95v2m0 26v6m0 27v3m1 -65v2m0 72v4m0 72v19m1 -170v3m0 26v4m0 38v9m1 -77v2m0 21v3m0 13v9m1 -45v2m0 15v3m0 75v14m0 55v2m1 -164v19m0 24v9m0 28v5m0 14v4m1 -88v9m0 38v5m1 -60v9m0 12v1m1 -33v4m0 29v3m0 26v4m0 41v7m0 16v4m1 -140v10m0 32v9m0 59v6m0 27v4m1 -103v5m0 55v6m0 31v4m1 -106v4m0 60v5m0 32v3m1 -103v2m0 64v6m0 24v4m1 -99v2m0 61v21m1 -84v3m0 57v5m0 11v6m0 13v2m1 -97v1m0 47v16m0 10v6m0 42v5m1 -88v4m0 40v3m0 41v5m1 -96v7m0 37v5m1 -85v2m0 6v7m0 54v4m1 -51v4m1 -2v4m0 62v7m1 -93v2m0 6v15m0 42v1m1 -68v1m0 11v32m0 49v2m1 -97v1m0 32v8m0 19v19m1 -78v1m0 25v5m1 -29v35m0 57v2m1 -45v7m1 -45v7m0 58v2m1 -44v9m0 39v2m0 28v1m1 -111v3m0 54v10m0 40v3m0 10v2m1 -58v3m2 -50v1m1 -18v1m0 7v9m2 -3v28m1 -21v14m1 -20v4m1 15v8m0 7v1m0 46v2m1 -49v1m4 5v4m0 10v3m1 -19v1m0 31v3m1 -37v2m0 32v1m1 -33v2m0 22v2m0 48v1m1 -85v2m0 82v1m4 -23v1m1 -58v1m1 41v1m1 -1v1m0 5v1m1 -128v1m0 124v1m1 -134v2m0 8v1m1 -9v9m4 103v1m0 18v1m1 -1v1m1 -137v4m0 124v1m1 -127v2m1 -4v3m1 -6v2m3 124v3m1 16v1m1 -141v2m1 137v3m3 -144v1m1 -2v2m1 134v1m1 -77v1m4 83v2m1 -25v1m0 11v3m1 -129v2m1 -1v1m0 135v1m1 -139v3m1 67v7m0 76v2m3 -160v10m1 65v4m1 2v5m1 -9v30m1 -79v3m0 14v2m1 17v6m0 21v7m0 9v2m1 -55v7m0 33v11m1 -72v6m1 -2v5m1 -2v15m0 50v20m1 -54v16m0 45v2m0 12v1m1 -89v5m0 26v5m0 34v6m2 9v4m1 -56v5m0 20v4m1 -122v5m0 80v5m0 31v4m1 -121v1m0 27v3m1 -3v1m1 -29v1m0 26v2m0 28v11m1 -67v2m0 23v2m1 -3v1m0 52v13m2 -92v4m1 -6v1m0 25v1m1 -29v1m1 25v2m1 -29v1m0 28v1m1 -25v1m0 24v1m1 -26v2m0 24v2m1 -29v3m1 -8v1m0 2v4m1 -7v1m0 30v1"/><path stroke="#0068ff" d="M105 572v28m2 41v3m10 -22v1m1 -68v1m0 66v1m1 -28v1m1 23v1m1 -1v1m3 31v3m9 -21v1m1 5v1m1 -1v1m12 -100v2m0 28v7m1 -26v8m0 45v5m1 -49v4m0 41v6m1 -59v3m0 43v11m0 27v6m0 5v1m0 5v1m1 -109v6m0 35v19m0 19v28m0 9v2m1 -123v2m0 82v6m0 5v1m0 8v1m0 1v7m0 9v1m1 -125v1m0 57v15m1 -74v1m0 29v4m0 85v7m1 -126v1m1 1v2m1 26v7m1 -8v4m0 74v6m0 7v8m1 -129v3m0 4v16m1 -24v1m0 91v19m1 -112v1m0 89v7m0 14v6m1 -117v1m1 -1v3m1 -5v2m0 13v17m1 -32v1m0 14v16m0 77v4m0 25v5m1 -141v1m0 83v26m1 -109v1m2 -5v1m2 -1v1m2 -5v1m1 -2v1m7 -1v1m20 3v1m7 10v1m4 -8v1m4 -1v1m4 -5v1m2 1v1m6 2v1m2 -1v1m0 45v8m0 14v34m1 -102v1m0 42v8m0 26v15m1 -87v5m0 69v4m0 38v6m1 -124v8m4 -13v1m4 -1v1m10 -7v1m5 -2v1m1 -3v1m16 2v1m5 6v1m2 3v1m1 1v2m1 -2v1m1 -1v1m1 0v1m1 1v1m0 93v8m1 -100v2m0 84v6m0 7v6m1 -103v2m0 125v1m1 -126v10m0 25v3m0 51v12m1 -60v6m1 -43v3m0 42v3m0 25v30m1 -81v14m0 34v7m1 -4v7m1 -56v15m1 -18v23m0 41v9m1 -76v31m1 50v1m1 -1v1m2 -104v1m0 11v6m0 31v16m1 -66v1m0 26v1m0 25v8m1 -59v1m0 29v4m1 -23v4m0 19v5m0 67v3m1 -78v5m0 57v11m0 18v3m1 -86v12m0 21v3m0 1v2m0 10v1m0 16v16m1 -31v6m1 -12v3m1 -65v3m0 33v3m0 20v3m1 -60v3m0 42v1m0 27v27m1 -132v6m0 39v8m0 26v5m0 39v4m1 -129v1m1 0v1m0 126v7m1 -134v1m1 -1v1m1 17v6m0 60v1m1 -85v2m0 13v12m1 -29v1m1 5v7m1 -12v2m1 -5v1m1 88v5m1 30v3m1 -31v1m0 7v1m0 28v3m1 -65v1m0 30v1m0 16v8m1 -130v1m1 0v3m0 50v17m1 -6v5m1 -10v7m1 34v4m1 -75v5m1 -30v2m1 78v5m0 49v2m1 -137v1m0 100v3m0 17v3m1 -123v1m0 96v4m1 -98v2m0 34v5m0 26v6m0 29v3m1 -107v3m0 2v19m0 8v27m0 75v1m1 -136v1m1 -1v1m0 86v3m0 22v4m1 -44v3m1 -75v1m0 52v12m1 -60v7m0 81v4m1 -94v2m1 -2v2m1 -3v3m0 1v6m0 9v7m0 69v4m0 23v4m1 -127v2m0 4v3m0 22v2m0 63v3m0 16v4m1 -118v1m1 0v1m0 125v5m1 -130v1m0 106v16m0 5v4m1 -133v1m0 116v5m1 -124v1m0 132v2m1 -133v2m1 1v1m0 46v4m0 18v3m1 -70v2m0 9v10m0 25v3m0 33v2m1 -51v5m0 12v7m0 16v5m1 -66v6m1 -17v2m0 3v12m1 29v3m1 -49v1m0 13v1m0 37v27m1 18v16m1 -112v2m1 -1v2m1 -4v3m1 -3v2m1 -2v1m1 120v6m1 -60v4m1 -57v5m0 25v8m1 24v9m1 0v7m1 -71v12m0 44v1m4 11v3m3 -42v1m2 -50v1m0 4v3m1 -1v2m0 41v2m1 -45v3m1 -8v2m2 115v3m1 -112v4m0 90v1m1 -96v1m0 3v3m1 -8v1m0 7v2m1 -11v1m0 8v2m1 -13v2m0 10v1m1 -12v1m0 75v1m1 -77v2m0 75v3m0 15v2m1 -100v3m0 7v1m1 -10v8m2 60v2m1 -135v1m0 168v3m1 -169v1m0 160v2m1 -162v1m0 21v3m0 125v1m1 -150v1m0 142v3m0 8v2m1 -156v1m1 -2v1m1 -2v2m1 -3v1m0 167v1m1 -170v2m0 132v2m0 33v1m1 -173v4m0 131v3m0 12v2m1 -151v5m1 -6v4m1 -6v3m1 -2v4m1 -5v3m0 2v2m0 46v27m0 69v2m0 11v3m0 16v2m1 -183v4m0 1v3m0 43v1m0 38v21m0 34v3m1 -148v10m0 42v2m0 39v13m1 -106v10m1 -8v7m1 -6v1m0 5v2m0 44v2m0 46v8m0 38v3m1 -149v4m0 3v2m0 64v8m0 48v25m1 -117v5m0 2v1m0 34v4m1 -84v1m0 85v4m0 44v4m1 -137v4m0 44v8m1 -57v2m0 49v3m0 8v9m1 -73v1m0 54v2m0 14v7m0 62v8m0 3v7m0 30v3m1 -191v3m0 113v7m0 60v8m1 -186v2m0 48v2m0 53v2m0 55v2m1 -163v3m0 44v4m0 50v3m0 64v2m1 -170v4m0 40v2m0 6v14m0 102v5m1 -175v9m0 36v1m0 98v5m1 -148v8m0 1v1m0 153v12m1 -170v3m0 1v1m1 -6v3m0 35v1m1 -46v3m0 43v1m0 12v8m1 -20v1m0 58v4m0 20v5m1 -136v6m0 43v1m1 -45v2m0 70v3m1 -75v1m0 80v3m1 -85v1m0 30v6m0 13v1m1 -52v1m0 23v3m0 13v3m0 40v5m1 -89v1m0 85v5m1 -92v1m0 10v3m0 1v2m0 21v3m0 12v9m1 -63v1m0 39v2m0 10v3m1 -56v1m0 36v2m0 1v3m0 44v3m1 -90v2m0 85v2m1 -86v6m0 71v3m1 -77v2m0 43v1m0 69v4m0 35v5m1 -161v1m0 104v7m0 47v4m1 -164v1m0 5v2m0 1v3m0 1v1m0 1v1m0 2v2m0 8v4m0 9v4m0 5v4m0 11v1m0 1v1m1 -68v2m1 -3v2m0 28v7m0 14v1m0 27v5m0 15v7m1 -107v2m0 53v6m0 65v5m1 -132v3m0 97v15m0 69v2m1 -184v1m0 55v3m0 42v10m0 61v9m2 -182v1m0 11v1m1 -14v5m1 1v2m1 -7v5m1 -6v2m0 53v2m0 15v8m0 93v3m1 -175v1m0 155v3m1 -155v2m1 -5v2m0 4v2m0 3v5m0 20v2m0 15v7m1 -53v2m0 137v1m1 -140v2m0 53v4m1 -65v5m1 91v8m2 51v3m1 -160v1m0 86v10m0 68v2m1 -167v1m0 67v7m0 11v3m0 72v3m1 -92v9m2 -22v1m1 -52v1m0 49v5m3 92v3m0 8v3m1 -170v1m0 144v1m1 -114v3m0 10v3m0 97v1m0 28v2m1 -175v1m0 16v4m0 11v1m0 16v1m1 -49v2m0 19v2m0 15v2m0 8v1m1 -48v4m0 15v2m0 43v11m0 78v1m1 -150v10m0 132v1m1 -150v10m0 144v2m1 -155v1m2 149v1m1 -148v2m1 -1v1m1 -2v1m1 -1v1m0 132v2m1 -137v3m0 91v16m1 -111v1m0 92v4m0 20v8m2 23v1m1 -147v2m1 -1v4m0 22v4m1 -31v3m1 -2v1m0 68v2m0 1v6m0 1v13m1 -92v2m0 83v8m1 -90v2m1 -1v2m0 95v11m1 -108v1m1 20v2m0 136v1m1 -96v5m0 5v4m1 -88v3m1 -3v4m1 -4v3m0 117v9m1 -131v3m0 81v5m0 1v2m0 78v3m1 -173v2m1 119v2m0 41v1m1 -166v1m0 66v4m0 94v1m1 -165v2m0 63v4m1 -70v3m0 45v2m0 7v1m0 103v1m1 -161v4m0 34v8m1 -44v3m1 -2v1m0 39v1m0 1v4m0 95v1m1 -144v2m0 51v2m0 51v13m0 7v4m1 -133v1m0 88v4m0 4v4m0 78v1m1 -74v7m0 7v6m1 -113v1m0 4v3m0 1v8m0 8v2m0 115v2m1 -151v7m0 5v1m0 1v6m0 1v2m0 8v2m0 43v9m0 100v3m1 -188v6m0 20v9m1 -34v4m0 136v4m0 9v2m1 -155v3m1 -6v5m0 35v11m0 94v1m0 1v1m1 -147v1m0 36v3m0 1v1m0 5v5m1 -53v1m0 12v9m0 2v4m0 47v17m1 -92v1m0 15v2m1 -19v3m0 56v7m1 -67v4m1 -2v2m0 51v6m1 -58v1m0 148v3m1 -154v2m0 12v6m0 8v3m0 123v1m1 -155v1m0 13v5m0 8v6m0 8v5m0 5v5m0 98v1m1 -156v1m0 4v4m0 52v2m1 -63v10m1 -4v3m1 -4v3m0 170v3m1 -177v3m0 176v3m1 -183v2m0 53v4m0 1v3m1 -66v2m0 94v8m0 51v2m1 -63v7m0 55v3m0 8v2m0 4v2m1 -169v4m1 -1v2m1 -2v2m1 -1v5m0 54v14m1 -75v6m0 53v17m1 -76v2m1 -2v2m0 151v3m1 -165v1m0 2v6m0 158v1m0 3v2m1 -171v3m0 11v10m0 127v1m0 13v1m1 -154v2m0 1v1m0 156v1m1 -1v1m2 -169v1m0 113v1m0 28v2m1 -145v2m0 62v1m0 40v2m1 -109v5m0 63v3m0 40v3m1 -115v6m0 34v6m0 6v6m0 12v5m0 33v2m0 6v1m1 -116v2m0 53v16m0 4v11m0 22v1m0 6v1m0 13v1m0 2v1m1 -132v2m0 58v5m0 42v1m0 5v2m0 11v1m0 5v1m0 40v2m1 -175v3m0 105v5m0 12v1m0 6v1m1 -13v3m0 9v1m0 53v3m1 -72v1m0 14v1m1 -132v3m0 97v1m0 30v2m0 20v1m1 -152v1m0 80v3m0 11v2m0 33v2m0 23v2m1 -157v2m0 87v1m0 3v1m0 36v2m1 -131v1m0 91v1m0 37v2m1 -130v3m0 86v1m0 40v1m1 -125v1m0 81v1m0 41v1m0 10v3m1 -139v1m0 81v1m0 33v7m0 2v2m1 -128v1m0 31v12m0 32v1m0 3v3m0 35v4m0 5v1m0 12v3m1 -143v1m0 33v4m0 7v1m0 31v7m0 43v1m0 8v2m0 8v3m1 -149v2m0 82v2m0 4v4m0 17v2m0 2v8m0 2v2m0 23v2m1 -157v3m0 87v4m0 21v2m1 -117v2m0 88v4m0 8v1m0 15v2m1 -119v2m0 63v8m0 29v1m0 17v2m0 47v1m1 -171v3m0 23v4m0 40v3m0 29v1m0 21v3m0 17v1m0 25v1m1 -175v5m0 16v3m0 82v1m0 9v2m0 5v1m0 6v1m0 44v9m1 -186v3m0 15v2m0 18v6m0 67v5m0 11v2m0 1v2m1 -130v8m0 8v3m0 17v5m0 77v5m0 4v2m0 24v9m1 -153v1m0 7v3m0 14v3m0 64v3m0 10v1m0 8v2m0 5v13m0 1v3m1 -139v1m0 7v2m0 12v4m0 107v2m0 1v5m1 -143v2m0 9v6m0 70v2m0 3v3m0 21v1m1 -124v2m0 20v3m0 32v2m0 17v1m0 20v21m1 -115v2m0 22v5m0 25v2m0 25v2m0 43v43m1 -164v1m0 67v1m0 24v4m0 25v3m1 -134v3m0 7v2m0 8v7m0 36v5m0 55v5m1 -121v3m0 10v6m0 163v3m1 -148v1m0 66v15m0 42v6m1 -177v6m0 49v2m0 57v44m0 35v2m1 -188v1m0 21v2m0 19v4m0 64v19m0 50v5m1 -185v1m0 50v5m1 -57v1m0 14v2m0 45v2m0 2v1m0 6v2m1 -76v1m0 15v5m0 109v3m0 31v2m1 -166v1m0 111v5m0 12v5m0 44v6m1 -184v2m0 110v4m0 30v4m0 37v3m1 -189v3m0 45v2m0 57v5m0 22v33m1 -166v4m0 80v5m0 43v5m0 29v6m1 -171v3m0 35v2m0 42v1m0 1v1m0 60v42m1 -80v5m1 7v6m1 -66v67m1 -31v8m0 12v7m1 -83v13m2 -3v37m1 -21v5m0 115v2m1 -113v3m0 104v6m1 -145v10m1 -12v15m1 -15v19m0 8v21m1 -46v1m0 27v13m1 -29v13m1 -4v4m1 -23v12m1 -12v1m1 2v10m0 41v13m1 -37v9m0 8v9m0 12v5m1 -117v1m0 56v4m1 -59v2m0 47v2m1 -50v1m0 44v2m1 -48v1m0 45v1m1 -2v1m1 0v1m1 1v9m1 -12v1m1 -46v1m0 149v9m0 5v9m1 -129v1m1 0v1m1 -23v7m0 15v3m0 3v5m1 -12v1m0 9v15m3 -22v1m1 -1v1m0 20v14m1 -37v1m3 -44v12m1 32v2m1 -4v1m1 -2v1m3 1v1m3 0v1m10 -3v1m2 -2v1m4 2v1m1 -1v1m9 -1v1m1 -1v1m4 1v1m1 0v1m3 -2v1m0 98v18m1 -167v1m0 145v23m1 -117v1m1 0v1m1 -2v1m2 -1v1m1 3v2m1 -3v2m2 -2v1m1 -1v1m0 10v7m0 7v10m1 -87v1m0 51v1m0 108v5m1 -114v2m0 106v4m1 -113v2m1 -53v1m0 49v1m0 74v3m0 26v3m1 -36v4m0 38v4m1 -166v1m0 129v13m0 28v1m1 -174v3m0 60v1m0 79v9m1 -151v2m0 51v2m1 -53v2m0 47v1m0 83v2m0 16v7m1 -156v1m0 151v17m1 -169v1m0 144v6m1 -152v1m0 150v5m1 -156v1m0 54v11m0 85v3m1 -155v1m0 118v16m0 11v1m1 -25v4m1 -130v2m0 115v6m1 19v7m1 -16v6m0 11v2m1 -43v3m0 26v11m3 -3v4m1 10v1m3 -26v1m3 -135v2m0 133v1m1 -134v2m0 145v2m1 -151v3m0 148v1m2 31v1m1 -32v2m0 8v1m0 20v1m1 -9v2m1 -178v1m1 -1v1m0 149v1m3 -16v1m1 -133v4m0 131v2m2 -20v1m3 21v2m1 22v1m1 -164v1m0 162v1m1 -165v2m0 134v1m1 -135v2m0 140v1m0 11v1m2 -153v1m0 57v7m0 27v2m1 -95v1m0 60v5m0 26v3m0 55v1m1 -97v3m0 14v7m0 54v2m0 14v2m4 10v1m1 -157v3m0 50v13m2 65v1m2 -87v4m2 -52v2m0 123v5m1 -129v2m0 87v4m0 59v1m1 -151v1m0 128v1m1 -129v3m0 80v7m0 38v1m1 -129v2m1 -3v1m0 59v19m1 -80v1m0 55v1m0 12v8m0 20v6m1 13v1m1 -112v5m1 128v1m0 2v1m1 -60v9m0 21v2m0 27v1m1 -70v8m0 24v7m0 24v1m1 -84v4m0 79v1m1 -80v5m0 81v3m1 -89v8m1 3v5m0 40v5m0 38v3m1 -91v5m0 38v4m0 51v2m1 -105v5m0 33v5m1 -97v1m0 61v6m0 21v6m1 -97v5m0 48v19m0 26v10m0 28v16m1 -152v3m0 38v6m0 87v5m0 17v6m1 -121v12m1 30v10m1 16v6m1 -119v5m0 44v7m0 106v14m1 -174v3m0 46v6m0 86v6m1 -148v1m0 45v10m0 95v4m1 -111v26m0 96v6m1 -166v3m0 7v3m0 32v4m1 -49v3m0 10v2m0 20v2m0 42v3m0 29v3m1 -114v3m0 14v2m0 18v3m0 40v5m0 9v5m1 -98v3m0 18v5m0 36v4m1 -67v3m0 23v6m0 44v3m0 61v8m0 19v2m1 -169v3m0 20v3m0 51v6m1 -81v2m0 17v2m0 25v4m1 -47v4m0 7v4m0 21v6m0 46v5m0 14v6m0 44v5m1 -110v7m0 17v4m0 23v3m1 -102v11m0 52v32m1 -108v9m0 29v1m0 19v23m0 42v3m0 1v16m0 24v6m1 -174v6m0 36v26m0 4v11m0 24v6m0 27v3m1 -92v30m0 21v8m0 37v5m1 -103v6m0 38v11m0 41v7m0 7v15m1 -131v20m0 34v6m0 40v3m1 -104v21m0 39v4m0 34v2m1 -99v13m0 44v4m0 21v5m0 8v2m1 -96v6m0 46v5m0 34v1m0 34v4m1 -132v1m0 40v6m0 32v5m0 34v3m1 -123v1m0 35v4m0 47v3m0 34v4m1 -128v2m0 28v7m0 49v6m1 -89v6m0 24v11m0 30v3m1 -50v3m1 -1v3m1 -25v6m0 15v6m0 30v6m1 -66v2m0 4v5m0 32v16m0 40v1m1 -102v1m0 24v7m0 69v1m1 -101v2m0 18v5m1 57v1m1 -73v10m0 20v10m0 41v1m1 -85v5m0 78v2m0 2v1m2 -89v9m0 21v11m0 38v1m1 -83v2m0 52v1m0 2v7m3 28v3m1 9v1m1 -7v2m1 -65v7m1 -3v3m0 48v2m0 8v3m1 2v1m3 -28v3m0 4v1m3 -32v1m0 24v2m1 -28v1m0 17v3m0 14v2m1 -35v2m7 32v1m0 13v3m3 -137v2m2 122v2m0 7v3m2 -7v1m0 4v1m3 -33v1m1 -116v4m1 -5v3m3 93v2m1 -9v1m0 79v1m2 -27v3m9 11v2m1 -24v1m3 -128v1m1 -1v2m1 -3v1m1 109v3m1 17v1m2 -70v19m0 57v1m1 -141v7m0 71v5m0 36v2m1 -36v5m0 15v3m2 -78v14m0 39v7m0 26v1m0 48v2m1 -98v21m1 -30v8m0 15v10m0 11v4m1 -70v6m1 -3v5m0 66v21m1 -79v9m0 34v7m0 32v2m2 -76v6m0 14v6m0 45v5m1 -28v59m1 -70v15m0 24v4m1 -56v4m0 29v3m0 1v1m0 26v19m1 -173v1m0 33v1m0 46v5m0 41v3m1 -128v3m0 31v26m0 6v37m1 -101v2m0 28v1m0 32v23m1 -87v2m0 29v2m0 17v9m0 11v9m1 -79v3m0 27v2m0 42v13m1 -82v1m0 22v2m0 44v6m0 13v7m1 -72v1m1 -29v1m0 27v1m1 -32v2m0 27v1m1 -4v2m1 0v2m1 -1v1m1 -28v2m0 26v2m1 -29v1m0 28v13m1 -44v2m0 28v2m1 -3v1m1 -1v1m1 -4v1m1 -2v1"/><path stroke="#0080ff" d="M112 635v3m2 -10v1m0 14v1m1 -16v1m0 22v1m0 5v1m1 -7v1m1 -14v3m4 -2v2m0 5v3m1 23v1m1 -1v1m8 -39v1m0 5v2m0 26v1m1 -30v3m15 -100v5m1 12v6m0 32v7m1 -40v4m0 31v6m1 -50v8m0 25v10m0 11v27m0 18v9m1 -112v8m0 17v10m0 19v2m0 9v8m0 28v9m1 -119v6m0 72v4m0 29v9m1 -123v1m0 40v16m1 -58v1m0 24v4m1 -29v1m1 2v8m1 25v10m0 11v36m0 5v12m1 -78v5m0 17v17m0 31v4m0 21v7m1 -133v4m0 16v6m0 80v23m0 5v1m1 -138v2m0 84v5m0 19v4m1 -115v1m0 80v8m0 27v5m1 -121v1m0 129v9m1 -137v6m1 -9v1m0 6v6m0 17v4m0 71v19m1 -125v1m0 8v5m0 16v5m0 68v4m1 -106v2m0 69v12m0 26v20m1 -128v2m0 2v21m0 57v16m1 -101v1m2 -3v1m2 -2v1m3 -4v1m1 0v1m1 -2v1m1 -3v1m1 -2v1m1 0v1m4 -2v1m1 0v1m4 0v1m1 -2v1m7 4v1m2 -2v1m4 6v1m2 2v1m1 0v1m1 0v1m0 46v13m6 -65v1m1 1v1m3 -8v1m2 -2v1m2 0v1m2 2v1m1 -1v1m1 -2v1m1 -1v1m1 0v1m2 1v1m0 49v4m1 -15v6m0 56v5m1 -69v5m0 49v9m1 -91v27m0 37v5m0 48v4m1 -120v18m0 50v9m1 -86v1m0 69v13m1 -84v1m1 -3v1m2 -1v1m1 -1v1m1 -1v1m4 -3v1m2 -1v1m2 -2v1m1 -3v1m3 -2v1m6 -6v1m1 -1v1m1 -1v1m1 -2v1m3 -1v1m3 1v1m3 2v1m1 -2v1m1 -1v1m2 2v1m1 1v1m2 2v1m2 1v1m2 5v1m1 -2v1m1 -1v1m1 0v1m1 1v1m0 85v7m0 8v6m1 -104v1m0 78v5m0 19v5m1 -106v6m0 82v37m1 -87v4m0 41v6m0 12v7m1 -61v8m0 18v25m2 -58v12m0 18v4m1 -47v4m0 39v7m2 21v28m1 -45v4m4 -84v2m0 4v5m0 53v11m0 17v1m0 29v3m1 -126v1m0 59v10m0 48v8m1 -124v1m0 24v4m1 -15v6m0 7v6m1 2v9m1 44v16m0 16v3m1 -28v20m1 -29v2m1 -64v3m0 28v2m0 26v4m0 32v5m1 -98v4m0 32v6m0 12v1m0 42v1m1 -80v26m0 41v3m1 -124v1m0 35v22m0 71v5m1 -133v1m0 120v5m1 -126v1m0 129v3m1 -133v1m1 22v4m1 -26v13m0 12v5m0 54v8m1 -95v6m0 120v9m1 -123v3m1 -13v3m2 77v4m1 32v3m1 -40v8m0 38v3m1 -135v1m0 70v2m1 -73v1m1 2v32m0 1v17m0 36v1m1 -21v6m1 -9v23m0 14v2m0 32v3m1 -36v4m1 -74v9m0 18v23m1 -78v17m1 56v5m1 16v4m0 23v13m1 -135v1m0 92v3m1 -92v8m0 21v5m0 37v5m0 20v4m1 -101v2m0 19v8m0 27v6m0 61v8m1 -134v1m1 81v4m0 29v5m1 -121v1m0 66v5m1 -71v1m0 44v7m1 -41v6m0 9v21m0 33v12m0 4v39m1 -131v1m0 91v12m1 -104v1m1 -1v1m0 22v4m0 62v3m0 31v4m1 -129v4m0 27v3m0 57v3m0 23v4m1 -121v2m1 -1v1m0 118v6m1 -124v1m0 100v5m0 16v5m1 -128v1m0 111v4m1 11v3m1 -129v1m1 1v2m0 40v4m0 25v2m1 -70v9m0 10v9m0 11v5m0 38v3m1 -49v12m0 28v8m1 -68v5m1 -20v3m0 69v18m1 -43v2m0 70v6m1 -115v2m0 65v6m1 3v9m0 16v5m1 -115v2m0 99v19m1 -119v6m0 20v24m1 -51v17m1 -18v1m1 -2v1m1 113v6m1 -58v4m1 -48v10m0 9v6m1 41v19m6 -2v1m1 -5v1m2 -3v2m0 7v1m1 -21v2m1 -83v2m1 -1v3m1 -5v5m0 110v1m5 -108v3m0 80v3m0 5v1m1 -93v1m0 3v3m0 79v2m1 -89v2m0 4v2m1 -9v2m0 6v2m1 -10v3m0 3v2m1 -7v3m1 -5v7m4 -77v3m1 1v2m1 0v1m0 25v1m1 -26v1m1 -2v2m1 -9v8m1 -3v2m0 6v4m0 5v7m1 -24v1m1 -3v2m0 162v3m2 -168v1m4 0v2m1 -1v1m0 47v2m0 27v9m0 21v19m0 8v3m1 -87v2m0 25v12m0 49v2m0 1v2m2 13v2m1 -158v5m0 48v6m0 19v21m1 -96v3m0 74v5m0 35v8m0 25v11m1 -123v2m0 39v4m1 50v3m2 -87v8m1 -7v14m1 52v5m0 42v13m1 -182v4m0 107v2m0 51v2m1 -167v1m0 3v2m0 104v3m0 59v2m1 -175v7m0 46v6m0 14v6m0 91v5m1 -173v3m0 46v2m0 6v10m0 75v5m1 -146v3m0 45v1m0 108v9m1 -162v4m1 -5v4m1 -8v1m0 47v2m0 5v5m0 8v6m0 70v5m1 -100v2m0 4v15m0 34v3m0 29v4m0 48v2m1 -140v1m0 12v8m1 -71v5m0 75v3m1 -81v3m0 84v3m1 -89v1m0 51v2m0 1v27m1 -55v2m0 8v2m0 49v6m1 -96v1m0 91v4m1 -97v1m0 62v6m1 -14v12m1 -69v1m0 90v3m1 -4v2m1 -89v1m0 80v3m1 -84v4m0 46v1m0 63v5m0 44v6m1 -169v2m0 48v1m0 48v8m0 58v3m1 -169v2m0 20v7m0 18v5m0 20v1m0 10v1m0 50v22m1 -156v2m1 -3v2m0 75v4m0 27v29m1 -139v3m0 131v4m1 -21v6m0 68v2m1 -78v9m0 49v3m2 -163v2m2 -12v5m2 51v15m0 90v2m1 -90v6m1 68v2m1 -146v4m0 10v6m0 13v1m1 -37v2m0 5v1m1 -7v1m0 3v3m0 131v2m1 8v2m1 -14v2m0 8v3m0 7v1m1 -4v2m3 -81v11m3 55v2m0 15v1m2 3v1m1 20v2m3 -151v4m0 1v5m0 90v3m0 29v2m1 -160v9m0 17v1m0 1v1m0 10v2m1 -29v2m0 19v8m1 -48v1m0 16v3m1 -22v7m1 134v2m1 25v1m1 -1v1m2 -166v1m1 0v1m1 -2v1m1 -2v2m1 -4v2m1 96v20m4 -116v2m0 147v1m1 -151v2m0 148v1m1 -150v2m1 -1v1m1 0v3m0 146v1m1 -147v1m1 -7v2m0 3v2m2 143v1m1 -4v2m2 -23v5m2 47v1m1 -41v1m0 39v1m1 -129v11m0 77v1m1 -89v1m0 3v6m1 -15v5m0 96v2m2 -152v1m0 151v3m0 21v1m1 -177v2m0 46v6m1 -55v1m1 98v5m1 7v7m0 44v1m1 -134v1m0 1v1m0 1v1m0 1v1m0 136v2m1 -147v5m0 1v1m3 136v2m2 -127v5m1 95v2m1 -146v1m1 -2v1m2 0v1m1 -1v2m0 143v1m1 -126v8m0 123v3m1 -134v7m0 19v5m3 -51v5m0 162v1m1 -170v1m0 2v3m1 -5v4m0 155v2m1 -161v3m1 -4v1m1 101v3m0 65v1m1 -168v4m0 163v1m1 -164v3m1 -2v2m1 -2v3m1 -4v2m0 144v1m1 -150v5m0 144v1m1 -151v6m1 -8v2m0 152v1m1 5v2m0 11v1m3 -7v2m1 -8v1m1 -159v2m0 141v2m1 -146v1m0 71v7m1 -4v5m0 30v6m0 51v2m1 -59v1m0 2v3m0 15v2m1 -66v7m0 36v2m0 1v2m0 14v1m0 3v1m0 23v2m0 27v3m1 -61v1m0 4v1m1 -9v2m0 6v1m1 -14v1m0 12v1m1 -133v2m0 101v3m0 6v5m0 15v1m1 -134v5m0 85v1m0 11v1m0 30v2m1 -135v1m0 1v3m0 94v1m0 33v2m1 -131v2m0 128v2m1 -131v3m0 90v1m0 36v3m1 -131v7m0 83v1m0 34v6m0 30v2m1 -164v7m0 83v1m0 29v3m0 7v2m1 -134v8m0 77v3m0 3v2m0 28v5m0 4v5m1 -128v1m0 38v7m0 7v4m0 28v1m0 27v10m0 4v1m1 -138v2m0 6v3m0 86v4m0 4v1m0 15v1m0 12v2m0 28v3m0 16v2m1 -185v6m0 66v7m0 28v1m0 12v1m1 -120v1m0 1v3m0 103v1m0 11v3m1 -119v2m0 103v1m0 12v4m0 23v1m0 20v3m1 -177v1m0 5v3m0 103v1m0 10v6m0 2v2m1 -133v5m0 24v13m0 70v1m0 7v1m0 8v2m0 1v3m1 -112v18m0 91v1m1 -129v1m0 19v11m0 3v3m0 87v2m0 6v12m0 1v9m1 -146v2m0 11v4m0 6v4m0 83v6m1 -116v1m0 16v6m0 86v2m0 15v8m1 -142v7m0 17v10m0 68v21m1 -125v2m0 25v5m1 -31v4m0 29v2m0 47v2m1 -77v2m0 97v5m0 16v4m1 -128v7m0 98v1m0 9v5m1 -97v9m0 1v6m1 132v8m2 -180v2m0 24v2m0 1v1m0 1v1m0 100v9m0 17v1m0 28v3m1 -189v1m0 117v20m1 -140v2m0 17v2m0 61v1m0 58v24m1 -165v1m0 108v4m0 13v5m0 36v3m1 -170v1m0 117v12m0 55v6m1 -191v1m0 116v4m0 21v5m1 -147v2m0 112v22m1 -135v2m0 89v5m0 33v5m1 -133v2m0 91v1m0 46v7m1 -33v4m1 9v5m1 -77v6m0 67v6m0 29v14m1 -87v7m0 27v6m0 29v16m1 -78v10m1 81v1m1 -101v8m0 86v7m1 -152v3m0 32v5m0 106v4m1 -153v3m0 42v4m0 96v4m1 -129v15m1 -12v8m0 86v9m1 -99v8m0 21v9m1 -54v2m0 14v11m0 13v14m1 -30v7m1 -7v4m1 -15v8m1 -19v1m1 11v10m0 24v7m0 13v7m1 -35v8m0 26v4m1 -60v4m1 -64v1m0 51v2m1 -54v2m0 47v1m0 129v5m1 -184v1m0 47v2m1 -3v1m1 0v1m1 9v6m1 -17v2m1 -4v1m0 99v6m0 23v6m1 -134v1m0 97v22m1 -119v1m0 88v15m1 -102v3m0 5v6m1 -17v2m0 3v4m0 15v5m1 65v14m1 -107v1m1 1v1m1 -1v1m0 10v9m0 14v8m4 -76v2m0 1v2m0 25v1m1 3v2m4 -5v1m1 0v1m1 -2v1m1 -1v1m1 1v1m1 -2v1m1 -1v1m1 -1v1m1 -2v1m1 -1v1m1 -1v1m1 -1v1m1 -1v1m3 -2v1m4 1v1m5 -1v1m1 -2v1m2 -5v1m2 3v1m5 1v1m1 1v1m1 0v1m1 -2v1m1 -2v1m1 93v5m0 18v3m1 -119v1m0 88v6m0 23v5m1 -121v1m1 0v1m2 -4v1m0 116v19m1 -16v16m1 -129v13m1 -14v1m2 -2v1m1 -1v1m0 5v4m0 24v11m1 -45v2m0 6v13m0 82v5m1 -107v1m0 101v4m1 -107v3m0 71v18m1 -94v1m0 70v3m0 32v2m1 -159v1m0 81v15m0 19v5m0 46v3m1 -170v1m0 63v4m0 52v11m1 -68v3m0 65v11m1 -87v1m1 -55v1m0 50v1m0 28v4m0 62v6m1 -150v1m0 145v7m1 -153v1m0 104v3m0 34v4m1 -148v2m0 117v1m0 27v6m1 -153v2m0 66v22m0 31v9m0 20v3m1 -153v1m0 135v11m1 -28v4m0 34v2m1 -54v9m1 32v17m1 -27v11m1 -38v26m1 17v2m6 6v1m4 -163v2m0 141v1m0 15v2m2 13v1m7 -18v2m4 -9v3m3 -6v1m0 1v1m1 -3v1m0 1v3m1 1v2m0 1v2m2 -157v2m1 1v1m1 -1v1m0 65v8m0 14v5m1 -94v1m0 66v7m0 10v9m0 46v2m1 -83v14m5 75v1m2 -7v2m2 -5v3m2 -141v2m1 0v1m2 139v1m1 -140v3m0 147v1m1 -152v3m1 56v12m0 34v5m1 19v1m1 -1v1m2 -37v21m1 -32v24m1 -48v5m0 82v1m1 -83v5m0 72v4m1 -78v7m0 15v49m0 14v6m1 -83v40m0 46v3m1 -89v7m0 24v7m1 -43v6m0 21v6m1 -24v9m0 3v9m1 -19v26m1 -51v11m0 33v7m0 31v5m0 28v7m1 -116v5m1 35v23m1 -1v4m1 -67v14m0 61v7m0 5v19m1 -161v1m0 55v6m0 75v5m1 -86v13m0 77v5m1 -81v7m0 83v6m1 -157v7m0 39v4m0 43v17m0 54v2m1 -166v4m0 1v5m0 24v1m0 39v2m0 35v3m1 -114v2m0 9v3m0 23v7m0 28v5m0 19v4m1 -99v3m0 10v5m0 45v9m0 77v14m1 -164v4m0 14v5m0 53v4m0 51v6m1 -137v3m0 14v3m0 60v4m1 -83v3m0 12v2m0 31v4m0 48v18m0 1v5m0 40v1m1 -160v7m0 31v6m0 37v3m0 25v4m0 1v1m0 33v5m1 -98v17m0 30v2m1 -9v5m1 -74v2m0 7v10m0 23v8m0 26v8m0 20v8m0 8v8m1 -85v8m0 9v7m0 36v3m0 27v1m1 -93v21m0 50v22m1 -119v10m0 7v21m0 59v7m1 -96v34m0 49v3m0 24v1m1 -111v7m0 26v6m1 -46v5m0 35v4m0 30v4m0 8v3m1 -95v5m0 37v4m0 69v5m1 -127v2m0 81v3m0 28v3m1 -119v1m0 31v3m0 54v2m0 28v4m1 -122v2m0 3v6m0 79v6m1 -21v4m1 -51v4m0 57v7m1 -66v3m1 -1v6m0 19v5m1 -58v4m1 -7v1m0 16v7m1 -22v18m1 47v1m1 -64v6m0 20v10m1 -34v1m3 -2v1m0 25v5m7 4v2m6 73v1m1 -58v1m0 56v1m1 -59v2m2 30v2m3 -16v2m0 17v1m6 -14v2m4 21v2m1 -15v2m0 27v3m8 -42v3m1 -3v1m3 9v1m3 -4v1m1 -1v1m2 14v3m4 0v3m2 -144v1m0 135v3m4 -76v15m2 51v1m0 13v3m1 -59v15m2 -30v8m2 -15v15m1 -39v7m0 36v31m0 6v9m1 -87v5m0 45v16m1 -49v7m0 20v7m2 -29v14m0 56v4m1 -36v4m1 -80v1m0 57v1m0 25v8m0 11v5m1 -56v4m0 38v6m0 11v9m1 -119v1m0 40v5m0 49v5m1 -73v6m0 37v15m1 -85v2m0 21v9m0 23v5m1 -93v1m0 33v17m0 29v7m1 -89v3m0 32v2m0 32v8m0 13v12m1 -99v5m0 25v5m0 34v5m0 26v11m0 6v6m0 1v14m1 -138v6m0 23v2m0 11v29m1 -73v2m0 29v1m1 -3v1m0 11v15m1 -29v1m1 1v4m1 -4v2m1 -34v4m0 30v3m1 -37v5m0 42v9m1 -21v22m1 -24v2m1 -2v1m1 -4v1"/><path stroke="#0097ff" d="M106 628v3m12 25v1m5 -9v1m24 -102v10m1 8v8m0 14v10m1 -29v5m0 19v7m1 -36v25m1 -29v17m1 -28v7m0 59v6m1 -80v1m0 33v6m1 -41v2m0 17v5m1 -24v2m0 23v35m0 45v19m1 -114v30m1 5v11m0 36v5m0 12v7m1 -80v17m0 17v6m0 21v4m0 32v2m1 -109v5m0 69v6m0 23v5m1 -135v1m0 75v8m0 28v4m1 -61v23m0 40v7m0 9v2m1 -138v2m0 103v24m1 -122v15m1 -23v6m0 27v3m0 63v5m0 19v5m1 -129v2m0 2v4m0 26v4m0 61v3m1 -100v28m0 33v8m0 58v11m1 -137v2m0 21v5m0 46v6m0 16v4m1 -104v1m0 16v13m1 -32v1m1 -1v1m1 -1v1m2 -5v1m1 -2v1m8 -2v1m9 -2v1m1 0v1m1 0v1m2 -1v1m1 1v1m4 -1v1m1 1v1m1 2v1m2 3v1m3 45v4m0 13v4m1 -63v1m1 -4v1m2 -5v1m1 -1v1m3 2v1m3 -9v1m2 0v1m2 1v1m1 1v1m1 -1v1m4 0v1m1 0v1m0 37v11m0 4v12m0 19v22m1 -107v1m0 34v4m0 67v4m1 -110v1m0 32v4m0 63v6m1 -70v7m0 25v5m0 57v3m1 -105v6m0 33v11m0 9v8m1 -93v1m0 62v6m0 13v5m1 -88v1m0 79v9m2 -92v1m1 0v1m1 -1v1m1 -1v1m1 -2v1m4 -3v1m5 -5v1m1 -1v1m2 -1v1m1 -1v1m1 -1v1m11 -6v1m3 4v1m4 -1v1m3 4v1m2 1v1m2 3v1m1 3v8m1 -9v1m1 -1v1m1 0v1m1 1v1m0 80v4m0 21v5m1 -108v11m0 64v3m0 29v5m1 -105v16m0 60v6m1 -46v5m0 31v5m0 25v7m1 -60v2m0 41v28m3 -95v8m0 4v1m0 12v14m3 10v1m0 4v5m2 26v10m2 -123v4m0 69v8m0 34v5m1 -122v1m0 14v3m0 51v8m0 28v12m1 -115v3m0 17v4m1 -5v7m1 43v1m1 52v1m1 -9v5m1 -32v3m1 -64v3m0 22v3m0 32v4m0 21v7m1 -89v5m0 22v5m1 44v5m1 -92v7m0 22v1m0 65v5m1 -127v1m0 40v13m0 65v1m1 -120v1m0 35v17m0 37v39m1 -129v1m1 25v2m1 2v3m0 46v5m0 8v6m1 -95v13m0 101v6m1 -111v3m1 -13v2m1 -9v1m1 76v7m1 35v1m1 -41v4m0 8v4m0 32v2m1 -62v1m0 24v1m1 -95v1m0 62v2m0 60v1m2 -52v8m0 52v5m1 -35v5m0 23v4m1 -29v5m0 22v5m1 -97v18m0 23v4m1 -65v7m0 101v9m1 -137v1m0 71v4m1 -75v1m0 92v3m1 -94v1m0 87v4m1 -81v7m0 7v7m0 47v7m0 5v8m1 -35v5m0 52v4m1 -125v1m1 -2v1m0 79v2m0 38v6m1 -67v7m1 -65v1m0 39v4m1 -28v9m0 21v8m0 18v7m1 -75v2m0 79v10m0 12v15m1 -118v2m0 108v6m1 -30v2m0 38v4m1 -99v2m0 53v2m0 30v4m1 -123v21m0 87v23m1 -131v1m0 110v7m1 -117v1m0 95v4m1 -101v1m1 -4v1m0 125v3m1 -125v2m1 1v5m0 31v4m0 31v2m1 -44v11m0 46v4m0 26v11m1 -42v11m1 -74v5m1 41v6m0 18v5m1 -46v5m0 12v19m0 28v6m1 -120v1m0 8v2m0 73v4m1 -89v1m0 78v9m0 30v5m1 -118v2m0 89v8m0 19v4m1 -117v20m0 24v10m1 -44v7m0 30v16m1 -70v3m0 52v9m1 -65v1m0 47v13m0 58v6m1 -19v7m1 -90v1m0 32v5m3 40v1m1 -9v1m2 -1v1m0 12v2m5 -9v3m1 6v1m2 -108v2m3 86v1m1 -1v1m1 5v2m2 -88v3m1 -3v4m1 -5v6m0 93v1m1 -99v3m0 80v2m3 -3v2m2 -11v3m2 -150v4m0 142v1m1 -142v1m1 0v1m1 -6v5m1 144v1m1 -152v5m0 12v5m0 129v1m1 -151v4m4 151v1m4 -103v27m1 -25v25m3 -18v19m0 84v3m1 -80v6m0 20v9m0 44v12m1 -90v7m1 46v3m0 30v4m3 -32v1m1 -21v5m0 31v6m1 -56v2m0 47v2m1 -164v3m0 109v3m0 53v3m1 -94v9m0 8v19m0 50v5m1 -169v1m0 51v6m0 10v5m0 65v5m1 -142v1m0 49v1m0 101v6m1 -158v5m1 -4v3m0 43v1m1 2v5m0 19v5m0 33v32m0 5v8m0 31v2m1 -139v4m0 15v5m0 26v3m0 36v4m0 41v3m1 -137v2m0 2v8m0 8v7m1 5v3m1 -85v1m0 90v3m1 -93v1m0 54v1m0 27v4m1 -87v1m0 29v1m0 1v3m0 1v2m0 57v7m1 -104v1m0 96v5m1 -33v4m1 -6v4m1 21v2m1 -4v2m0 94v4m1 -105v2m0 91v8m1 -134v1m0 12v22m0 23v5m0 55v6m1 -124v1m0 15v32m0 69v4m1 -89v5m0 36v9m0 22v5m1 -19v22m1 -166v1m0 54v1m0 19v3m0 60v8m1 -9v4m1 -19v5m1 -4v7m0 34v1m3 -7v2m2 -11v1m2 -85v10m1 76v1m1 -126v1m0 1v7m0 1v1m0 114v1m0 1v1m0 12v1m1 -163v5m0 157v1m1 -163v3m0 137v1m0 5v1m1 3v1m0 2v1m1 -4v1m6 -1v2m2 14v3m6 -134v2m0 6v1m1 -38v4m0 5v3m1 -12v1m0 1v8m2 129v1m1 8v3m2 -7v1m1 -152v1m1 -1v2m1 -2v1m1 -3v2m1 148v2m4 7v1m1 -1v1m2 -160v2m1 0v1m1 -1v2m1 -3v6m1 -4v3m3 159v2m1 -8v1m1 -14v1m0 12v1m6 -2v2m2 5v1m2 -11v3m0 3v1m1 -62v10m0 3v2m1 38v1m1 -1v1m2 0v2m9 -10v2m3 6v6m1 10v1m1 -15v3m0 11v1m2 -175v2m0 168v1m1 -4v2m3 -16v1m1 -1v1m1 -151v3m1 -1v2m1 -2v2m1 -2v1m0 158v2m1 9v2m9 -92v18m1 -21v20m1 11v2m1 -1v1m0 17v3m0 52v1m0 3v2m1 -62v4m0 55v2m1 -63v3m0 1v2m0 25v2m1 -39v2m0 9v1m1 -26v6m0 5v1m0 13v1m1 -30v2m0 27v1m1 -132v1m0 98v2m0 29v2m0 40v2m1 -174v3m0 95v2m0 31v2m1 -132v3m0 94v1m0 33v2m1 -132v4m0 91v1m0 31v2m1 -129v3m0 91v1m0 27v1m0 64v3m1 -190v1m0 93v1m0 26v1m1 -123v9m0 86v1m0 6v1m0 18v1m0 10v4m0 46v3m1 -184v6m0 98v1m0 13v1m0 64v2m1 -79v1m0 10v1m0 63v2m1 -183v1m0 107v1m0 8v2m1 -122v6m0 106v1m0 6v5m1 -125v5m0 107v1m0 7v2m0 6v2m0 12v2m1 -32v1m0 4v2m0 11v1m3 -128v8m0 17v6m1 -31v4m0 3v1m2 22v4m1 42v1m1 -76v5m0 104v7m0 2v7m2 -85v1m1 23v1m0 115v10m2 -193v3m1 0v1m0 82v1m0 29v6m0 20v39m1 -181v2m0 128v13m0 24v7m1 -174v2m0 113v13m0 44v3m2 -52v8m0 5v8m2 -144v3m0 96v6m0 23v4m1 -132v4m0 94v1m0 39v6m1 -22v5m0 38v28m1 -57v5m1 -3v6m0 15v8m0 14v12m1 -106v7m0 40v7m0 12v10m0 16v14m1 -100v8m0 10v8m1 -61v55m0 73v6m1 -149v3m0 54v7m0 73v6m1 -150v5m0 40v5m0 98v3m1 -100v3m0 89v4m1 -110v7m0 53v49m1 -113v8m0 67v11m0 9v8m1 -69v7m1 -59v14m0 38v11m1 -34v5m1 -8v4m1 -11v5m1 -23v2m0 49v19m1 -49v11m0 4v9m0 27v5m1 -2v3m1 -59v5m1 -15v2m1 -6v3m0 118v8m0 5v2m1 -136v7m1 -9v1m0 123v14m1 -137v1m1 14v3m1 -18v5m0 81v12m1 -7v5m0 35v4m1 -137v1m0 89v7m0 22v5m1 -123v2m0 78v8m0 15v8m1 -96v4m1 -19v3m0 24v5m1 -34v1m0 88v5m0 14v9m2 -77v28m1 -64v1m0 4v5m0 31v6m1 -50v1m2 -4v1m1 1v1m1 4v4m1 -9v1m2 -2v1m1 1v1m4 1v1m1 -2v1m5 -2v1m6 -3v1m1 -1v1m1 0v1m1 1v1m1 -1v1m2 -2v1m4 -4v1m4 3v1m1 -1v1m1 -2v1m1 -1v1m2 3v1m2 -1v1m1 -2v1m1 -1v1m0 87v5m0 26v4m1 -122v1m0 81v6m0 34v5m1 -125v1m1 0v1m0 34v22m1 -59v1m1 103v11m1 -115v1m0 110v7m1 -100v15m1 -28v1m2 -2v20m1 -20v5m0 39v7m0 42v15m1 -107v6m0 13v8m0 70v4m1 -101v8m0 87v6m1 -100v6m0 63v2m0 18v5m1 -98v1m0 24v15m0 28v2m0 37v3m1 -163v1m0 75v7m0 15v19m0 54v3m1 -174v1m0 68v4m0 41v7m1 -54v2m0 50v13m1 -75v4m0 70v5m1 -135v1m0 52v2m0 30v6m0 52v4m1 -145v1m0 98v3m0 41v4m1 -148v2m0 108v3m0 29v2m1 -145v1m0 120v5m0 16v6m1 -148v1m0 130v6m0 10v4m1 -152v2m1 -4v2m20 160v2m1 -26v1m1 -1v1m6 -5v1m0 28v3m1 -16v3m1 6v1m1 -2v3m3 3v1m1 -39v3m0 39v1m1 -164v1m0 162v1m1 -164v1m0 74v7m1 -8v10m2 58v1m1 -1v1m1 -10v2m5 12v1m4 -7v1m4 -7v2m1 -25v5m2 18v2m1 17v2m1 1v1m2 -93v10m0 5v41m0 29v1m1 -81v10m0 59v3m1 -67v15m0 69v12m1 -6v4m1 -86v24m1 -30v21m1 -9v3m2 -24v7m0 16v10m0 7v13m0 11v7m0 40v3m1 -114v4m1 54v9m1 -6v5m1 -58v10m0 28v23m1 -68v9m0 62v4m1 -68v25m0 47v5m1 -69v6m0 27v26m0 18v6m1 -101v4m0 33v6m0 17v4m0 47v3m1 -160v1m0 30v3m0 33v3m0 40v3m1 -115v9m0 33v5m0 19v4m0 28v3m1 -99v10m0 59v14m0 55v8m0 14v2m1 -162v14m0 62v3m0 43v5m1 -128v5m0 7v2m0 67v4m0 38v40m1 -162v4m0 4v4m0 37v3m0 37v8m0 24v15m0 4v21m1 -115v4m0 29v4m0 34v5m0 24v4m1 -44v3m1 -7v5m0 44v11m1 -132v7m0 41v26m0 36v8m1 -69v9m0 46v4m0 18v5m2 -108v7m1 77v5m0 14v5m1 -103v13m0 1v12m0 51v2m1 -88v4m0 28v3m0 77v1m1 -119v5m0 28v4m0 67v6m1 -120v8m0 76v3m0 22v3m1 -115v1m0 89v3m0 22v3m1 -116v3m0 93v1m1 -20v5m0 10v2m1 -64v4m0 25v28m1 -56v4m0 27v3m1 -29v19m2 -55v1m0 7v8m1 81v1m1 -9v2m5 -86v10m0 81v1m2 5v1m1 -10v1m1 -1v1m11 0v1m1 -18v2m0 16v1m17 -10v1m0 20v1m0 4v1m1 -1v1m1 -8v1m0 4v2m8 -18v2m9 3v1m2 8v3m4 -20v2m5 2v3m4 -86v8m0 19v9m0 31v6m1 -73v9m0 19v17m1 -26v20m2 52v5m0 21v1m1 -80v11m1 -22v10m0 35v10m1 -103v1m0 47v4m0 48v11m1 -109v1m0 8v5m0 19v7m0 59v5m1 -20v9m1 -92v21m0 37v5m1 -11v9m1 -61v4m0 22v6m0 33v22m1 -124v3m0 35v11m0 16v7m0 42v6m0 21v9m1 -149v2m0 31v1m0 1v9m0 29v25m0 45v9m1 -153v1m0 32v1m0 13v15m1 -31v11m0 15v7m1 -35v1m1 4v5m1 -7v18m1 -15v18m1 1v6m1 -5v19m1 -41v1m1 -2v3m1 -6v1m1 -3v1m1 -1v1m1 0v1"/><path stroke="#00aeff" d="M113 620v1m1 18v2m5 -19v3m10 15v1m1 -1v1m3 16v1m5 -5v1m10 -81v14m1 -14v19m3 -37v45m0 4v10m1 -73v4m0 23v6m1 -33v2m0 6v9m1 -17v7m0 5v11m0 35v18m0 17v10m1 -65v54m0 12v8m1 2v5m1 -45v6m0 9v6m1 -66v5m0 60v4m1 -100v75m0 40v4m1 -122v1m0 27v29m0 70v9m1 -134v8m0 45v22m0 21v7m1 -83v9m1 4v3m0 55v5m0 29v7m1 -134v2m0 34v5m0 51v5m1 -69v7m0 19v7m1 -32v4m0 36v6m0 26v4m1 -94v3m0 13v6m1 -37v1m2 68v16m1 -87v1m1 -3v1m2 -2v1m1 0v1m1 -2v1m4 -2v1m2 -3v1m4 1v1m7 -1v1m3 3v1m1 -1v1m6 118v5m1 -115v1m1 0v1m1 0v1m0 37v4m0 21v4m5 -73v1m1 0v1m3 -3v1m3 -5v1m1 0v1m1 -1v1m4 1v1m2 0v1m1 40v16m1 -54v1m0 30v6m0 27v19m0 22v5m1 -111v1m0 29v4m0 75v3m1 -112v1m0 28v3m0 73v5m1 -68v6m0 13v6m0 65v3m1 -102v6m0 20v7m0 28v6m1 -98v1m0 57v4m0 24v4m1 -18v6m0 9v6m1 -97v1m0 80v14m1 -95v1m1 0v1m1 -1v1m1 -1v1m1 -2v1m1 -3v1m1 -1v1m3 -1v1m1 -1v1m1 -2v1m4 -4v1m4 -3v1m1 -3v1m1 -2v1m1 -1v1m3 -3v1m1 -1v1m2 0v1m2 1v1m1 1v1m2 0v1m1 -2v1m1 -1v1m2 2v1m3 4v1m2 1v1m1 2v1m1 10v12m1 -20v6m1 -6v1m1 0v1m1 1v18m0 58v4m0 30v3m1 -100v24m0 36v4m0 37v4m1 -80v4m0 38v5m1 -35v5m0 21v5m0 37v11m4 -82v12m3 34v4m0 30v2m1 -26v2m2 4v1m1 -23v7m1 -89v1m0 9v4m0 62v28m1 -100v5m0 6v6m4 99v4m1 -33v4m1 -65v4m0 14v4m0 39v6m0 6v9m1 -77v8m0 8v6m0 33v2m1 4v10m1 -115v1m0 21v6m0 47v11m0 32v5m1 -121v1m0 5v34m1 -40v1m0 23v1m0 9v1m0 17v9m0 19v9m1 -89v1m0 2v6m1 18v3m1 2v3m0 41v2m0 19v4m1 -86v7m0 78v16m1 -102v3m0 107v7m1 -128v4m1 -12v1m1 69v6m1 -62v2m0 91v3m1 -35v3m0 45v3m1 -129v1m0 67v1m0 28v1m1 -97v1m0 29v7m0 21v4m0 63v5m2 -39v42m1 -25v6m0 12v5m1 -20v22m1 -47v2m1 -60v4m0 42v12m0 39v4m1 -62v6m1 -70v1m0 88v3m1 -90v1m0 60v6m0 13v7m1 -70v7m0 61v5m1 -22v5m0 42v5m1 -120v1m1 75v2m0 46v8m1 -134v1m0 45v13m1 -57v1m0 34v4m1 14v18m1 -66v3m0 64v12m0 37v12m1 -128v3m0 93v12m0 6v11m1 -96v1m0 51v3m1 -53v2m0 49v2m0 36v5m1 -107v7m0 70v10m1 -107v2m0 102v6m1 -109v1m0 91v3m1 -96v1m0 99v2m0 1v2m1 -108v1m0 122v2m1 -120v5m1 1v15m0 9v7m0 37v2m1 15v8m0 7v11m1 -20v11m1 -80v5m0 27v36m1 -32v5m0 29v6m1 -47v12m0 19v7m0 16v5m1 -113v1m0 5v2m0 79v5m0 17v16m1 -126v1m0 68v9m0 44v4m1 -120v3m0 79v7m1 -32v8m0 48v7m1 -100v10m0 14v6m0 16v18m0 29v7m1 -121v4m0 42v6m0 9v11m1 -75v1m0 43v3m0 13v4m0 47v7m1 -69v24m0 19v13m1 -82v4m0 22v6m4 28v2m8 14v3m2 -21v2m6 -6v1m5 12v1m7 -157v5m1 -1v2m1 145v2m6 15v3m10 -77v20m1 -18v48m0 33v2m1 -34v4m0 22v4m4 -43v5m0 20v6m1 -48v3m0 42v2m1 -47v2m0 49v2m1 -82v8m0 19v12m0 32v6m1 -91v3m0 57v5m1 -86v17m0 79v5m2 -4v15m1 -84v6m0 15v12m0 45v6m0 19v6m1 -113v5m0 16v5m0 43v4m0 35v2m1 -132v2m0 23v4m0 29v16m1 -41v3m1 6v3m1 -97v1m0 87v4m1 -93v2m0 102v12m1 -117v1m0 102v5m1 -34v4m1 -6v5m0 102v12m1 -96v3m0 75v18m1 -98v2m0 83v9m1 -99v3m0 81v7m0 8v4m1 -137v1m0 4v7m0 22v9m0 6v8m0 66v5m1 -128v1m0 8v6m0 105v5m1 -89v6m0 21v9m0 36v5m1 -90v5m0 54v7m0 22v6m1 -100v3m0 71v13m1 -18v5m1 -19v4m0 36v8m1 -45v23m1 16v1m5 -34v1m1 28v1m3 -33v3m1 15v1m5 -11v1m10 30v1m1 -131v5m0 125v1m1 -159v4m0 135v2m0 12v1m1 -1v1m8 -166v1m10 157v2m1 -20v1m1 -1v1m3 7v2m4 0v1m4 -4v2m0 10v2m3 1v1m1 -1v1m2 -54v3m1 41v1m1 -1v1m13 15v1m2 -17v1m10 -2v1m5 5v2m9 26v2m1 -30v1m0 29v1m1 -5v1m0 2v2m1 -62v1m1 -8v4m0 3v2m0 30v2m1 -45v1m0 11v1m0 11v3m1 -41v2m0 23v2m1 -30v1m0 27v1m1 -30v1m0 29v1m1 -32v1m0 31v1m1 -6v3m0 54v2m0 4v3m1 -95v1m0 25v1m0 63v2m1 -67v1m0 60v1m0 6v2m1 -95v6m0 1v2m0 15v1m0 64v1m1 -80v1m0 11v1m0 67v1m1 -79v1m0 8v1m0 34v2m0 31v1m1 -76v1m0 5v2m1 -7v1m0 3v2m0 27v2m1 -36v1m0 4v2m1 -7v4m4 -110v3m3 60v1m0 2v2m1 45v2m2 -56v3m2 92v1m1 4v2m1 -78v1m0 3v1m0 17v5m1 -13v1m0 18v8m0 44v7m1 -6v3m0 13v2m2 -62v5m2 -31v9m0 7v7m1 4v6m1 -11v6m0 23v9m1 -24v6m0 31v15m1 -49v15m1 -78v6m0 54v12m1 -65v5m0 26v5m1 -94v8m0 75v5m0 61v7m1 -149v6m0 64v6m0 61v6m1 -145v1m0 50v4m0 90v4m1 -94v3m0 35v4m0 44v3m1 -99v5m0 42v6m0 49v7m1 -112v9m0 52v6m0 28v4m1 -66v6m1 -2v8m1 -37v5m1 -9v3m1 -9v4m1 -25v20m0 20v9m0 19v7m1 -45v4m0 41v4m1 -3v3m1 -57v6m0 20v20m1 -59v2m0 111v17m1 -133v3m0 111v4m1 -114v5m1 -13v1m0 118v4m1 -122v1m1 16v3m1 -16v9m0 66v6m0 12v6m1 -107v1m0 87v6m0 44v2m1 -138v1m0 78v10m0 34v5m1 -126v12m0 59v7m0 31v6m1 -98v5m1 8v5m1 47v3m0 28v12m1 -127v1m0 102v35m1 -136v1m0 12v23m0 28v6m1 -69v4m0 42v7m1 -20v11m1 -50v1m0 54v31m2 -84v1m1 7v4m1 -12v1m1 -3v1m2 2v1m1 -1v1m1 -2v1m1 -1v1m1 2v10m2 -12v1m1 -1v1m1 -2v1m1 -1v1m2 -1v1m2 -2v1m1 -1v1m1 -1v1m5 2v1m1 -2v1m2 -2v1m4 -5v1m1 0v1m1 2v1m5 1v1m1 2v1m1 -1v1m1 -1v1m2 -2v1m0 81v5m0 35v3m1 -124v1m0 71v9m0 45v5m1 -129v1m0 5v52m0 1v31m1 -89v1m0 23v10m0 22v15m1 -73v1m0 48v44m0 31v9m1 -135v1m0 95v9m1 -69v14m0 57v5m1 -78v14m1 -41v2m0 30v25m0 66v5m1 -121v7m0 30v31m0 40v2m1 -99v44m0 25v20m1 -58v6m0 31v5m0 15v6m1 -86v12m0 54v4m1 -89v6m0 25v9m0 40v7m1 -88v11m0 77v5m1 -102v1m0 20v3m0 15v5m0 20v3m0 42v3m2 -93v6m0 23v12m1 -45v3m0 40v7m1 -58v6m0 57v7m1 -75v5m0 31v4m0 38v1m0 6v3m1 -143v2m0 102v2m0 35v4m1 -145v1m0 113v5m2 18v10m1 -149v1m13 144v1m2 19v3m4 -8v2m0 1v1m3 -26v1m3 43v2m4 -36v3m5 -11v3m13 10v2m1 -6v1m9 -29v4m6 -46v5m1 0v21m0 35v3m2 30v2m5 -96v16m0 30v11m1 -60v5m0 21v27m0 18v18m1 -26v10m1 -11v5m1 -53v28m1 -36v14m0 44v4m1 -39v10m0 30v7m1 -58v27m0 26v18m1 -91v5m0 22v6m0 27v4m0 41v2m1 -123v6m0 24v3m0 46v3m1 -71v19m0 35v4m1 -20v5m0 43v7m1 -59v3m0 36v4m1 -38v4m0 27v7m1 -118v4m0 44v4m0 27v6m0 47v4m1 -90v5m0 21v3m0 43v6m0 12v6m1 -37v2m0 49v2m1 -55v5m0 28v11m2 -13v4m0 8v6m3 -14v14m1 -85v1m0 65v3m1 -87v4m0 20v4m0 77v3m1 -113v6m0 15v7m0 66v5m1 -106v2m0 77v4m0 14v4m1 -111v1m0 91v4m0 14v4m2 -31v10m1 -58v6m1 -5v4m0 22v1m3 -61v7m3 104v2m3 -18v3m1 -16v1m0 17v3m3 -15v2m6 -43v2m1 48v2m1 5v1m0 8v3m1 -12v1m6 -17v2m2 -11v2m4 6v3m3 -11v1m1 -1v1m7 1v2m10 -31v1m2 42v3m0 13v1m3 -21v2m9 8v2m8 -84v19m0 57v3m0 8v2m1 -88v19m3 68v7m0 7v7m1 -123v44m1 -58v1m0 35v11m1 -47v1m0 42v4m1 -45v8m0 5v19m0 71v8m1 -19v7m1 -36v3m1 -5v12m1 -69v22m0 61v11m1 -86v16m0 85v9m1 -159v1m0 34v1m0 63v9m0 17v19m0 9v12m1 -131v13m0 15v7m0 80v14m1 -99v6m1 -40v11m1 -2v4m1 7v6m1 -3v5m1 2v6m1 8v7m1 -47v5m1 -4v5m1 -10v1"/><path stroke="#00c5ff" d="M112 638v3m4 -10v1m9 1v3m5 8v2m9 1v5m8 -12v1m5 -41v4m0 32v2m1 -93v10m0 4v9m1 -25v6m1 -1v5m0 64v17m1 -1v12m0 8v10m1 -3v3m1 -42v9m1 -55v14m0 42v4m1 23v6m1 -127v1m0 14v12m1 -18v45m0 22v21m1 -67v7m0 59v41m1 -100v4m0 44v7m0 41v4m1 -97v35m0 6v10m1 -57v19m1 -21v5m0 26v5m0 36v3m1 -110v1m0 9v3m0 22v4m2 -41v1m0 71v14m1 -86v1m0 63v5m0 16v5m0 29v18m3 -142v1m4 -3v1m1 -2v1m1 0v1m2 0v1m2 -3v1m1 0v1m1 0v1m2 -1v1m1 -1v1m1 -2v1m2 0v1m7 2v1m2 1v1m1 2v1m1 1v1m1 1v1m0 104v6m0 5v8m2 -84v17m1 -53v1m0 34v2m0 29v3m0 43v14m1 -126v1m0 44v14m0 55v9m2 -129v1m1 65v2m3 -66v1m3 -8v1m1 -2v1m3 1v1m1 0v1m1 1v1m1 -1v1m2 -3v1m2 2v1m0 31v7m0 16v10m0 22v5m1 -67v7m0 79v4m1 -114v1m0 24v4m0 82v2m1 -113v1m0 24v3m0 81v6m1 -68v13m0 74v3m1 -99v20m0 41v8m1 -52v4m0 32v3m1 -94v1m0 68v4m0 21v4m1 -100v1m0 72v7m0 14v5m4 -98v1m4 -5v1m5 -4v1m1 -2v1m1 -1v1m2 -1v1m1 -1v1m6 -6v1m1 -2v1m3 -1v1m9 5v1m2 2v1m1 1v1m2 1v1m2 4v2m0 61v20m1 -61v5m1 -19v9m0 116v1m1 -131v2m1 -1v2m1 17v7m0 48v3m0 37v4m1 -80v9m0 23v4m0 45v8m1 -84v5m0 28v5m1 -25v21m7 21v5m0 20v5m1 -15v1m0 10v6m4 -123v9m1 -1v6m2 63v1m3 16v7m0 8v14m1 -90v14m0 49v6m1 -60v8m1 41v1m1 -101v1m0 15v5m0 64v13m0 14v5m1 -115v5m0 67v5m1 -77v23m0 37v2m0 7v10m1 -79v2m0 6v10m2 16v3m0 35v3m0 25v4m1 -83v5m0 59v14m1 -83v3m0 96v8m1 -117v2m1 -13v1m0 98v5m2 -89v3m0 64v24m1 -34v2m0 45v3m1 -60v2m1 -66v4m0 15v10m0 7v21m0 72v6m1 -41v16m1 -23v1m1 25v12m2 -38v3m1 -59v4m0 32v6m0 12v5m0 31v3m1 -123v1m0 63v1m1 22v3m0 14v1m1 -101v3m0 43v14m0 6v13m2 -7v3m0 35v4m1 -114v10m0 21v75m0 19v7m1 -134v1m0 132v1m1 -134v1m0 38v6m1 -43v1m0 29v4m2 -27v3m0 32v29m1 -64v2m0 65v26m0 29v3m1 -98v2m0 46v3m1 -48v2m0 46v1m0 43v3m1 -103v6m0 59v5m1 -95v3m0 95v4m1 -102v1m0 87v3m1 -92v3m0 89v7m1 16v4m1 -113v3m0 42v11m1 -40v9m0 46v1m1 22v7m1 2v20m1 -95v27m0 36v31m1 -87v6m0 10v8m0 40v24m1 -33v16m1 -107v1m0 2v2m0 86v17m1 -86v18m0 4v23m1 -60v5m0 22v52m1 -17v48m1 -83v6m0 48v29m1 -110v6m0 62v12m0 14v23m1 -123v2m0 38v3m0 20v3m0 40v4m1 -68v6m0 24v19m1 -65v22m3 50v1m4 -21v1m0 11v3m1 -15v1m1 -3v3m2 -11v2m10 30v1m12 -167v3m9 152v3m9 -15v10m0 19v4m1 -28v6m0 12v4m4 -34v20m1 -39v2m0 38v2m1 -43v3m0 44v2m1 -41v14m0 8v10m1 -82v3m0 49v5m1 -64v4m0 71v4m1 41v2m1 -129v15m0 67v5m0 15v6m1 -84v15m0 63v19m1 -102v16m0 52v4m0 28v3m1 -101v5m0 19v5m0 16v4m1 -42v3m1 6v3m1 -8v4m1 -98v1m0 116v10m1 -19v8m1 -38v4m1 -5v4m0 80v18m1 -81v3m0 62v10m1 -78v2m0 75v6m1 -87v2m0 31v21m0 23v4m1 -117v4m0 38v6m0 79v5m1 -132v8m0 116v8m1 -91v21m0 50v6m1 -91v8m0 40v6m0 35v5m1 -121v1m0 11v4m0 87v14m1 -27v8m0 16v22m1 -61v5m0 23v8m2 -17v1m1 -1v1m10 -7v3m0 41v2m4 -28v2m0 26v1m1 -22v2m1 -23v1m1 -1v1m7 -9v2m1 7v1m3 12v3m2 -19v2m0 4v5m2 -7v2m1 10v1m1 -9v1m13 15v1m1 -2v2m3 -17v1m5 7v1m8 -12v2m0 23v1m1 5v2m3 -30v1m1 -1v1m6 28v1m2 -11v2m7 -26v1m2 1v1m12 21v2m2 -7v3m2 -25v2m0 27v1m3 14v1m2 -6v1m0 5v1m1 -33v3m1 -36v3m1 -10v1m0 7v3m1 -24v10m0 12v1m1 -27v2m0 24v1m1 -28v1m0 27v1m1 -30v2m0 27v2m1 -33v2m0 24v2m0 59v4m1 -91v1m0 4v3m0 16v1m0 60v4m1 -90v2m0 3v4m0 15v1m0 62v3m0 1v2m1 -84v1m0 13v1m0 66v3m0 1v1m1 -84v1m0 9v1m0 69v1m1 -79v1m0 5v2m0 69v2m1 -77v1m0 2v2m0 30v2m0 13v2m0 19v2m1 -72v3m0 52v3m1 -59v4m16 -10v1m0 2v12m0 59v4m1 -7v13m4 -77v7m1 -7v3m0 7v8m1 1v23m1 -9v7m0 12v12m2 -104v7m1 1v6m0 36v5m0 59v5m1 -75v4m0 50v7m1 -146v4m0 76v6m0 49v6m1 -84v4m0 83v3m1 -87v4m0 22v9m0 4v8m0 33v3m1 -91v4m0 34v4m0 62v4m1 -107v7m0 41v4m0 38v5m1 -65v12m1 -6v7m1 -39v6m0 20v14m1 -46v4m1 -9v4m1 -9v20m0 35v6m1 -2v4m1 -4v3m1 -54v20m0 20v4m1 -61v2m0 102v7m1 -113v3m0 105v3m1 -105v4m0 104v16m1 -136v23m0 91v4m1 -117v13m1 6v3m1 -10v6m0 55v5m0 24v4m1 -110v1m0 55v31m1 -85v11m0 42v25m0 49v6m1 -120v7m0 44v8m0 44v5m1 -98v7m1 6v6m0 56v5m1 -105v1m0 80v4m0 43v7m1 -48v17m1 -100v12m0 57v4m1 -20v11m1 -67v1m0 26v9m0 11v38m1 -43v10m0 31v5m1 -91v1m2 13v3m3 -16v1m1 2v1m0 2v23m1 -26v1m3 10v4m1 -15v1m2 -1v1m3 -2v1m2 -2v1m4 -2v1m1 -1v1m1 0v1m1 1v1m2 -1v1m1 -2v1m2 -1v1m1 -2v1m1 -3v1m4 3v1m1 -1v1m1 -2v1m1 -1v1m1 1v1m1 2v1m0 2v19m1 -22v1m1 80v16m1 -99v1m0 91v17m1 -108v11m0 64v6m0 43v3m1 -126v4m0 31v36m0 59v3m1 -131v5m0 52v1m0 31v42m1 -130v23m0 47v13m0 33v14m1 -132v1m0 33v14m0 44v31m1 -91v29m0 18v14m1 -94v1m0 21v12m0 14v8m0 45v4m1 -59v8m0 44v35m1 -126v30m0 25v8m0 50v8m1 -109v8m0 15v7m0 31v40m1 -53v25m0 20v6m1 -58v7m0 18v6m0 26v5m1 -79v12m0 37v5m1 -79v6m0 28v7m0 25v8m1 12v18m1 -119v16m0 27v6m0 10v4m0 48v2m2 -89v23m1 -30v2m0 32v6m1 -45v13m0 7v37m1 -28v4m1 7v3m0 29v3m1 -22v5m14 37v1m6 -7v2m5 -18v3m1 13v2m5 -41v2m0 25v1m2 -12v2m2 0v3m3 11v1m4 -26v1m0 30v3m1 -34v1m1 15v3m4 6v1m1 -18v2m0 7v2m0 6v1m7 -22v2m4 23v3m1 3v1m1 19v1m1 -1v1m1 -37v1m1 -1v1m1 -6v3m1 -37v9m0 22v4m1 6v2m0 35v1m7 -103v6m0 7v8m0 27v18m0 18v7m1 -23v8m1 -14v1m0 5v1m0 1v1m1 -3v1m1 -54v10m0 30v4m1 -25v30m2 -66v9m0 3v10m0 37v3m0 34v4m1 -115v6m0 14v4m0 52v2m1 -15v4m1 -19v5m0 31v7m1 -49v4m0 27v5m1 -30v6m0 14v7m1 -59v4m0 16v7m1 -28v5m0 12v4m0 52v12m1 -29v3m0 40v6m1 -48v28m2 2v8m4 -10v3m0 16v3m1 -105v6m0 8v6m0 78v3m1 -104v15m0 63v10m1 -18v14m1 -106v11m0 84v14m4 -70v5m2 42v2m3 18v3m2 16v1m3 -35v1m1 -1v1m4 10v1m3 -18v3m9 7v2m3 -9v3m1 2v1m1 -1v1m6 3v1m10 -6v2m0 30v2m3 -50v2m0 46v3m1 -38v2m11 -6v1m1 -8v2m6 48v2m1 -28v1m2 -21v2m2 15v3m3 3v2m3 8v7m2 -129v1m0 24v10m1 2v5m1 70v10m1 -22v7m1 -27v24m0 28v5m1 -63v16m0 45v2m1 -38v6m1 18v14m1 -65v17m0 40v8m1 -104v6m0 68v6m0 14v10m1 -103v9m1 -38v11m0 18v23m1 -50v4m1 9v6m0 56v10m1 -70v5m1 3v6m1 9v6m1 -48v11m1 -10v4m1 -13v1m1 -4v1m1 -1v1m1 0v1"/><path stroke="#00dcff" d="M107 631v3m1 -30v1m0 23v1m1 -1v1m1 43v2m2 -44v2m1 6v3m3 1v1m1 -15v3m0 4v3m0 4v1m6 6v2m1 -15v3m0 9v2m1 -4v1m1 4v2m3 -55v1m4 35v1m7 -21v3m0 25v3m4 28v1m3 -47v1m6 -73v4m6 30v21m0 15v6m1 33v10m1 -136v1m0 1v12m2 22v9m0 12v38m1 -55v4m0 28v12m1 -10v6m2 -44v5m0 13v8m0 44v4m1 -113v1m0 5v3m0 29v5m0 36v11m1 -92v1m0 15v15m1 -31v1m0 66v4m0 14v4m0 35v13m1 -137v1m0 58v4m0 26v5m0 19v5m0 18v5m1 -143v1m1 -3v1m1 -2v1m1 -1v1m1 0v1m1 -2v1m4 -2v1m10 -3v1m2 1v1m1 -1v1m1 -1v1m1 1v1m1 1v1m3 -3v1m2 5v1m2 103v4m0 19v5m1 -127v1m0 98v21m1 -119v1m0 30v6m0 17v7m0 39v20m1 -87v3m0 34v3m0 35v5m0 14v5m1 -130v1m0 36v7m0 14v7m0 40v8m0 9v9m1 -135v1m2 -5v1m0 56v10m0 2v11m1 -79v1m0 62v25m1 -87v1m2 0v1m1 -4v1m3 -5v1m1 0v1m3 3v1m2 -3v1m1 50v17m1 -67v1m0 35v19m0 23v24m1 -74v5m0 33v22m0 5v11m1 -101v5m0 10v8m0 90v4m1 -117v1m0 19v4m0 88v3m1 -115v1m0 19v4m0 90v6m2 -14v20m1 -125v1m0 46v6m0 39v3m1 -96v1m0 62v5m0 29v4m1 -38v7m0 26v5m1 -104v1m1 0v2m1 -2v1m1 0v1m1 -3v1m1 -3v1m3 -2v1m2 0v1m5 -5v1m1 -1v1m2 -2v1m1 -2v1m1 -3v1m1 -2v1m8 -2v1m2 3v1m1 0v1m1 -1v1m1 -2v1m1 -1v1m1 1v1m1 0v1m3 4v1m1 0v1m1 0v1m1 4v4m0 51v6m0 20v6m1 -62v4m0 93v10m1 -117v4m0 107v5m1 -128v4m1 -3v9m1 15v5m0 38v5m0 44v3m1 -74v9m0 6v8m0 57v3m1 -82v5m0 18v5m8 4v1m0 22v20m1 -9v10m1 -27v1m7 -11v1m2 20v8m3 -21v1m1 -97v1m0 4v10m0 82v3m0 1v2m1 -25v22m2 -81v33m1 34v1m1 -49v2m0 31v2m0 32v6m1 -84v4m0 50v5m1 -66v2m0 76v18m1 -107v3m1 77v6m0 5v5m1 0v2m1 -93v4m0 53v7m0 30v1m1 -43v2m0 31v3m0 9v4m1 -122v1m0 63v1m1 -60v15m0 116v2m1 -27v1m0 3v8m4 -32v2m0 39v6m1 -102v5m0 22v5m0 23v4m0 24v3m1 -119v1m0 41v14m1 -55v1m0 80v4m1 -80v3m0 34v6m2 29v4m0 27v4m1 -100v10m0 86v19m1 -90v13m0 19v1m1 -35v4m1 -36v5m0 20v4m2 -20v2m0 25v5m1 -33v3m0 54v8m1 -38v3m0 40v3m1 -43v2m0 42v2m1 -50v6m0 49v4m1 -87v4m0 88v3m1 -97v4m0 42v12m0 26v3m1 -86v5m0 55v29m1 -95v1m0 114v3m1 -74v10m0 11v6m1 10v2m0 45v4m3 -1v1m1 -82v10m2 -51v2m1 -4v1m0 16v6m1 -10v22m3 -21v9m0 11v8m0 46v14m1 -98v3m0 32v3m0 26v3m0 33v4m1 -68v4m6 38v1m1 -1v1m11 16v2m9 -21v1m2 -4v2m3 -9v2m3 30v2m3 19v2m4 -41v2m1 14v3m1 5v1m1 -1v1m3 -12v2m1 0v2m3 -12v19m1 -18v1m5 -36v2m0 34v2m1 -38v4m0 37v3m1 -25v8m1 -69v2m0 43v4m1 -55v4m0 62v5m1 -94v1m0 12v6m0 81v22m0 12v5m1 -139v1m0 6v5m0 15v8m0 55v4m0 26v4m2 -21v3m0 22v3m1 -93v7m0 5v7m0 25v3m1 -42v3m0 20v13m1 -27v4m1 -8v4m1 25v5m1 -16v15m1 -49v4m0 44v33m1 -82v4m0 68v8m1 -60v4m0 19v18m0 13v8m1 -66v2m0 26v7m0 37v3m1 -79v3m0 23v5m0 21v8m0 7v8m1 19v4m1 -4v4m1 -18v6m1 -89v5m0 30v5m0 46v5m1 -125v1m0 7v3m0 105v19m1 -38v16m1 -34v7m0 3v13m2 -29v1m3 33v3m1 -5v2m6 -19v1m1 12v2m1 -15v1m1 -1v1m0 1v1m1 -3v1m1 -1v1m1 -1v1m0 15v1m1 -17v1m0 13v1m0 1v1m1 -17v1m0 13v1m1 -15v1m0 16v1m0 9v1m1 -28v1m1 -1v1m1 -1v1m1 -1v1m1 -1v1m1 -1v1m2 1v2m4 8v1m0 30v2m1 -45v1m0 11v1m0 2v2m1 -17v1m0 35v1m1 -37v1m1 -1v1m1 -1v1m1 -1v1m1 -1v1m1 -1v1m0 19v1m1 -1v1m0 22v3m1 -9v3m1 -23v2m2 -7v1m0 4v1m3 6v1m1 -1v1m4 -1v1m3 -14v1m1 -12v1m1 -1v1m1 -1v1m0 17v1m1 -19v1m0 17v1m1 -19v1m0 23v1m1 -25v1m0 3v1m1 -5v1m0 16v2m1 -19v1m2 -3v2m2 3v2m2 -19v3m3 25v3m8 6v1m3 -7v3m3 -24v1m0 5v2m1 -8v1m8 -32v1m1 42v2m1 19v2m4 -9v1m1 -1v1m2 -20v3m1 6v1m1 -19v2m1 3v2m1 38v1m1 0v1m0 4v2m1 -47v1m0 44v2m1 -72v7m0 18v2m0 4v1m0 39v1m1 -76v1m0 9v2m0 17v2m1 -43v6m0 17v1m0 17v1m1 -44v2m0 24v1m0 16v1m1 -44v2m0 23v2m0 16v1m0 37v2m1 -85v6m0 17v1m0 21v1m1 -47v4m0 3v2m0 13v1m0 23v1m1 -47v3m0 4v2m0 12v1m0 24v1m0 23v1m1 -63v1m0 11v1m0 25v1m0 44v1m1 -82v1m0 7v1m0 27v1m0 9v1m0 33v2m1 -80v1m0 3v1m0 29v1m0 9v1m0 6v1m0 26v3m1 -79v2m0 30v2m0 39v6m1 -2v1m1 -46v1m1 -1v1m1 -1v1m1 -1v1m1 -1v1m1 -1v1m1 -1v1m1 -1v1m7 22v1m8 -53v7m2 30v12m2 -101v9m1 -14v1m0 14v7m0 47v5m0 48v6m1 -66v4m0 40v6m1 -53v6m0 38v5m1 -74v5m0 74v4m1 -80v5m0 10v7m0 21v5m0 24v4m1 -84v5m0 24v5m1 -30v5m0 33v3m0 47v6m1 -59v12m1 -11v4m1 -37v20m0 14v9m1 -51v4m1 -9v5m0 28v12m0 33v26m1 -52v5m0 40v13m1 -56v5m1 -6v3m1 -13v4m1 -63v2m0 95v5m1 -103v2m0 100v3m1 -98v4m0 95v5m1 -97v10m0 77v4m1 -100v5m0 108v9m1 -113v3m1 -7v8m0 42v5m0 33v6m1 -68v8m1 -43v10m0 24v8m0 80v4m1 -117v17m0 7v20m0 57v8m1 -99v28m0 42v25m1 -83v7m0 42v7m0 5v14m1 -42v4m0 54v4m1 -137v1m0 47v37m1 -10v4m0 30v28m1 -71v25m0 3v2m1 -96v1m0 18v7m0 58v7m1 -94v1m0 34v9m0 46v3m2 -91v1m1 13v4m1 -18v1m1 -3v1m2 3v2m0 23v8m1 -33v14m1 -16v1m1 -1v1m1 15v4m1 -18v1m1 -2v1m2 -2v1m1 -1v1m2 -1v1m2 -2v1m1 -1v1m1 -1v1m4 2v1m0 7v6m1 -14v1m3 -3v1m4 -5v1m1 0v1m1 2v1m0 17v21m3 -38v1m3 4v2m0 19v6m1 -27v24m1 -25v2m0 73v6m0 16v6m1 -104v1m0 11v15m0 54v10m0 17v5m1 -102v19m0 36v9m0 52v4m1 -126v31m2 51v33m1 -117v2m0 24v7m1 -36v1m0 28v5m0 29v18m1 -79v1m0 11v9m0 34v6m0 35v4m1 -47v6m0 31v7m1 -28v50m1 -93v15m1 76v4m1 -55v18m1 -30v6m0 26v5m1 -33v1m0 6v5m0 2v11m2 -32v10m0 54v4m3 -98v3m0 23v6m1 -26v7m1 13v3m0 75v2m1 -70v3m0 23v3m4 14v1m5 2v2m3 -7v2m0 1v1m1 -4v1m0 2v1m3 5v2m8 -29v1m2 27v1m13 -17v2m2 -27v1m0 22v1m0 1v1m1 -1v1m4 0v2m1 2v2m0 14v1m1 -25v1m0 14v1m0 8v1m6 -11v1m6 -2v1m1 -9v1m2 5v1m1 -8v1m0 6v1m1 -12v1m0 3v1m0 6v1m1 7v1m2 -49v9m0 4v9m8 -49v7m0 78v14m1 -29v8m0 18v3m1 -34v10m0 22v2m2 -80v11m0 12v7m3 -48v3m0 50v4m0 27v3m1 -105v14m0 58v3m1 -14v6m0 31v18m1 -69v7m0 15v9m1 -38v4m0 18v5m1 -19v14m1 -48v16m0 39v1m1 -56v12m0 43v1m1 -2v3m0 33v4m2 -39v1m5 27v6m0 5v5m1 -96v8m0 66v2m0 11v5m1 -42v2m3 12v1m2 5v1m4 4v1m1 -11v1m0 9v1m6 -2v2m4 -21v1m2 14v1m2 -19v1m1 -1v1m1 -1v1m2 -28v1m0 26v1m0 13v1m1 -15v1m1 -12v1m0 10v1m0 13v2m1 -16v1m1 -1v1m1 -2v3m1 -2v1m1 -1v1m1 -1v1m6 10v2m6 6v2m1 -3v2m3 -43v2m1 27v1m1 -1v1m6 -2v2m0 7v2m3 -10v1m2 -5v1m1 -20v1m1 -1v1m0 28v1m0 7v1m2 -15v1m0 29v1m1 -31v1m0 12v3m0 14v1m4 -33v2m2 1v1m3 0v3m3 8v1m7 -93v8m0 65v1m1 -91v1m0 30v6m0 53v1m1 -1v1m0 31v15m1 -30v7m0 19v4m1 -33v15m0 2v11m1 -42v11m0 31v3m1 -30v5m0 24v3m1 -47v1m2 -52v18m0 45v5m1 -64v15m0 33v39m1 -114v18m0 23v52m1 -98v5m0 58v24m1 -72v6m0 43v7m0 10v9m1 -74v5m0 52v17m1 -65v5m1 10v5m1 -42v24m1 -30v3m1 -15v7"/><path stroke="#00f3ff" d="M108 670v2m1 -5v3m5 -1v3m2 -1v1m1 -1v1m11 -61v3m0 55v1m19 -37v1m12 -24v15m2 -86v1m2 43v12m1 -13v28m3 -31v13m0 56v5m0 16v5m1 -138v5m0 37v7m0 13v16m0 11v10m1 -101v1m0 2v12m0 15v7m0 32v18m1 -25v4m0 22v4m0 24v7m0 13v4m1 -86v4m0 35v6m0 6v7m1 -114v1m0 119v11m1 -133v1m3 -1v1m4 -5v1m3 -2v1m3 1v1m1 -1v1m11 3v1m3 0v1m2 4v1m1 97v4m0 28v4m1 -130v1m0 91v6m0 21v6m1 -99v5m0 30v7m0 21v11m0 20v5m1 -123v1m0 27v3m0 40v3m0 28v4m0 24v1m1 -101v7m0 28v5m0 29v6m1 4v7m2 -72v5m0 23v7m1 -85v2m0 49v11m0 25v9m2 -94v1m3 -8v1m3 0v1m1 -1v1m1 0v1m1 2v3m1 -4v1m1 44v26m1 -73v1m0 41v9m0 17v12m1 -49v6m0 19v23m0 24v6m1 -106v1m0 21v4m0 76v8m0 25v2m1 -131v10m0 102v4m1 -120v9m0 4v6m0 95v3m1 -117v5m0 10v4m0 100v7m2 -1v6m1 -130v10m0 28v8m0 48v4m1 -99v2m0 55v5m0 38v5m1 -108v1m0 57v7m0 38v4m2 -105v3m1 -4v2m1 -1v2m1 -4v2m2 -5v1m1 -1v1m2 -1v1m2 -2v1m3 -4v1m3 -1v1m5 -6v1m1 -1v1m1 -2v1m1 -2v1m1 -1v1m1 0v1m1 -1v1m2 1v1m6 4v1m1 0v1m1 0v1m1 1v1m1 1v1m3 9v3m0 42v6m0 32v6m0 25v14m1 -103v3m0 44v3m0 35v8m1 -103v4m0 52v17m0 29v5m1 -119v4m1 2v9m0 60v22m1 -71v7m0 26v5m0 52v3m1 -68v6m1 0v9m23 -71v4m3 47v5m0 70v4m1 -43v42m1 -90v3m0 25v3m0 40v20m1 -100v4m0 41v5m1 -59v3m0 67v6m1 -86v3m1 -18v4m0 33v7m0 46v2m0 16v4m1 -106v6m1 9v3m0 45v5m1 -75v33m0 35v2m0 36v9m1 -90v12m0 22v2m1 34v2m1 23v15m4 -45v2m0 33v4m1 -91v22m0 32v4m0 16v4m1 -93v19m1 -40v1m0 38v18m0 5v2m0 11v5m1 -73v3m0 26v5m2 39v5m0 16v6m2 -107v1m0 48v10m0 1v8m1 -68v1m0 30v3m1 -27v5m0 9v6m2 -14v3m0 17v5m1 -25v3m0 45v6m1 -27v2m0 35v3m1 -38v2m0 38v2m1 -42v6m0 39v4m1 -79v3m0 82v3m1 -90v3m0 34v5m0 12v6m0 16v4m1 -78v5m0 35v15m1 -65v1m0 74v6m0 29v4m1 -80v9m0 27v3m0 56v2m1 -49v3m0 36v6m7 -109v5m4 6v11m1 2v3m0 32v3m0 26v4m1 -72v8m8 79v3m2 -31v2m4 -7v1m2 -9v2m8 11v1m1 -1v1m0 4v1m1 9v3m1 -8v1m2 -10v3m2 -20v1m18 15v1m9 -35v3m0 28v3m1 -32v5m0 28v4m2 -81v3m0 35v5m1 -47v3m0 52v7m1 -88v12m0 6v11m0 64v6m0 22v12m1 -131v4m0 28v11m0 39v5m0 34v6m2 -24v4m0 15v3m1 -83v5m0 35v2m1 -41v6m0 5v9m0 13v5m1 -28v8m1 -12v6m1 24v3m1 -4v9m1 -54v6m0 25v13m0 33v5m1 -83v4m0 56v8m1 -48v19m0 18v13m1 -56v3m0 16v7m0 7v6m0 27v4m1 -73v4m0 14v5m0 34v7m3 19v7m1 -91v6m0 18v6m0 56v5m1 -129v7m2 78v3m1 16v1m8 11v2m2 -13v1m1 -9v3m0 5v1m5 -22v1m9 -1v3m3 19v1m1 -1v1m0 10v1m3 -2v1m4 -15v1m5 -13v1m0 12v2m3 -23v1m1 -1v1m0 8v1m3 12v1m14 -3v1m1 -1v1m1 2v1m1 -1v1m2 2v3m3 -22v1m9 -37v3m0 28v1m1 -1v1m10 24v2m2 7v2m0 6v3m17 -29v3m1 23v1m1 -31v1m0 3v2m0 24v2m1 3v2m1 -74v1m0 6v2m0 40v3m0 21v2m1 -82v4m0 12v1m1 -23v2m0 21v1m1 -24v2m0 20v1m0 58v1m1 -80v2m0 13v2m1 -15v2m0 10v1m1 -13v1m0 10v1m1 -12v2m0 8v1m1 -9v1m0 5v1m0 74v1m1 -80v3m2 73v2m3 1v1m1 -3v3m11 -40v1m12 -91v2m1 -4v14m0 59v6m0 34v8m1 -56v3m0 32v5m1 -41v6m0 27v5m1 -64v6m0 13v27m0 23v5m1 -71v10m0 33v5m0 15v4m1 -75v7m0 11v6m1 -20v5m0 24v4m0 56v6m1 -53v7m1 -14v4m1 2v7m1 -54v6m0 38v26m0 23v8m1 -105v9m0 4v15m0 12v33m0 26v6m1 -53v6m0 26v8m1 -38v5m1 -8v3m1 -12v4m1 -65v3m0 88v4m1 -96v3m0 94v3m1 -91v5m0 86v4m1 -82v8m0 64v5m1 -91v5m0 99v4m1 -101v3m1 -2v8m0 29v5m0 44v7m1 -122v1m0 40v6m1 -25v24m1 -8v7m0 85v8m1 -79v12m0 18v12m0 25v9m1 -85v7m0 30v5m0 26v10m1 -128v1m0 15v8m0 48v4m1 -33v6m1 31v5m0 16v9m1 -18v3m0 2v18m1 -103v8m0 72v4m1 -70v7m0 58v3m2 -93v7m1 10v3m3 -22v1m1 35v7m1 -26v4m1 -19v1m0 6v12m1 -19v1m0 7v9m1 2v2m1 -19v13m2 -14v1m0 10v2m2 -14v1m1 -1v1m1 -1v1m1 -2v1m2 13v6m1 -20v1m0 11v3m1 -16v1m1 -1v1m1 0v1m1 2v7m0 6v5m1 -18v17m1 -18v1m1 -2v1m2 -1v1m2 -4v1m3 14v5m0 21v6m1 -43v1m0 7v27m1 -35v1m0 9v7m2 -18v1m1 1v1m0 7v16m1 6v7m1 -10v10m1 -33v30m0 39v4m0 28v6m1 -109v11m0 15v7m0 39v8m0 32v4m1 -87v16m0 7v13m0 65v3m4 -129v4m0 14v6m1 -4v4m1 -26v11m0 49v6m0 24v5m1 -37v6m0 20v5m5 -30v9m0 9v8m1 -16v2m2 47v2m3 -97v4m0 14v5m2 3v4m0 24v1m1 -19v4m0 18v1m11 23v2m5 -50v1m1 49v1m1 6v1m10 -31v1m1 6v3m1 15v2m9 -30v1m1 10v1m1 5v3m4 -50v2m1 20v1m2 39v2m6 -67v3m1 42v2m4 -14v3m1 27v1m6 -29v1m1 14v1m1 -31v4m9 38v18m1 -21v11m0 1v10m2 -67v12m3 16v3m0 20v4m1 -27v3m0 35v3m1 -49v31m1 -44v15m1 -25v18m4 9v5m0 23v5m7 -1v5m1 -15v11m14 -16v2m12 6v1m1 -1v1m1 2v1m4 -16v1m0 27v2m5 -23v2m3 6v2m8 -31v3m2 23v1m4 -25v1m5 38v1m1 -18v1m1 -1v1m1 5v1m4 -22v2m0 19v3m7 -20v1m1 8v3m4 -54v2m0 33v1m12 -97v1m0 7v8m1 -16v1m0 3v16m2 93v19m1 -14v2m1 -20v7m0 19v5m1 -22v5m0 15v4m3 -77v14m0 26v5m1 -44v33m0 39v7m1 -28v10m1 -103v7m0 9v13m0 20v9m0 24v14m1 -80v6m0 32v5m0 26v7m1 -76v7m0 39v6m0 17v6m1 -66v6m0 41v11m1 -43v5m1 -23v9m0 82v8m1 -126v3m1 -11v8m1 -18v1"/><path stroke="#0cfff3" d="M120 593v1m0 64v2m7 -43v1m2 -15v1m27 68v1m11 -20v16m1 -84v13m0 37v10m1 -110v2m0 34v5m0 21v6m0 18v5m0 28v20m1 -140v28m0 30v4m0 30v4m0 14v6m1 -116v12m0 36v6m0 45v6m1 -49v38m0 16v8m0 11v6m1 -138v2m1 -4v1m1 -1v1m2 -1v1m1 -4v1m1 -2v1m3 1v1m2 -3v1m1 0v1m3 0v1m1 -1v1m1 -2v1m2 0v1m1 0v1m2 -1v1m1 1v1m1 1v1m2 -3v1m1 -1v1m2 5v1m1 104v20m1 -122v1m0 92v3m0 36v3m1 -132v2m0 84v5m0 33v6m1 -130v1m0 19v5m0 42v21m0 36v4m1 -126v2m0 21v4m0 46v4m0 20v4m1 -101v15m0 3v11m0 40v7m0 15v7m1 -102v1m0 101v10m0 7v15m1 -137v1m0 53v17m1 -72v1m0 45v5m0 35v7m1 -90v6m0 31v12m0 45v7m1 -102v1m0 65v14m2 -79v1m1 -4v1m2 -6v1m1 0v1m1 1v3m1 -3v3m2 3v7m1 -10v4m0 31v25m1 -62v1m0 39v6m0 26v5m1 -40v4m0 38v8m1 -86v1m0 24v4m0 78v6m1 -94v4m0 88v9m0 10v6m1 -13v5m1 -116v4m0 104v3m1 -115v10m0 111v7m2 -2v4m1 -124v28m0 60v3m1 -100v7m0 40v8m0 48v7m1 -62v5m0 49v4m1 -111v2m1 3v2m1 -4v3m1 -2v3m1 -5v3m0 35v15m4 -58v1m2 0v1m2 -5v1m1 -2v1m2 0v1m1 -1v1m1 -1v1m1 -2v1m2 -4v1m1 -2v1m10 2v1m1 0v1m1 -1v1m1 -2v1m1 -1v1m1 2v4m4 2v1m1 -1v1m1 0v1m0 65v3m1 -58v6m0 30v6m0 44v25m1 -86v3m0 31v10m0 3v15m0 10v10m1 -91v3m0 43v6m0 17v9m0 15v5m1 -110v5m0 60v22m1 -76v6m0 50v4m0 22v7m1 -71v26m0 60v6m6 -66v1m22 -9v5m0 25v40m1 -50v1m0 52v1m1 -88v3m0 20v2m1 -33v5m0 32v4m1 -51v2m0 61v4m1 -77v4m0 81v2m1 -101v4m0 24v5m0 75v3m1 -103v11m0 9v7m1 -15v3m0 38v4m1 -37v4m0 29v2m1 -70v1m0 21v5m0 12v6m0 13v3m6 33v2m0 28v3m1 -29v5m0 6v5m1 -111v1m0 15v6m1 -20v6m0 26v6m0 25v11m1 -65v3m0 19v4m2 49v16m2 -100v1m0 18v4m0 35v1m1 -59v1m0 22v2m1 -14v9m2 -5v17m1 -17v4m0 34v7m1 -19v3m0 29v3m1 -33v2m0 34v2m1 -34v5m0 30v4m1 -72v3m0 34v14m0 27v4m1 -84v3m0 27v4m0 23v16m1 -69v35m1 -49v6m0 56v6m0 12v7m0 17v5m1 -83v7m0 39v3m0 50v3m1 -44v2m0 29v5m7 -114v1m0 1v9m5 21v3m0 38v4m0 17v5m10 18v2m28 2v2m13 -7v1m8 -58v4m0 20v4m1 -24v7m0 15v6m2 -74v4m0 26v5m1 -39v4m0 41v7m1 -52v9m0 48v7m1 -93v2m0 43v25m0 2v12m0 45v11m2 -31v15m1 -38v3m0 50v1m1 -89v5m0 27v3m1 -23v16m1 -22v22m1 5v3m1 2v7m1 -55v25m0 51v6m0 15v2m1 -102v5m0 33v18m2 -43v16m0 20v5m0 17v5m1 -65v14m3 72v5m1 -90v18m0 67v5m12 -5v3m50 -2v2m31 -26v2m2 19v1m21 -2v5m1 -71v2m0 3v1m0 64v2m1 -76v2m0 9v1m1 -20v6m0 14v1m0 56v2m1 -79v3m0 15v2m0 60v6m1 -84v2m0 10v1m1 -11v1m0 8v1m1 -11v2m0 7v1m1 -9v1m0 6v1m1 -7v2m0 2v1m3 67v2m0 2v1m1 3v1m2 -2v1m1 -4v2m1 -2v4m1 -9v1m1 1v1m1 5v2m20 -53v34m1 -45v4m0 23v5m1 -30v6m0 14v7m1 -53v13m0 27v23m1 -18v15m1 -64v11m1 -9v5m0 15v4m1 20v8m1 -18v3m1 6v8m1 -56v38m0 26v23m1 -88v4m1 45v10m0 5v11m1 -25v6m0 28v12m1 -51v4m1 -12v6m1 -68v2m0 82v4m1 -89v2m0 90v2m1 -83v9m0 74v3m1 -70v7m0 46v11m1 -81v5m0 90v4m1 -94v3m0 43v14m1 -54v9m0 12v8m0 56v16m1 -137v14m0 17v9m3 30v18m0 46v3m1 -81v7m0 19v4m0 41v6m1 -133v1m0 6v8m0 8v15m0 26v7m1 -70v1m0 33v7m1 42v16m1 14v7m1 -120v10m0 84v5m1 -80v5m0 68v3m1 -99v1m0 36v9m0 26v19m0 39v10m1 -130v10m1 3v5m1 -25v3m1 -5v1m1 0v1m0 10v22m1 9v8m1 -30v4m1 -21v5m0 12v4m1 -22v7m0 9v5m1 -1v3m1 -9v13m1 -27v1m1 0v10m0 2v19m1 -33v1m0 28v1m2 -29v4m4 -6v1m0 8v5m0 6v7m1 -26v11m0 3v5m4 1v3m1 -4v4m3 -23v1m2 -2v1m3 22v10m1 -32v1m0 8v3m0 32v4m1 -46v1m0 1v5m0 27v8m1 -42v9m0 7v29m1 -46v1m0 7v14m2 -20v7m0 16v8m1 5v7m1 -7v8m1 -11v8m0 25v6m0 38v6m1 -82v7m0 25v7m0 44v4m1 -75v7m4 -44v14m1 -22v1m0 19v4m1 44v7m0 11v6m1 -26v20m5 -16v9m6 -50v14m2 12v4m0 15v5m1 -14v6m40 17v1m3 9v2m3 -19v2m1 48v1m14 -41v1m17 -1v1m0 28v1m5 -26v6m0 9v5m1 -20v4m0 24v7m7 -37v11m0 2v10m25 -62v2m11 30v1m1 -38v1m31 59v1m30 -112v7m1 -7v3m4 103v19m1 -12v15m3 -59v10m0 7v9m2 22v18m1 -114v9m0 13v20m0 47v25m1 -99v6m0 22v4m0 38v6m1 -75v9m0 25v5m0 29v4m1 -64v5m0 28v8m0 11v9m1 -47v8m1 -22v6m0 68v8m1 -115v3m1 -6v4m2 -22v1m1 0v1"/><path stroke="#23ffdc" d="M116 662v2m21 -2v2m31 -19v18m1 -87v21m0 29v4m0 17v7m1 -92v8m0 18v4m0 38v14m1 -98v36m1 -49v5m0 24v28m0 38v16m0 25v5m1 -141v5m0 72v17m1 -97v5m2 -4v6m5 -9v1m2 -3v1m8 -1v1m3 1v1m7 4v1m1 3v9m1 -8v1m0 97v5m0 20v7m1 -40v4m1 -88v11m0 65v8m0 44v2m1 -118v6m0 108v3m1 -127v7m0 9v5m0 54v7m0 7v6m1 -82v3m0 58v15m1 -38v3m0 35v7m1 -57v6m0 17v5m0 45v16m1 -97v5m0 47v8m1 -92v5m0 3v23m0 64v6m1 -57v15m0 14v10m1 -88v1m0 101v7m3 -116v1m3 3v4m1 -4v4m1 -6v1m1 11v13m1 -19v7m0 12v12m0 25v7m1 -34v5m0 37v5m1 -82v1m0 32v4m0 50v7m0 42v3m1 -137v1m0 19v4m0 88v5m0 19v1m1 -136v1m0 12v4m0 101v10m1 -2v10m1 -15v4m1 9v2m3 -33v5m1 -98v40m0 63v12m1 -126v3m0 44v5m0 58v5m1 -114v2m0 47v15m0 12v28m1 -99v3m1 -4v4m1 -3v2m1 -4v3m0 25v7m0 15v6m1 -63v1m4 -1v1m2 -2v1m3 -4v1m5 -3v1m3 -4v1m1 -1v1m2 -3v1m1 -1v1m3 0v1m1 1v1m4 2v7m1 -7v7m1 -1v6m1 -9v5m1 -4v1m1 1v1m1 2v9m1 -9v3m1 -2v2m0 54v9m0 3v10m1 -62v8m0 16v6m1 -8v5m0 20v6m0 28v10m1 -78v2m0 37v4m0 32v15m1 -100v5m0 48v7m0 22v5m1 -75v6m0 39v5m0 33v11m29 -59v6m0 10v9m1 -47v3m0 30v4m1 -31v2m0 15v3m1 -26v4m0 24v4m1 -45v3m0 21v15m0 18v4m1 -69v3m0 70v8m0 2v9m0 19v1m1 -126v7m0 9v8m0 83v3m0 14v2m1 -111v9m1 -5v2m0 31v5m1 -29v5m0 22v2m1 -50v4m0 23v13m6 38v2m0 23v3m1 -21v6m1 -105v9m1 -2v4m0 13v9m1 -20v2m0 10v7m4 -30v18m1 -18v22m4 -4v6m0 17v11m1 -9v3m0 23v3m1 -28v2m0 30v2m1 -27v6m0 18v6m1 -65v3m0 26v5m0 14v6m0 18v3m1 -77v4m0 19v4m2 -11v33m0 25v17m1 -29v2m0 45v3m1 -39v4m0 18v7m7 -108v1m5 19v1m0 3v7m0 45v17m7 24v1m52 -56v6m0 9v5m1 -13v15m2 -64v4m0 15v7m1 -30v4m0 30v7m1 -36v10m0 29v9m1 -16v2m3 17v3m0 45v2m1 -53v3m1 -10v6m1 -6v7m1 1v3m1 6v7m1 20v15m1 -95v7m0 16v10m2 16v7m0 3v7m30 27v3m92 -71v3m0 62v3m1 -72v2m0 5v2m0 59v8m1 -80v3m0 9v2m0 59v2m0 3v2m1 -83v3m0 9v3m1 -14v2m0 7v1m1 -9v2m0 5v1m1 -8v1m0 5v1m1 -7v1m0 4v1m1 -4v2m4 73v3m2 -5v4m1 -5v2m1 4v1m3 -3v1m9 -1v1m12 -58v6m0 11v6m1 -19v14m4 -43v15m1 32v15m0 19v4m1 -53v4m1 10v7m3 -5v5m1 -8v28m1 -35v5m0 23v10m1 -44v51m1 -117v2m0 32v13m0 32v3m1 -83v2m0 85v3m1 -72v39m0 31v4m1 -60v7m0 17v22m1 -65v6m0 81v3m1 -87v3m0 36v4m0 14v5m1 -50v12m1 -43v17m4 32v19m0 51v4m1 -136v6m0 31v26m1 -40v11m2 86v16m1 -37v4m1 -106v1m0 17v4m0 76v3m1 -74v9m0 9v26m0 19v6m0 27v6m1 -110v20m0 95v5m1 -112v13m0 46v27m1 -108v5m0 77v24m1 -98v18m1 -29v10m0 22v6m1 11v13m1 -39v3m0 34v16m1 -75v1m0 21v3m1 -4v3m1 -1v3m1 1v25m1 -51v13m1 18v7m1 -34v23m0 1v18m1 -47v17m1 -13v8m1 -12v3m1 -4v1m1 -2v1m1 0v1m0 3v4m0 18v4m1 -11v4m1 -24v1m1 -1v1m1 0v1m1 22v3m1 -3v3m1 -24v13m1 -14v1m0 8v4m2 -13v1m2 -4v1m0 13v18m1 -34v1m0 15v14m1 -29v1m0 16v8m0 10v6m1 -33v4m0 39v4m1 -49v1m0 40v6m1 -3v14m1 -59v7m0 14v13m1 -35v1m0 7v20m1 5v5m1 7v6m0 41v11m1 -57v6m0 31v18m1 -58v25m0 50v7m1 -82v25m0 55v3m6 -122v2m0 13v4m1 55v11m14 -27v15m53 51v3m15 -3v1m1 -1v1m15 -25v9m1 -11v5m0 11v8m7 -19v2m107 -29v7m4 -44v8m0 7v7m0 48v9m1 -75v12m0 5v8m0 38v6m1 -65v7m0 14v7m0 28v9m1 -48v12m0 21v35m1 -84v7m0 53v8m1 -104v3m0 113v4m1 -122v4m1 -25v4"/><path stroke="#3affc5" d="M135 662v1m1 -1v1m32 0v11m1 -44v17m1 -77v18m2 -50v7m0 10v7m1 -24v7m0 17v48m0 17v12m0 4v24m1 -132v4m1 -9v1m1 6v4m1 -11v6m1 -9v1m1 -2v1m1 0v1m2 0v1m2 -3v1m1 0v1m1 0v1m1 -1v1m1 -1v1m1 -1v1m1 -2v1m2 0v1m3 0v1m1 1v1m1 1v1m1 -2v1m2 -2v1m1 2v8m0 43v21m1 -60v5m1 81v4m0 32v6m1 -134v1m0 82v5m1 -73v8m0 27v30m1 -77v13m0 117v1m1 -121v9m0 66v7m2 -94v1m0 42v13m0 3v14m0 12v9m1 -97v1m0 40v6m0 28v4m0 33v8m1 -87v6m0 60v11m1 -98v3m0 93v5m1 -112v2m0 28v20m0 39v8m1 -3v9m0 7v8m1 -117v1m1 -4v1m2 -6v1m1 0v1m1 7v3m1 -3v4m1 -9v3m1 21v27m1 -39v12m0 44v7m0 29v17m1 -121v2m0 27v5m0 47v5m0 41v11m1 -109v3m0 61v9m0 28v5m1 -133v6m0 8v5m0 97v19m1 -134v12m2 112v6m4 -23v8m0 6v14m1 -11v9m1 -132v3m0 37v4m0 68v7m1 -119v2m0 40v5m0 15v12m0 28v8m0 21v3m1 -128v3m0 123v2m1 -128v3m1 -4v2m0 33v26m1 -62v4m0 15v6m0 28v5m2 -68v1m1 -1v1m6 -5v1m1 0v1m1 -1v2m1 -2v7m1 -7v8m1 -9v1m2 -4v1m4 -4v1m3 -1v1m1 -1v1m3 4v1m2 0v1m1 5v9m1 -9v10m1 -5v5m1 -9v7m3 3v12m0 65v5m1 -88v2m1 -2v2m0 48v4m0 22v5m0 48v4m1 -111v16m1 3v6m0 6v8m1 -32v3m0 31v3m1 -44v5m0 36v7m0 34v6m0 15v8m1 -98v7m0 27v5m0 49v10m29 -63v10m1 -35v4m0 22v4m1 -25v4m0 8v3m1 -19v6m0 13v5m1 -38v4m0 10v7m0 15v18m1 -62v5m0 19v8m0 35v3m0 19v19m1 -118v9m0 94v6m0 3v5m2 -82v10m1 -19v4m0 15v3m1 -65v2m0 8v7m6 80v2m0 19v2m3 -96v3m1 -2v3m9 1v17m1 5v3m0 16v4m1 -23v2m0 26v2m1 -19v18m1 -56v4m0 17v5m0 25v8m0 3v7m1 -70v6m0 8v5m3 41v3m0 38v4m1 -32v18m12 -80v3m36 90v1m8 -1v2m15 -48v9m3 -53v15m1 -19v6m0 16v8m1 -19v29m4 15v3m0 39v3m1 -48v4m0 44v3m1 -55v5m1 -4v5m0 39v10m1 -50v4m0 36v10m1 -37v7m0 24v6m2 -90v16m2 33v3m35 32v2m88 -70v5m1 -8v3m0 4v2m0 63v3m1 -78v3m0 2v4m1 -9v2m0 3v2m1 -6v2m0 1v2m1 -6v5m1 -5v4m5 71v1m1 -2v6m4 -2v1m1 -1v2m22 -54v11m6 20v19m1 -45v4m1 13v10m0 17v5m5 -42v23m0 10v9m1 -2v2m1 -117v3m0 24v5m0 13v5m0 23v4m1 -78v3m0 79v3m1 -30v11m0 14v6m1 -49v17m1 -37v7m0 24v21m0 26v3m1 -81v2m0 30v4m0 23v3m0 30v9m8 -135v22m3 80v6m1 -98v4m0 83v3m0 25v10m1 -139v1m0 21v5m0 69v6m0 15v6m1 -84v11m0 31v12m0 30v11m1 -94v11m0 29v6m0 27v11m1 -114v6m0 25v16m0 20v10m0 24v8m1 -118v12m0 18v8m1 1v4m1 20v12m1 -48v4m0 25v5m0 16v7m0 18v31m1 -106v3m0 50v43m1 -97v3m1 -1v4m1 22v10m1 -48v36m1 -11v6m1 -45v5m0 42v12m1 -42v6m1 -11v3m1 -12v5m3 -8v3m0 26v3m1 -10v3m1 -26v14m1 -14v1m1 0v25m1 0v3m1 -3v3m1 -14v4m1 -17v8m0 4v5m1 -18v1m0 9v7m1 -5v43m1 -56v1m0 23v11m1 -30v7m0 18v5m1 -38v1m0 7v7m0 14v6m1 -22v4m0 24v5m1 -42v4m0 47v3m1 -5v5m1 6v10m1 -35v30m1 -64v7m0 20v5m1 5v6m1 7v4m0 31v6m0 11v9m1 -60v6m0 19v6m0 18v4m1 20v11m1 -10v4m6 -124v13m100 88v11m35 10v2m1 4v1m2 -2v3m29 -4v2m28 1v1m23 -85v7m0 64v14m1 -77v5m0 52v7m1 -65v14m0 44v9m1 -45v21m1 -42v9m0 36v8m1 -93v4m0 102v7m1 -114v4m1 -25v20m1 -24v1"/><path stroke="#51ffae" d="M172 545v10m1 -10v17m0 77v4m0 24v4m1 -132v3m0 111v14m1 -136v5m1 5v4m1 -9v6m4 -13v1m2 -3v1m8 -1v1m2 1v1m1 -1v1m2 2v8m1 -6v4m2 -7v1m1 55v12m1 -57v6m0 32v5m0 21v6m1 -61v8m0 77v16m1 -24v4m1 -91v2m0 73v7m1 -60v11m0 3v13m4 -48v4m0 27v11m0 30v12m1 -53v6m0 38v5m0 23v5m1 -113v1m0 26v7m0 77v10m1 -7v4m1 -114v8m0 5v15m0 67v7m1 -17v7m0 24v5m1 -121v2m1 -5v7m3 -11v5m1 5v3m1 -2v3m0 82v21m1 -112v5m1 43v12m0 45v5m1 -38v29m0 17v10m1 -129v6m0 16v5m0 57v9m0 17v15m1 -127v3m0 23v3m0 73v15m0 3v10m1 -122v8m3 117v5m4 -20v6m1 12v2m1 -131v3m0 31v3m0 79v15m1 -132v2m0 34v4m0 68v21m1 -122v5m0 112v6m1 -123v5m1 -7v2m0 23v8m0 26v13m1 -71v15m0 39v6m4 -74v1m2 0v1m1 52v14m1 -71v1m2 0v3m1 -2v4m1 1v9m1 -8v7m1 -15v6m1 -8v1m1 -2v3m1 -5v2m1 -2v1m1 -1v1m2 -3v1m1 -1v1m3 0v1m1 1v1m1 2v3m1 -3v1m1 0v4m1 10v5m1 -4v6m1 -6v6m1 -8v5m1 -15v2m0 40v16m1 -56v31m1 -8v7m0 47v11m0 5v8m1 -94v3m0 46v24m1 -73v2m0 42v4m0 31v6m0 25v17m2 -82v6m1 -21v2m0 26v3m1 -36v6m0 21v9m0 47v15m1 -83v12m0 5v10m30 -20v4m0 13v5m1 -17v8m1 -10v13m1 -29v10m1 -17v19m0 39v4m1 32v3m2 -83v6m1 -5v6m0 4v5m1 -60v8m6 89v3m0 12v4m14 -64v6m0 4v6m1 -17v2m0 22v2m2 -51v8m0 2v7m0 38v3m1 -57v8m3 49v3m0 31v4m76 -85v16m5 36v3m0 34v2m1 -41v4m0 34v6m1 -47v7m0 28v15m1 -49v6m0 26v7m1 -36v3m0 26v7m1 -20v24m128 -68v4m1 -7v2m1 -3v3m1 -2v1m12 75v1m30 -45v5m0 35v5m1 -22v17m7 -109v4m0 15v5m0 23v5m0 14v4m1 -71v4m0 24v19m0 29v3m1 -16v14m2 -56v24m0 21v6m0 17v3m1 -76v4m0 23v3m0 30v5m0 18v7m11 -18v8m1 -119v1m0 8v4m0 90v5m0 11v9m1 -111v4m0 80v15m1 -67v7m0 15v9m0 12v30m1 -72v6m0 18v5m0 44v7m1 -115v25m0 16v20m0 42v6m1 -86v8m0 19v21m1 -43v5m1 27v7m1 -51v4m0 15v6m0 28v18m0 31v5m1 -108v3m0 39v8m0 43v5m1 -99v4m1 -1v4m1 28v8m1 -20v7m1 -12v5m0 58v7m1 -56v11m1 -47v7m0 26v29m1 -70v3m1 -10v4m1 -12v3m1 -4v1m0 11v13m1 8v2m1 -9v3m1 -15v5m1 -18v14m1 11v7m1 -4v3m1 -3v3m1 -13v3m1 -3v4m1 -19v7m0 7v14m1 -30v1m0 1v9m0 43v7m1 -49v10m0 11v14m1 -50v6m0 30v3m1 -40v7m0 27v4m1 -38v1m0 7v4m0 33v5m1 7v3m1 -3v5m1 11v9m1 -14v12m1 -44v4m1 7v5m1 6v3m0 24v4m0 26v7m1 -61v19m0 28v5m2 20v6m225 -13v10m1 -8v8m2 -65v12m0 16v8m1 -81v7m0 89v6m1 -103v5m0 47v40m1 -97v7m0 56v29m2 -115v1"/><path stroke="#68ff97" d="M173 671v3m1 -132v3m0 100v8m0 14v5m1 -136v4m1 5v3m1 -6v5m1 -19v1m2 -1v1m0 1v1m1 -1v7m1 -8v4m4 -4v1m1 -1v1m8 0v3m1 7v8m1 -10v7m1 -12v1m2 -2v6m0 44v5m0 12v7m1 -58v5m0 22v5m0 32v6m1 -59v11m0 58v8m0 16v6m1 -119v4m0 81v4m1 -85v4m0 56v13m1 -42v3m4 -31v27m1 -6v6m0 49v6m0 10v7m1 -88v7m0 94v16m1 -19v5m1 -111v5m0 89v7m1 -109v2m0 71v12m0 36v5m1 -124v4m1 -2v4m0 39v16m1 -70v1m1 -2v2m1 4v4m1 4v2m0 74v12m1 -87v5m0 67v10m0 21v13m1 -120v6m0 5v9m1 35v5m0 31v9m0 5v8m1 10v7m1 -130v6m0 1v9m0 71v17m1 -109v4m0 15v4m0 91v3m10 -110v3m0 24v4m1 -33v2m0 29v3m1 -24v35m0 31v32m0 4v10m1 -112v11m1 -16v5m0 11v7m0 47v7m1 -18v6m1 -79v1m0 26v22m1 -49v1m0 109v16m1 -126v15m0 2v7m1 -5v15m1 -34v2m1 -1v4m1 -6v1m0 46v7m0 14v6m2 -77v3m1 1v3m1 -1v5m1 5v8m1 -9v5m1 -14v13m1 -20v12m1 -11v5m1 -8v5m1 -6v4m1 -4v6m1 -8v6m2 -6v8m1 -8v1m1 -1v1m2 2v8m1 -3v4m2 -2v4m1 11v10m1 -8v9m1 -9v12m1 -15v18m1 -31v13m0 5v22m0 16v9m1 -34v9m0 51v9m1 -70v6m0 35v6m0 24v4m1 -95v3m0 32v11m0 24v7m1 -78v2m0 37v3m0 41v25m3 -78v3m0 20v3m1 -27v21m1 0v5m30 -6v13m4 16v5m4 -37v4m7 45v12m14 -54v4m1 -9v3m0 17v2m2 -41v2m4 51v4m0 19v8m81 -26v4m0 28v2m1 -35v5m0 23v6m1 -34v28m1 -28v7m0 12v7m1 -26v6m0 14v6m174 -23v35m8 -105v15m0 33v14m1 -63v8m0 5v11m0 19v6m0 20v3m3 -4v7m0 3v7m1 -69v4m0 14v5m0 38v18m11 -3v19m1 -137v8m0 99v11m1 -107v5m1 39v15m1 -15v18m0 56v6m1 -12v7m1 -85v19m0 21v6m1 -44v5m1 29v7m0 47v2m1 -103v15m1 -17v3m0 30v6m0 56v3m1 -98v3m0 47v39m1 -86v5m1 31v5m1 -18v6m1 -13v6m0 44v8m0 7v7m1 -52v11m1 -51v26m0 29v8m1 -75v3m1 -9v2m1 -11v7m1 -4v5m0 13v7m1 3v3m1 -9v2m1 -12v5m1 -9v11m1 7v6m1 -7v3m1 -3v2m1 -12v3m1 -2v4m1 -25v2m0 28v13m1 -42v1m0 59v10m1 -72v1m0 7v5m0 35v27m1 -38v3m1 -5v4m1 -40v6m0 42v4m1 6v4m1 -2v6m1 14v21m1 -23v27m1 -67v5m1 7v4m0 32v46m1 -73v4m0 16v4m0 37v16m1 -25v5m0 15v6m227 -3v3m1 -3v3m2 -56v16m1 -66v15m0 67v7m1 -92v7m0 32v8m0 40v12m1 -102v5m0 43v8m0 29v7m1 -122v20"/><path stroke="#80ff80" d="M174 545v4m0 56v40m0 27v2m1 -134v4m1 4v3m1 -4v4m1 -22v18m1 -20v1m1 1v1m0 1v7m1 -1v6m1 -10v4m1 -9v4m1 -5v1m1 0v1m3 0v1m1 -1v1m1 -2v4m2 -3v4m1 -3v3m1 -3v5m1 -2v6m1 9v14m1 -17v11m1 -22v4m1 -6v1m0 52v11m1 -58v7m0 32v5m0 24v6m1 -59v22m0 43v32m1 -80v21m0 29v8m0 30v7m1 -122v6m0 71v4m1 -77v3m0 45v8m6 -64v1m0 22v5m0 61v10m1 -100v3m0 10v6m1 103v12m1 -22v6m1 -113v5m0 53v13m0 53v5m1 -125v3m1 -1v5m0 28v6m0 16v4m1 -73v7m1 -7v6m1 2v4m1 2v5m0 56v13m0 12v12m1 -94v13m0 45v9m0 44v5m1 -119v5m0 9v20m0 56v19m1 -55v6m0 17v8m0 22v5m2 -112v1m1 -8v6m0 3v6m10 -9v5m0 14v5m1 -27v2m0 24v3m1 14v11m0 10v10m0 32v4m1 -91v65m0 40v4m1 -120v11m0 61v5m1 -17v11m1 -69v6m0 22v7m0 50v14m1 -20v10m0 16v6m1 -117v2m0 7v11m1 -35v19m0 15v9m1 -41v6m0 20v17m1 -40v5m0 29v19m1 -58v5m0 36v5m0 27v4m1 -80v1m0 53v14m1 -66v4m0 103v3m1 -106v3m1 1v6m1 7v5m1 -9v6m1 -7v11m1 -19v20m1 -26v6m1 -9v3m1 -5v4m1 -2v6m1 -8v7m1 -13v14m1 -6v6m1 -13v7m1 -7v6m1 -6v1m1 9v6m1 -5v4m1 -10v3m1 5v4m1 17v6m1 -5v9m1 -6v10m1 -7v18m1 -36v5m0 47v7m1 -32v11m0 29v11m0 9v7m1 -71v6m0 22v7m0 34v4m1 -96v6m0 15v11m0 42v11m0 39v1m1 -127v2m0 32v3m3 -6v4m0 11v5m36 17v8m26 -27v3m0 10v4m6 18v19m81 -14v4m0 21v3m1 -28v11m0 2v10m2 -21v12m1 -13v14m183 -80v5m0 36v8m0 5v7m3 6v3m1 -58v14m13 -61v12m2 124v2m1 -7v7m1 -46v7m1 -46v29m1 7v9m0 34v4m2 -100v4m0 20v6m0 65v4m1 -99v5m0 34v8m0 39v5m1 -86v11m1 25v5m1 -17v7m0 39v8m1 -61v7m0 30v7m0 22v5m1 -46v32m1 -20v5m1 -77v3m1 -10v3m1 -7v5m1 -15v6m0 25v5m1 1v3m1 -10v2m1 -9v4m1 -2v10m1 3v7m1 -11v3m1 -4v3m1 -12v3m1 -1v3m1 15v7m1 21v6m1 -77v7m0 67v7m1 -42v4m1 -5v4m1 -45v1m0 52v4m1 6v5m1 -1v11m1 24v17m1 -13v11m1 -73v6m1 5v5m0 21v6m0 46v5m1 -74v16m0 57v1m1 -21v15m231 -85v67m1 -78v32m0 60v10m1 -107v5m0 32v6m0 44v6m1 -108v9m1 -28v20"/><path stroke="#97ff68" d="M174 549v4m0 40v12m1 -61v3m1 4v4m1 -4v4m1 -8v9m1 -28v14m1 -4v7m1 -2v5m1 -11v5m1 -10v3m1 -7v5m1 -4v3m1 -2v4m1 -4v3m2 -3v5m1 -3v5m1 -9v4m1 1v4m1 -4v5m1 -3v4m1 0v6m1 17v10m1 -16v17m1 -35v10m1 -15v2m0 42v8m0 11v8m1 -59v5m0 23v4m0 35v10m1 28v8m1 -67v29m0 45v9m1 -125v43m0 22v6m1 -70v5m0 33v7m6 -38v5m1 -21v10m1 121v2m1 -18v18m1 -126v17m0 30v6m0 71v2m1 -124v9m0 36v10m0 45v7m1 -103v7m0 15v6m0 26v4m1 -70v5m1 -6v5m1 1v3m0 48v22m1 -66v7m0 38v11m0 37v24m1 -105v20m0 8v17m0 58v4m1 -89v20m0 21v15m0 19v5m1 -54v17m0 35v4m3 -117v3m10 2v14m1 -20v2m0 19v3m1 28v10m1 20v9m0 21v10m1 -39v8m0 25v10m1 -49v24m1 -113v9m0 6v5m0 35v7m0 33v10m0 14v10m1 -129v10m0 7v19m0 54v9m0 32v5m1 -102v9m0 61v23m1 -85v10m0 10v28m1 -83v7m0 2v11m0 17v6m0 31v12m1 -84v4m0 16v9m0 19v9m1 -62v6m0 23v7m0 36v4m1 -38v8m0 14v7m1 -69v5m0 47v6m0 33v12m0 3v10m1 -113v4m1 3v38m1 -26v4m1 -7v5m1 -1v6m1 -5v5m1 -25v14m1 -20v4m1 -5v5m1 -1v6m1 -7v7m1 -6v7m1 -7v5m1 -11v5m1 -6v6m1 -11v10m1 5v5m1 -6v4m1 -11v3m1 6v3m1 20v4m1 0v16m1 -12v15m1 -4v28m1 -5v8m1 -29v29m0 27v5m1 -70v22m0 45v4m1 -94v15m0 64v39m1 -124v3m0 25v4m3 1v11m62 6v10m87 31v5m0 12v4m1 -14v2m186 -29v5m21 10v12m0 24v3m1 -56v5m1 11v9m0 21v4m2 -92v20m0 75v3m1 -97v7m0 20v7m0 52v4m1 -79v38m0 15v33m1 -56v5m0 21v14m1 -50v8m0 22v9m0 8v6m1 -60v30m0 34v6m1 -20v9m0 11v3m1 -38v4m1 -78v3m0 52v15m1 -77v2m1 -4v3m1 18v7m1 -3v3m1 -11v3m0 72v20m1 -100v4m1 4v9m1 1v6m1 -14v4m1 -5v2m1 -11v2m1 0v4m1 18v5m1 22v7m1 -3v8m1 -46v5m1 -6v4m1 8v4m1 7v9m1 1v19m1 22v5m1 -7v6m1 -73v8m0 71v9m1 -78v6m0 7v8m235 -45v8m0 15v9m0 56v8m1 -107v8m1 -16v7"/><path stroke="#aeff51" d="M174 553v6m0 26v8m1 -46v4m0 100v9m1 -105v4m1 -4v4m1 -3v7m1 -21v16m1 -13v6m1 -3v4m1 -10v4m1 -11v3m1 -5v3m1 -4v5m1 -3v5m1 -6v6m1 -9v2m1 3v5m1 -3v4m1 -9v4m1 1v4m1 -3v4m1 -3v4m1 2v5m1 22v6m1 -5v7m1 -32v31m1 -44v13m0 23v6m0 27v9m1 -63v13m0 1v9m0 49v30m1 6v11m2 -77v22m1 -59v6m0 21v6m6 -48v5m0 5v7m4 8v7m0 18v5m1 -36v6m0 22v8m0 10v8m0 27v10m0 7v8m1 -104v15m0 36v3m1 -68v3m0 41v15m1 -60v3m1 1v48m0 22v7m1 -66v15m0 12v11m0 72v3m1 -88v8m0 79v1m1 -70v21m0 39v5m1 -3v4m14 -120v3m0 12v4m2 70v21m1 -21v25m1 -15v11m1 -115v6m0 47v8m0 15v10m0 34v8m1 -127v7m0 19v7m0 37v10m0 46v2m1 -95v12m0 7v42m0 23v6m1 -81v10m0 28v5m1 -81v2m0 34v7m0 16v8m0 12v6m1 -86v16m0 37v11m1 -67v23m0 47v5m1 -88v7m0 31v7m0 29v7m0 22v21m1 -114v6m0 26v15m0 6v16m0 4v13m0 25v5m1 -114v5m0 23v19m0 37v13m1 -56v8m1 -30v4m1 -6v5m1 0v6m1 -6v4m1 -15v12m1 -28v5m1 -5v6m1 -1v5m1 -5v7m1 -6v8m1 -10v5m1 -11v7m1 -7v32m1 -33v9m1 1v7m1 -9v4m1 -12v4m1 5v5m0 93v11m1 -85v4m1 12v10m1 -7v26m0 48v11m1 -61v6m1 -3v7m1 25v6m1 -5v5m0 16v4m2 -122v4m0 17v4m152 68v12m208 -10v24m1 -48v4m0 45v2m1 -31v21m3 -80v20m0 63v4m1 -45v15m1 -18v21m0 14v16m1 -58v22m0 23v5m1 5v3m1 -14v11m1 -31v3m1 -78v5m0 39v8m0 15v5m1 -80v2m1 -3v4m0 61v26m1 -66v9m0 38v16m1 -63v4m0 52v37m1 -101v2m0 46v24m0 20v7m1 -103v4m0 53v22m1 -66v8m1 -1v6m1 -16v5m1 -8v4m1 -13v3m1 1v3m1 20v6m0 13v12m1 -2v6m1 -1v10m1 -51v7m1 -9v5m1 7v7m1 9v19m1 1v13m1 14v4m1 -5v7m1 -72v71m1 -63v7m235 -29v15m0 73v6m1 -105v23m0 59v23m1 -114v7"/><path stroke="#c5ff3a" d="M174 559v26m1 -34v4m0 82v14m0 9v8m1 -109v4m1 -4v5m1 -1v6m1 -11v7m1 -14v8m1 -7v5m1 -11v3m1 -11v3m1 -5v4m1 -3v6m1 -4v6m1 -6v8m1 -15v6m1 2v5m1 -4v4m1 -9v5m1 0v5m1 -4v4m1 -3v4m1 3v8m1 20v5m1 -3v5m0 48v15m1 -69v11m0 42v25m1 -109v23m0 42v50m1 -100v1m0 88v14m1 3v5m3 -113v21m6 -37v5m4 22v18m1 -25v22m0 26v27m0 25v4m1 -54v3m1 -68v8m0 23v10m0 15v8m1 -65v8m0 35v18m1 17v5m1 -56v12m2 81v4m1 -3v4m14 -121v12m4 95v13m1 -67v15m0 52v1m1 -95v8m0 20v9m1 -25v7m0 71v5m1 -43v5m1 -43v16m0 26v5m1 -27v31m1 -23v5m1 -86v7m0 13v11m0 43v22m0 21v5m1 -113v26m0 37v4m0 43v6m1 -115v23m0 19v14m0 9v14m0 13v12m1 -60v6m0 22v11m1 -65v4m1 -5v8m1 -2v6m1 -8v4m1 -7v5m1 -28v26m1 -25v12m1 -8v8m1 -6v13m1 -11v14m1 -19v7m1 -11v19m1 6v7m1 -31v16m1 -8v9m1 -14v8m1 -16v3m1 7v11m0 75v7m0 11v10m1 -91v3m0 83v4m1 -68v9m1 10v8m0 34v6m1 -44v4m1 0v8m1 23v20m1 -20v16m2 -114v17m361 54v3m0 40v2m4 -1v3m3 -8v6m3 -29v4m1 -77v39m0 28v4m1 -82v2m0 50v40m1 -91v3m0 41v17m0 26v7m1 -64v6m0 26v6m0 16v7m1 -66v6m0 32v14m1 -62v3m0 36v7m0 51v2m1 -101v4m0 42v7m0 22v11m1 -69v9m0 5v24m1 -33v6m1 -17v5m0 50v10m1 -69v3m1 -13v2m1 2v5m0 35v18m1 -32v13m0 12v8m1 -4v8m1 1v12m1 -56v12m1 -16v6m1 8v19m1 9v12m1 2v7m1 11v5m1 -3v7m238 -81v15m0 23v21m1 -84v9m0 90v8"/><path stroke="#dcff23" d="M175 555v6m0 68v8m0 31v4m1 -109v6m1 -5v6m1 -1v13m1 -17v6m1 -12v8m1 -10v6m1 -14v4m1 -12v3m1 -4v5m1 -2v7m1 -5v6m1 -4v7m1 -16v29m1 -22v6m1 -6v4m1 -8v4m1 1v5m1 -5v4m1 -3v4m1 7v7m1 18v5m1 -3v4m0 34v10m0 15v10m1 -68v7m0 23v12m0 25v8m1 -2v9m1 -6v8m15 -5v4m1 -55v3m1 -63v23m0 33v7m1 -64v35m0 18v10m1 12v4m3 37v1m19 -1v1m2 -87v20m2 29v5m1 -1v4m1 0v7m1 -25v32m1 -111v13m0 102v5m1 -2v6m1 -65v9m0 39v8m1 -62v22m0 11v10m1 -71v9m1 -6v18m1 -14v6m1 -10v3m1 -5v5m1 -7v10m1 -23v18m1 -18v8m1 -1v12m1 -9v11m1 -23v11m1 -3v11m1 2v4m1 -19v9m1 -8v8m1 -14v11m1 -24v3m0 118v9m1 -112v6m0 65v4m0 28v9m1 -97v4m0 61v18m0 4v10m1 -69v15m0 43v11m1 -51v6m0 23v5m1 -34v4m0 45v2m1 -43v10m365 -11v4m0 33v3m7 2v2m3 -27v5m1 -11v4m1 -84v3m0 39v8m0 40v23m1 -111v5m0 19v17m0 50v20m1 -78v7m0 13v6m0 29v5m0 16v2m1 -83v32m1 -45v3m0 27v6m1 -37v5m0 31v6m0 40v8m1 -68v5m0 24v9m1 -36v12m1 -24v5m0 37v8m0 10v5m1 -71v5m1 -16v3m1 4v7m0 22v6m0 18v6m1 -5v7m1 -3v8m1 5v4m1 -48v9m1 -19v8m1 19v8m1 13v11m1 -2v5m1 11v5m1 -1v1m238 -67v23m1 -54v16m0 66v8"/><path stroke="#f3ff0c" d="M175 561v10m0 7v22m0 22v7m0 43v2m1 -105v6m1 -5v19m1 -7v12m1 -23v7m1 -11v8m1 -12v11m1 -21v4m1 -13v3m1 -2v5m1 0v12m1 -11v8m1 -5v8m1 5v9m1 -25v6m1 -8v4m1 -8v5m1 1v6m1 -7v6m1 -5v6m1 8v9m1 14v5m1 -4v5m0 22v7m0 35v5m1 -66v23m0 45v6m1 1v2m16 -1v1m1 -53v4m1 -4v7m1 -8v7m1 9v5m26 0v15m1 -12v4m1 3v7m1 0v7m1 2v4m1 0v3m1 -12v8m1 -27v9m1 -71v24m0 7v17m1 -36v13m1 -21v7m1 -14v3m1 -3v3m1 0v5m1 -10v5m1 -15v8m1 3v6m1 -4v5m1 -17v11m1 -3v5m1 1v5m1 -15v6m1 -6v8m1 -11v11m1 -32v4m0 83v31m1 -97v5m0 56v4m1 -52v3m0 47v11m1 -22v13m0 22v8m1 -34v7m0 10v6m1 -25v4m0 29v12m1 -31v11m365 -18v3m0 27v3m10 -15v6m0 10v6m1 -29v5m0 19v5m1 -110v3m0 27v9m1 -35v19m1 16v13m0 40v16m2 -91v4m0 18v5m1 -26v7m0 18v6m0 54v6m1 -36v7m1 -31v39m1 -58v5m0 26v6m0 23v4m1 -70v4m1 -17v3m0 49v15m1 -56v10m0 5v7m0 30v5m1 -3v7m1 -2v6m1 3v3m1 -42v8m1 -19v10m1 17v42m1 -18v7m1 -4v5m241 -71v8m0 51v7"/><path stroke="#fff300" d="M175 571v7m0 22v22m1 -47v13m1 1v16m1 -11v8m0 58v8m1 -90v6m1 -9v7m1 -8v19m1 -36v5m1 -15v5m1 -2v7m1 5v21m1 -24v8m1 -5v6m1 8v4m1 -23v9m1 -13v4m1 -7v7m1 0v6m1 -7v5m1 -4v6m1 11v9m1 10v5m0 30v18m1 -52v8m0 3v11m0 47v5m1 3v3m18 -49v4m0 28v6m1 -35v12m0 16v18m1 -47v7m0 34v6m1 -33v5m0 17v11m26 -18v18m1 -26v5m1 5v16m1 -9v6m1 0v3m2 -4v4m1 -22v12m1 -59v7m0 17v8m1 -31v11m1 -25v8m1 -19v4m1 -4v4m1 1v5m1 -10v6m1 -13v6m1 3v5m1 -4v4m1 -10v5m1 -3v7m1 -1v5m1 -14v5m1 -3v5m1 -5v11m0 37v16m0 30v1m1 -123v10m0 40v33m1 -61v4m0 49v3m1 -45v4m0 37v6m1 2v22m1 -19v10m1 -15v5m0 16v8m1 -8v22m365 -37v5m0 18v4m10 -6v10m1 -18v19m1 -102v5m0 13v9m4 -9v18m1 -14v18m0 66v1m1 -30v7m1 1v5m1 -58v10m0 7v9m0 33v4m1 -70v5m0 29v23m1 -71v5m0 35v9m0 15v6m1 -52v5m0 42v5m1 -1v5m1 -1v3m1 3v2m1 -36v34m1 -43v10m1 49v1m1 -12v6m1 -5v5m241 -68v18m0 23v10"/><path stroke="#ffdc00" d="M176 588v8m1 9v22m1 -25v58m0 8v6m1 -90v7m1 -9v7m1 4v29m1 -60v8m1 -18v6m1 -1v15m1 11v13m1 -29v8m1 -7v6m1 6v4m1 -18v15m1 -24v5m1 -5v9m1 -3v6m1 -8v6m1 -4v8m1 12v12m1 3v10m0 7v13m0 18v8m1 -52v3m0 63v4m19 -43v28m0 6v11m1 -34v16m1 -22v7m0 18v9m1 -22v17m27 -10v9m0 5v7m2 -3v3m4 -10v10m1 -37v7m1 -27v10m1 -27v12m1 -27v4m0 36v11m1 -51v5m1 1v5m1 -9v6m1 -13v6m1 2v4m1 -4v4m1 -9v6m1 -2v10m0 6v16m1 -28v7m1 -16v4m1 -2v5m1 1v10m0 15v12m0 16v30m1 -112v40m1 -24v4m0 41v4m1 -38v4m0 27v6m3 11v16m366 -10v18m12 -88v13m6 66v5m1 1v4m1 -52v7m0 46v5m1 -70v6m0 16v7m0 23v5m1 -71v8m0 16v11m0 30v3m1 -3v4m1 0v4m1 -2v3m1 2v2m1 -4v5m1 -38v50m2 -6v4m1 -4v6m241 -56v23"/><path stroke="#ffc500" d="M176 596v8m1 23v15m2 -51v6m0 63v14m1 -85v9m1 24v14m1 -66v29m1 -41v27m1 -13v18m1 6v15m1 -36v7m1 -8v4m1 6v3m1 -6v9m1 -28v7m1 -3v10m1 -7v7m1 -9v7m1 -3v9m1 15v12m1 1v7m0 39v7m1 11v2m21 -33v18m28 3v5m7 -23v30m1 -47v8m1 -23v34m1 -57v7m0 15v14m0 11v9m1 -55v5m1 1v7m1 -10v13m1 -20v7m1 -1v4m1 -4v4m1 -7v5m1 3v6m0 16v7m1 -28v16m1 -28v5m1 -2v5m1 6v15m2 -34v4m0 31v6m1 -30v6m0 15v6m387 37v6m1 -1v6m1 0v6m1 -70v16m0 35v4m1 -67v16m0 44v3m1 -2v3m1 1v4m1 -3v3m1 1v2m1 -1v4m3 6v2"/><path stroke="#ffae00" d="M176 604v65m1 -27v30m2 -75v7m0 43v13m1 -62v27m0 36v13m1 -38v17m1 -54v29m1 -43v9m1 -4v10m0 4v8m1 -1v7m1 -36v14m0 6v18m1 -42v5m1 4v4m1 -1v7m1 -28v34m1 -27v16m1 -16v7m1 -9v6m1 0v11m1 16v10m1 44v7m58 -33v7m1 4v6m1 -56v15m0 34v8m1 -58v50m1 -42v15m1 -12v14m1 -27v21m1 -18v5m1 -5v4m1 -6v40m1 -8v6m1 -18v8m1 -31v4m1 -1v5m3 -14v7m0 15v9m1 -18v15m387 49v12m1 -7v7m1 -1v1m1 -16v5m1 -9v3m1 -2v3m1 2v3m1 -3v3m1 0v2m1 1v4"/><path stroke="#ff9700" d="M176 669v5m1 -2v2m2 -70v43m1 -22v36m1 -8v16m1 -41v27m1 -61v6m0 24v7m1 -31v4m0 8v15m1 -9v5m1 -27v6m0 18v9m1 -46v5m0 24v23m1 -44v4m0 23v18m1 -39v8m0 23v16m1 -41v8m1 -19v17m1 -26v8m0 34v12m1 -57v7m0 42v19m1 -57v14m0 30v20m1 -38v33m1 18v6m58 -32v7m0 21v4m1 -22v8m1 -7v10m1 -18v11m1 -38v14m1 -12v7m1 -13v9m1 -22v10m1 -11v36m1 -2v34m1 -36v6m1 -16v5m1 -32v6m1 -2v9m0 8v58m3 -82v15m391 56v5m1 -11v3m1 -2v4m1 1v4m1 -4v2m1 0v2m1 3v3"/><path stroke="#ff8000" d="M181 669v5m1 -19v9m1 -64v24m0 7v12m1 -16v7m1 -11v5m1 1v8m1 -49v8m0 7v9m0 23v8m1 -48v8m0 2v13m0 18v11m1 -42v23m0 16v9m1 -42v7m1 -9v12m1 -30v9m0 11v14m0 12v17m1 -67v7m0 25v10m0 19v11m1 -54v30m0 20v10m1 -15v14m59 -15v21m1 -10v14m1 -11v11m1 -18v11m1 -35v24m1 -29v8m1 -12v6m1 -18v13m1 12v13m1 19v6m1 -36v26m1 -37v5m1 -31v21m1 -14v8m394 52v5m1 -13v3m1 -1v4m1 1v4m1 -6v3m1 -1v2m1 4v1"/><path stroke="#ff6800" d="M182 664v8m1 -29v9m1 -18v8m1 -14v6m1 3v11m1 -52v7m0 40v10m1 -50v2m0 42v23m1 -17v9m1 -44v32m1 -29v53m1 -74v11m0 43v20m1 -80v25m0 40v12m1 -6v9m1 -10v10m62 -7v7m1 -18v18m1 -39v27m1 -33v6m1 -11v10m1 15v21m2 -6v10m1 -42v5m1 -15v8m395 43v1m1 -11v3m1 0v7m1 -2v3m1 -6v3m1 -2v2"/><path stroke="#ff5100" d="M182 672v2m1 -22v9m1 -19v11m0 18v3m1 -40v40m1 -26v12m1 -7v11m1 6v4m1 -12v12m1 -24v10m3 11v3m66 -12v12m1 -39v6m1 -7v8m1 28v4m3 -37v8m1 -15v8m396 28v4m1 3v1m2 -3v3m1 -3v2"/><path stroke="#ff3a00" d="M183 661v13m1 -21v18m2 -11v13m1 -9v9m3 -13v14m70 -33v14m1 -13v8m4 -5v29m1 -36v36m396 -4v4m4 -1v1"/><path stroke="#ff2300" d="M186 673v1m1 -1v1m73 -19v19m1 -24v13"/><path stroke="#ff0c00" d="M261 663v11"/></g>
<path d="M105 582.5H436.5V574.5H912.5M841.5 574.5V582.5H912.5M105 575.5H110M180.5 584L185 584L186 580.5L187.5 580L189.3 579L191 581.5L192.5 583.8L194.5 583L194.8 577.3L198.6 577.3L198.8 575.5L206.5 575.5L206.7 574.3L225.1 574.3L225.6 577.3L254.2 577.3L255 579L259.2 579L260.5 587.3L262 584.5L265 583L267 582L268.5 579.5L270 580.5L272 578L274 576.5L276 576L277.5 579L280 576L281 577.4L356 577.4L357 575.5L369 575.5" fill="none" stroke="#000" stroke-width="1.1" shape-rendering="auto"/>
<path d="M104 53h810v1h-810zM104 679h810v1h-810zM104 53h1v627h-1zM913 53h1v627h-1zM123 53h1v3h-1zM123 677h1v3h-1zM145 53h1v3h-1zM145 677h1v3h-1zM168 53h1v3h-1zM168 677h1v3h-1zM190 53h1v3h-1zM190 677h1v3h-1zM213 53h1v3h-1zM213 677h1v3h-1zM235 53h1v5h-1zM235 675h1v5h-1zM258 53h1v3h-1zM258 677h1v3h-1zM280 53h1v3h-1zM280 677h1v3h-1zM303 53h1v3h-1zM303 677h1v3h-1zM325 53h1v3h-1zM325 677h1v3h-1zM348 53h1v3h-1zM348 677h1v3h-1zM370 53h1v5h-1zM370 675h1v5h-1zM392 53h1v3h-1zM392 677h1v3h-1zM415 53h1v3h-1zM415 677h1v3h-1zM437 53h1v3h-1zM437 677h1v3h-1zM460 53h1v3h-1zM460 677h1v3h-1zM482 53h1v3h-1zM482 677h1v3h-1zM505 53h1v5h-1zM505 675h1v5h-1zM527 53h1v3h-1zM527 677h1v3h-1zM550 53h1v3h-1zM550 677h1v3h-1zM572 53h1v3h-1zM572 677h1v3h-1zM595 53h1v3h-1zM595 677h1v3h-1zM617 53h1v3h-1zM617 677h1v3h-1zM640 53h1v5h-1zM640 675h1v5h-1zM662 53h1v3h-1zM662 677h1v3h-1zM684 53h1v3h-1zM684 677h1v3h-1zM707 53h1v3h-1zM707 677h1v3h-1zM729 53h1v3h-1zM729 677h1v3h-1zM752 53h1v3h-1zM752 677h1v3h-1zM774 53h1v5h-1zM774 675h1v5h-1zM797 53h1v3h-1zM797 677h1v3h-1zM819 53h1v3h-1zM819 677h1v3h-1zM842 53h1v3h-1zM842 677h1v3h-1zM864 53h1v3h-1zM864 677h1v3h-1zM887 53h1v3h-1zM887 677h1v3h-1zM909 53h1v5h-1zM909 675h1v5h-1zM104 653h4v1h-4zM910 653h4v1h-4zM104 627h4v1h-4zM910 627h4v1h-4zM104 601h4v1h-4zM910 601h4v1h-4zM104 575h7v1h-7zM907 575h7v1h-7zM104 548h4v1h-4zM910 548h4v1h-4zM104 522h4v1h-4zM910 522h4v1h-4zM104 496h4v1h-4zM910 496h4v1h-4zM104 470h7v1h-7zM907 470h7v1h-7zM104 444h4v1h-4zM910 444h4v1h-4zM104 418h4v1h-4zM910 418h4v1h-4zM104 392h4v1h-4zM910 392h4v1h-4zM104 366h7v1h-7zM907 366h7v1h-7zM104 339h4v1h-4zM910 339h4v1h-4zM104 313h4v1h-4zM910 313h4v1h-4zM104 287h4v1h-4zM910 287h4v1h-4zM104 261h7v1h-7zM907 261h7v1h-7zM104 235h4v1h-4zM910 235h4v1h-4zM104 209h4v1h-4zM910 209h4v1h-4zM104 183h4v1h-4zM910 183h4v1h-4zM104 157h7v1h-7zM907 157h7v1h-7zM104 130h4v1h-4zM910 130h4v1h-4zM104 104h4v1h-4zM910 104h4v1h-4zM104 78h4v1h-4zM910 78h4v1h-4z" fill="#000"/>
<defs><linearGradient id="cb" x1="0" y1="0" x2="0" y2="1"><stop offset="0.000" stop-color="#800000"/><stop offset="0.025" stop-color="#990000"/><stop offset="0.050" stop-color="#b30000"/><stop offset="0.075" stop-color="#cc0000"/><stop offset="0.100" stop-color="#e50000"/><stop offset="0.125" stop-color="#ff0000"/><stop offset="0.150" stop-color="#ff1a00"/><stop offset="0.175" stop-color="#ff3300"/><stop offset="0.200" stop-color="#ff4c00"/><stop offset="0.225" stop-color="#ff6600"/><stop offset="0.250" stop-color="#ff8000"/><stop offset="0.275" stop-color="#ff9900"/><stop offset="0.300" stop-color="#ffb300"/><stop offset="0.325" stop-color="#ffcc00"/><stop offset="0.350" stop-color="#ffe500"/><stop offset="0.375" stop-color="#ffff00"/><stop offset="0.400" stop-color="#e5ff1a"/><stop offset="0.425" stop-color="#ccff33"/><stop offset="0.450" stop-color="#b3ff4c"/><stop offset="0.475" stop-color="#99ff66"/><stop offset="0.500" stop-color="#80ff80"/><stop offset="0.525" stop-color="#66ff99"/><stop offset="0.550" stop-color="#4cffb3"/><stop offset="0.575" stop-color="#33ffcc"/><stop offset="0.600" stop-color="#1affe5"/><stop offset="0.625" stop-color="#00ffff"/><stop offset="0.650" stop-color="#00e5ff"/><stop offset="0.675" stop-color="#00ccff"/><stop offset="0.700" stop-color="#00b3ff"/><stop offset="0.725" stop-color="#0099ff"/><stop offset="0.750" stop-color="#0080ff"/><stop offset="0.775" stop-color="#0066ff"/><stop offset="0.800" stop-color="#004cff"/><stop offset="0.825" stop-color="#0033ff"/><stop offset="0.850" stop-color="#001aff"/><stop offset="0.875" stop-color="#0000ff"/><stop offset="0.900" stop-color="#0000e5"/><stop offset="0.925" stop-color="#0000cc"/><stop offset="0.950" stop-color="#0000b3"/><stop offset="0.975" stop-color="#000099"/><stop offset="1.000" stop-color="#000080"/></linearGradient></defs>
<rect x="923" y="128" width="26" height="478" fill="#000"/>
<rect x="924" y="129" width="24" height="476" fill="url(#cb)"/>
<path d="M947 583h1v1h-1zM947 562h1v1h-1zM947 540h1v1h-1zM947 518h1v1h-1zM947 496h1v1h-1zM947 475h1v1h-1zM947 453h1v1h-1zM947 431h1v1h-1zM947 410h1v1h-1zM947 388h1v1h-1zM947 366h1v1h-1zM947 345h1v1h-1zM947 323h1v1h-1zM947 301h1v1h-1zM947 279h1v1h-1zM947 258h1v1h-1zM947 236h1v1h-1zM947 214h1v1h-1zM947 193h1v1h-1zM947 171h1v1h-1zM947 149h1v1h-1z" fill="#000"/>
<g font-family="Liberation Sans, sans-serif" font-size="20" fill="#000" shape-rendering="auto">
<text x="523" y="40" text-anchor="middle" xml:space="preserve">Reflectivity SNRg   23:01 10.09.2022 - 02:00 11.09.2022 Muenchen</text>
<text x="100" y="65" text-anchor="end">12</text>
<text x="100" y="164" text-anchor="end">10</text>
<text x="100" y="269" text-anchor="end">8</text>
<text x="100" y="373" text-anchor="end">6</text>
<text x="100" y="477.5" text-anchor="end">4</text>
<text x="100" y="582" text-anchor="end">2</text>
<text x="100" y="679.5" text-anchor="end">0</text>
<text x="235.8" y="705" text-anchor="middle">23:30</text>
<text x="370.6" y="705" text-anchor="middle">00:00</text>
<text x="505.3" y="705" text-anchor="middle">00:30</text>
<text x="640.0" y="705" text-anchor="middle">01:00</text>
<text x="774.8" y="705" text-anchor="middle">01:30</text>
<text x="909.5" y="705" text-anchor="middle">02:00</text>
<text x="509" y="727" text-anchor="middle">Time UTC</text>
<text transform="translate(62.5 365) rotate(-90)" text-anchor="middle">Height km</text>
<text x="954" y="140">80</text>
<text x="954" y="221.8">60</text>
<text x="954" y="308.6">40</text>
<text x="954" y="395.5">20</text>
<text x="954" y="482.3">0</text>
<text x="954" y="569">-20</text>
<text transform="translate(1000.5 369) rotate(-90)" text-anchor="middle">SNRg dB</text>
</g>
</svg>
</body></html>
